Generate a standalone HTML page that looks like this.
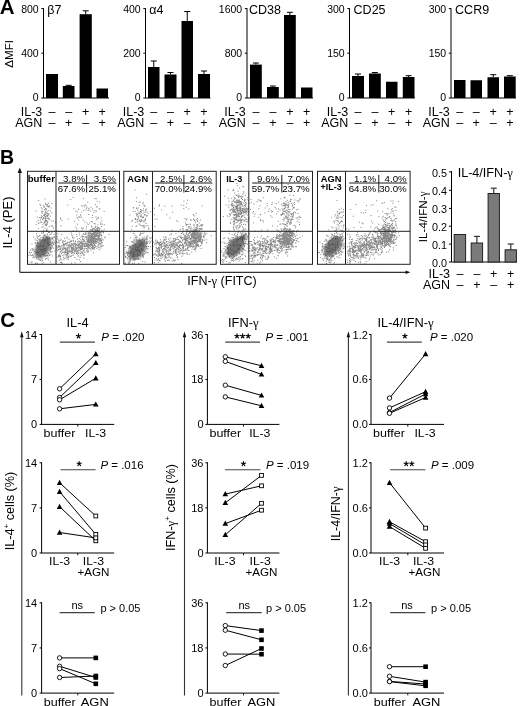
<!DOCTYPE html>
<html><head><meta charset="utf-8"><style>
html,body{margin:0;padding:0;background:#fff;width:520px;height:706px;overflow:hidden}
svg{display:block}
#w{width:520px;height:706px;will-change:transform}
text{font-family:"Liberation Sans",sans-serif;fill:#000}
</style></head><body><div id="w">
<svg width="520" height="706" viewBox="0 0 520 706">
<defs><filter id="soft" x="-10%" y="-10%" width="120%" height="120%"><feGaussianBlur stdDeviation="0.25"/></filter><filter id="coreblur" x="-50%" y="-50%" width="200%" height="200%"><feGaussianBlur stdDeviation="1.3"/></filter></defs>
<rect width="520" height="706" fill="#fff"/>
<text x="-0.3" y="14.3" font-size="20.5" text-anchor="start" font-weight="bold" >A</text>
<text transform="translate(13.0,53.8) rotate(-90)" font-size="11.6" text-anchor="middle">ΔMFI</text>
<line x1="43.5" y1="8.1" x2="43.5" y2="98" stroke="#000" stroke-width="1"/>
<line x1="41.3" y1="98" x2="109" y2="98" stroke="#000" stroke-width="1"/>
<line x1="41.3" y1="8.6" x2="43.5" y2="8.6" stroke="#000" stroke-width="1"/>
<line x1="41.3" y1="53.2" x2="43.5" y2="53.2" stroke="#000" stroke-width="1"/>
<text x="38.7" y="13.2" font-size="10.5" text-anchor="end" >800</text>
<text x="38.7" y="57.0" font-size="10.5" text-anchor="end" >400</text>
<text x="38.7" y="100.8" font-size="10.5" text-anchor="end" >0</text>
<text x="47.2" y="13.6" font-size="12.5" text-anchor="start" >β7</text>
<rect x="46" y="74" width="12" height="24" fill="#000" stroke="none" stroke-width="0"/>
<rect x="62.8" y="86" width="11.700000000000003" height="12" fill="#000" stroke="none" stroke-width="0"/>
<line x1="68.65" y1="85.3" x2="68.65" y2="86" stroke="#000" stroke-width="1"/>
<line x1="65.65" y1="85.3" x2="71.65" y2="85.3" stroke="#000" stroke-width="1"/>
<rect x="79.6" y="14.2" width="12.200000000000003" height="83.8" fill="#000" stroke="none" stroke-width="0"/>
<line x1="85.69999999999999" y1="10.8" x2="85.69999999999999" y2="14.2" stroke="#000" stroke-width="1"/>
<line x1="82.69999999999999" y1="10.8" x2="88.69999999999999" y2="10.8" stroke="#000" stroke-width="1"/>
<rect x="96.5" y="88.5" width="11.5" height="9.5" fill="#000" stroke="none" stroke-width="0"/>
<text x="42.3" y="115.6" font-size="12.5" text-anchor="end" >IL-3</text>
<text x="42.3" y="127.1" font-size="12.5" text-anchor="end" >AGN</text>
<text x="52.0" y="115.6" font-size="12.5" text-anchor="middle" >–</text>
<text x="52.0" y="127.1" font-size="12.5" text-anchor="middle" >–</text>
<text x="68.65" y="115.6" font-size="12.5" text-anchor="middle" >–</text>
<text x="68.65" y="127.1" font-size="12.5" text-anchor="middle" >+</text>
<text x="85.69999999999999" y="115.6" font-size="12.5" text-anchor="middle" >+</text>
<text x="85.69999999999999" y="127.1" font-size="12.5" text-anchor="middle" >–</text>
<text x="102.25" y="115.6" font-size="12.5" text-anchor="middle" >+</text>
<text x="102.25" y="127.1" font-size="12.5" text-anchor="middle" >+</text>
<line x1="145.5" y1="8.1" x2="145.5" y2="98" stroke="#000" stroke-width="1"/>
<line x1="143.3" y1="98" x2="210.5" y2="98" stroke="#000" stroke-width="1"/>
<line x1="143.3" y1="8.6" x2="145.5" y2="8.6" stroke="#000" stroke-width="1"/>
<line x1="143.3" y1="53.2" x2="145.5" y2="53.2" stroke="#000" stroke-width="1"/>
<text x="140.7" y="13.2" font-size="10.5" text-anchor="end" >400</text>
<text x="140.7" y="57.0" font-size="10.5" text-anchor="end" >200</text>
<text x="140.7" y="100.8" font-size="10.5" text-anchor="end" >0</text>
<text x="149.3" y="13.6" font-size="12.5" text-anchor="start" >α4</text>
<rect x="148" y="67" width="11.5" height="31" fill="#000" stroke="none" stroke-width="0"/>
<line x1="153.75" y1="61" x2="153.75" y2="67" stroke="#000" stroke-width="1"/>
<line x1="150.75" y1="61" x2="156.75" y2="61" stroke="#000" stroke-width="1"/>
<rect x="164.5" y="74.5" width="12.0" height="23.5" fill="#000" stroke="none" stroke-width="0"/>
<line x1="170.5" y1="72.5" x2="170.5" y2="74.5" stroke="#000" stroke-width="1"/>
<line x1="167.5" y1="72.5" x2="173.5" y2="72.5" stroke="#000" stroke-width="1"/>
<rect x="181.5" y="21" width="11.5" height="77" fill="#000" stroke="none" stroke-width="0"/>
<line x1="187.25" y1="11.5" x2="187.25" y2="21" stroke="#000" stroke-width="1"/>
<line x1="184.25" y1="11.5" x2="190.25" y2="11.5" stroke="#000" stroke-width="1"/>
<rect x="198" y="74" width="12" height="24" fill="#000" stroke="none" stroke-width="0"/>
<line x1="204.0" y1="71" x2="204.0" y2="74" stroke="#000" stroke-width="1"/>
<line x1="201.0" y1="71" x2="207.0" y2="71" stroke="#000" stroke-width="1"/>
<text x="144.3" y="115.6" font-size="12.5" text-anchor="end" >IL-3</text>
<text x="144.3" y="127.1" font-size="12.5" text-anchor="end" >AGN</text>
<text x="153.75" y="115.6" font-size="12.5" text-anchor="middle" >–</text>
<text x="153.75" y="127.1" font-size="12.5" text-anchor="middle" >–</text>
<text x="170.5" y="115.6" font-size="12.5" text-anchor="middle" >–</text>
<text x="170.5" y="127.1" font-size="12.5" text-anchor="middle" >+</text>
<text x="187.25" y="115.6" font-size="12.5" text-anchor="middle" >+</text>
<text x="187.25" y="127.1" font-size="12.5" text-anchor="middle" >–</text>
<text x="204.0" y="115.6" font-size="12.5" text-anchor="middle" >+</text>
<text x="204.0" y="127.1" font-size="12.5" text-anchor="middle" >+</text>
<line x1="247.0" y1="8.1" x2="247.0" y2="98" stroke="#000" stroke-width="1"/>
<line x1="244.8" y1="98" x2="313" y2="98" stroke="#000" stroke-width="1"/>
<line x1="244.8" y1="8.6" x2="247.0" y2="8.6" stroke="#000" stroke-width="1"/>
<line x1="244.8" y1="53.2" x2="247.0" y2="53.2" stroke="#000" stroke-width="1"/>
<text x="242.2" y="13.2" font-size="10.5" text-anchor="end" >1600</text>
<text x="242.2" y="57.0" font-size="10.5" text-anchor="end" >800</text>
<text x="242.2" y="100.8" font-size="10.5" text-anchor="end" >0</text>
<text x="248.9" y="13.6" font-size="12.5" text-anchor="start" >CD38</text>
<rect x="250" y="64.6" width="11.800000000000011" height="33.400000000000006" fill="#000" stroke="none" stroke-width="0"/>
<line x1="255.9" y1="63.0" x2="255.9" y2="64.6" stroke="#000" stroke-width="1"/>
<line x1="252.9" y1="63.0" x2="258.9" y2="63.0" stroke="#000" stroke-width="1"/>
<rect x="267" y="87" width="11.800000000000011" height="11" fill="#000" stroke="none" stroke-width="0"/>
<line x1="272.9" y1="86" x2="272.9" y2="87" stroke="#000" stroke-width="1"/>
<line x1="269.9" y1="86" x2="275.9" y2="86" stroke="#000" stroke-width="1"/>
<rect x="284" y="15" width="11.800000000000011" height="83" fill="#000" stroke="none" stroke-width="0"/>
<line x1="289.9" y1="12.3" x2="289.9" y2="15" stroke="#000" stroke-width="1"/>
<line x1="286.9" y1="12.3" x2="292.9" y2="12.3" stroke="#000" stroke-width="1"/>
<rect x="301" y="87.5" width="11.5" height="10.5" fill="#000" stroke="none" stroke-width="0"/>
<text x="245.8" y="115.6" font-size="12.5" text-anchor="end" >IL-3</text>
<text x="245.8" y="127.1" font-size="12.5" text-anchor="end" >AGN</text>
<text x="255.9" y="115.6" font-size="12.5" text-anchor="middle" >–</text>
<text x="255.9" y="127.1" font-size="12.5" text-anchor="middle" >–</text>
<text x="272.9" y="115.6" font-size="12.5" text-anchor="middle" >–</text>
<text x="272.9" y="127.1" font-size="12.5" text-anchor="middle" >+</text>
<text x="289.9" y="115.6" font-size="12.5" text-anchor="middle" >+</text>
<text x="289.9" y="127.1" font-size="12.5" text-anchor="middle" >–</text>
<text x="306.75" y="115.6" font-size="12.5" text-anchor="middle" >+</text>
<text x="306.75" y="127.1" font-size="12.5" text-anchor="middle" >+</text>
<line x1="349.5" y1="8.1" x2="349.5" y2="98" stroke="#000" stroke-width="1"/>
<line x1="347.3" y1="98" x2="415" y2="98" stroke="#000" stroke-width="1"/>
<line x1="347.3" y1="8.6" x2="349.5" y2="8.6" stroke="#000" stroke-width="1"/>
<line x1="347.3" y1="53.2" x2="349.5" y2="53.2" stroke="#000" stroke-width="1"/>
<text x="344.7" y="13.2" font-size="10.5" text-anchor="end" >300</text>
<text x="344.7" y="57.0" font-size="10.5" text-anchor="end" >150</text>
<text x="344.7" y="100.8" font-size="10.5" text-anchor="end" >0</text>
<text x="353.6" y="13.6" font-size="12.5" text-anchor="start" >CD25</text>
<rect x="352" y="76" width="12" height="22" fill="#000" stroke="none" stroke-width="0"/>
<line x1="358.0" y1="74" x2="358.0" y2="76" stroke="#000" stroke-width="1"/>
<line x1="355.0" y1="74" x2="361.0" y2="74" stroke="#000" stroke-width="1"/>
<rect x="369" y="73.5" width="11.800000000000011" height="24.5" fill="#000" stroke="none" stroke-width="0"/>
<line x1="374.9" y1="72.5" x2="374.9" y2="73.5" stroke="#000" stroke-width="1"/>
<line x1="371.9" y1="72.5" x2="377.9" y2="72.5" stroke="#000" stroke-width="1"/>
<rect x="386" y="81.75" width="11.5" height="16.25" fill="#000" stroke="none" stroke-width="0"/>
<rect x="402.8" y="77" width="11.699999999999989" height="21" fill="#000" stroke="none" stroke-width="0"/>
<line x1="408.65" y1="75.7" x2="408.65" y2="77" stroke="#000" stroke-width="1"/>
<line x1="405.65" y1="75.7" x2="411.65" y2="75.7" stroke="#000" stroke-width="1"/>
<text x="348.3" y="115.6" font-size="12.5" text-anchor="end" >IL-3</text>
<text x="348.3" y="127.1" font-size="12.5" text-anchor="end" >AGN</text>
<text x="358.0" y="115.6" font-size="12.5" text-anchor="middle" >–</text>
<text x="358.0" y="127.1" font-size="12.5" text-anchor="middle" >–</text>
<text x="374.9" y="115.6" font-size="12.5" text-anchor="middle" >–</text>
<text x="374.9" y="127.1" font-size="12.5" text-anchor="middle" >+</text>
<text x="391.75" y="115.6" font-size="12.5" text-anchor="middle" >+</text>
<text x="391.75" y="127.1" font-size="12.5" text-anchor="middle" >–</text>
<text x="408.65" y="115.6" font-size="12.5" text-anchor="middle" >+</text>
<text x="408.65" y="127.1" font-size="12.5" text-anchor="middle" >+</text>
<line x1="451.0" y1="8.1" x2="451.0" y2="98" stroke="#000" stroke-width="1"/>
<line x1="448.8" y1="98" x2="516" y2="98" stroke="#000" stroke-width="1"/>
<line x1="448.8" y1="8.6" x2="451.0" y2="8.6" stroke="#000" stroke-width="1"/>
<line x1="448.8" y1="53.2" x2="451.0" y2="53.2" stroke="#000" stroke-width="1"/>
<text x="446.2" y="13.2" font-size="10.5" text-anchor="end" >300</text>
<text x="446.2" y="57.0" font-size="10.5" text-anchor="end" >150</text>
<text x="446.2" y="100.8" font-size="10.5" text-anchor="end" >0</text>
<text x="455.1" y="13.6" font-size="12.5" text-anchor="start" >CCR9</text>
<rect x="454" y="80" width="11.5" height="18" fill="#000" stroke="none" stroke-width="0"/>
<rect x="470.5" y="80.25" width="11.5" height="17.75" fill="#000" stroke="none" stroke-width="0"/>
<rect x="487.5" y="77.25" width="11.5" height="20.75" fill="#000" stroke="none" stroke-width="0"/>
<line x1="493.25" y1="74.7" x2="493.25" y2="77.25" stroke="#000" stroke-width="1"/>
<line x1="490.25" y1="74.7" x2="496.25" y2="74.7" stroke="#000" stroke-width="1"/>
<rect x="504" y="76.5" width="11.700000000000045" height="21.5" fill="#000" stroke="none" stroke-width="0"/>
<line x1="509.85" y1="75.7" x2="509.85" y2="76.5" stroke="#000" stroke-width="1"/>
<line x1="506.85" y1="75.7" x2="512.85" y2="75.7" stroke="#000" stroke-width="1"/>
<text x="449.8" y="115.6" font-size="12.5" text-anchor="end" >IL-3</text>
<text x="449.8" y="127.1" font-size="12.5" text-anchor="end" >AGN</text>
<text x="459.75" y="115.6" font-size="12.5" text-anchor="middle" >–</text>
<text x="459.75" y="127.1" font-size="12.5" text-anchor="middle" >–</text>
<text x="476.25" y="115.6" font-size="12.5" text-anchor="middle" >–</text>
<text x="476.25" y="127.1" font-size="12.5" text-anchor="middle" >+</text>
<text x="493.25" y="115.6" font-size="12.5" text-anchor="middle" >+</text>
<text x="493.25" y="127.1" font-size="12.5" text-anchor="middle" >–</text>
<text x="509.85" y="115.6" font-size="12.5" text-anchor="middle" >+</text>
<text x="509.85" y="127.1" font-size="12.5" text-anchor="middle" >+</text>
<text x="0" y="163.5" font-size="19.5" text-anchor="start" font-weight="bold" >B</text>
<line x1="19.8" y1="172" x2="19.8" y2="272.3" stroke="#333" stroke-width="1.2"/>
<polygon points="19.8,167.5 17.6,173 22,173" fill="#111"/>
<line x1="19.8" y1="272.3" x2="406" y2="272.3" stroke="#333" stroke-width="1.2"/>
<polygon points="410.3,272.3 405.6,270.5 405.6,274.1" fill="#111"/>
<text transform="translate(12.4,222.5) rotate(-90)" font-size="13" text-anchor="middle">IL-4 (PE)</text>
<text x="222" y="284.5" font-size="12.5" text-anchor="middle" >IFN-<tspan style="font-family:Liberation Serif">γ</tspan> (FITC)</text>
<clipPath id="cp0"><rect x="27.5" y="171.3" width="92.0" height="93.0"/></clipPath>
<g clip-path="url(#cp0)">
<ellipse cx="43" cy="247.5" rx="6.6" ry="12.0" transform="rotate(30 43 247.5)" fill="#707070" filter="url(#coreblur)"/>
<path d="M43.3 244.3h1v1h-1zM44.0 249.3h1v1h-1zM32.4 248.8h1v1h-1zM42.7 230.7h1v1h-1zM42.8 250.5h1v1h-1zM33.3 257.2h1v1h-1zM44.9 239.3h1v1h-1zM50.8 237.7h1v1h-1zM35.6 239.7h1v1h-1zM45.4 247.8h1v1h-1zM33.3 249.1h1v1h-1zM47.8 253.1h1v1h-1zM48.7 238.3h1v1h-1zM48.1 244.3h1v1h-1zM46.1 237.1h1v1h-1zM56.7 236.1h1v1h-1zM35.7 245.0h1v1h-1zM46.9 254.6h1v1h-1zM44.8 224.8h1v1h-1zM47.5 242.8h1v1h-1zM34.2 251.0h1v1h-1zM47.4 255.3h1v1h-1zM31.1 252.0h1v1h-1zM45.0 253.1h1v1h-1zM37.0 237.7h1v1h-1zM53.9 236.6h1v1h-1zM30.9 254.9h1v1h-1zM35.4 251.4h1v1h-1zM51.1 247.6h1v1h-1zM37.6 242.6h1v1h-1zM53.2 243.4h1v1h-1zM53.5 241.4h1v1h-1zM44.5 255.8h1v1h-1zM50.4 254.3h1v1h-1zM61.2 233.8h1v1h-1zM37.2 245.9h1v1h-1zM52.1 255.5h1v1h-1zM33.1 236.8h1v1h-1zM52.0 241.4h1v1h-1zM40.7 259.5h1v1h-1zM37.0 240.3h1v1h-1zM58.5 231.1h1v1h-1zM53.5 239.7h1v1h-1zM51.9 238.4h1v1h-1zM36.5 257.4h1v1h-1zM59.5 245.9h1v1h-1zM42.4 232.7h1v1h-1zM49.5 241.9h1v1h-1zM44.4 234.2h1v1h-1zM45.5 255.3h1v1h-1zM53.1 244.2h1v1h-1zM40.0 259.9h1v1h-1zM32.9 255.6h1v1h-1zM28.8 251.8h1v1h-1zM53.6 243.7h1v1h-1zM42.0 260.1h1v1h-1zM50.0 249.4h1v1h-1zM35.7 252.2h1v1h-1zM43.0 248.1h1v1h-1zM50.2 248.7h1v1h-1zM34.6 238.6h1v1h-1zM31.7 248.0h1v1h-1zM43.0 261.9h1v1h-1zM39.2 234.8h1v1h-1zM30.2 249.5h1v1h-1zM37.7 243.8h1v1h-1zM42.3 246.3h1v1h-1zM50.6 251.8h1v1h-1zM47.2 237.8h1v1h-1zM38.3 238.7h1v1h-1zM44.2 255.0h1v1h-1zM38.8 238.7h1v1h-1zM42.2 239.4h1v1h-1zM36.8 242.4h1v1h-1zM36.4 246.6h1v1h-1zM31.5 243.4h1v1h-1zM48.0 231.9h1v1h-1zM36.8 235.4h1v1h-1zM43.4 254.1h1v1h-1zM46.1 254.9h1v1h-1zM53.3 233.7h1v1h-1zM41.6 258.3h1v1h-1zM58.4 239.7h1v1h-1zM35.3 265.0h1v1h-1zM51.6 250.9h1v1h-1zM40.0 242.0h1v1h-1zM42.7 239.0h1v1h-1zM50.0 261.6h1v1h-1zM56.1 230.6h1v1h-1zM48.6 254.2h1v1h-1zM30.4 249.3h1v1h-1zM47.2 242.9h1v1h-1zM41.5 262.8h1v1h-1zM39.6 238.9h1v1h-1zM48.0 259.5h1v1h-1zM43.2 234.7h1v1h-1zM46.4 258.1h1v1h-1zM47.6 257.2h1v1h-1zM38.2 246.6h1v1h-1zM36.6 236.4h1v1h-1zM40.7 250.5h1v1h-1zM44.9 250.0h1v1h-1zM46.5 241.4h1v1h-1zM34.6 242.7h1v1h-1zM48.8 226.1h1v1h-1zM32.2 255.3h1v1h-1zM46.8 236.6h1v1h-1zM46.6 255.6h1v1h-1zM46.3 257.9h1v1h-1zM51.8 242.1h1v1h-1zM31.9 264.1h1v1h-1zM49.2 248.6h1v1h-1zM33.0 265.2h1v1h-1zM37.2 245.4h1v1h-1zM40.0 255.7h1v1h-1zM40.9 240.0h1v1h-1zM48.9 236.9h1v1h-1zM49.1 232.0h1v1h-1zM47.7 236.6h1v1h-1zM48.9 255.1h1v1h-1zM51.3 243.6h1v1h-1zM49.5 233.9h1v1h-1zM35.0 241.9h1v1h-1zM52.8 236.4h1v1h-1zM39.4 235.1h1v1h-1zM45.9 235.7h1v1h-1zM44.8 258.8h1v1h-1zM39.3 240.2h1v1h-1zM42.7 236.9h1v1h-1zM51.5 237.2h1v1h-1zM37.7 243.7h1v1h-1zM53.1 227.7h1v1h-1zM35.7 244.6h1v1h-1zM49.1 237.8h1v1h-1zM45.3 235.8h1v1h-1zM54.4 250.6h1v1h-1zM57.3 233.3h1v1h-1zM36.3 264.7h1v1h-1zM52.2 242.9h1v1h-1zM35.6 262.3h1v1h-1zM32.6 257.2h1v1h-1zM50.1 251.3h1v1h-1zM51.9 245.7h1v1h-1zM48.8 250.3h1v1h-1zM45.1 258.6h1v1h-1zM31.6 261.5h1v1h-1zM40.4 245.1h1v1h-1zM28.3 255.0h1v1h-1zM53.8 242.0h1v1h-1zM43.0 232.0h1v1h-1zM49.9 246.8h1v1h-1zM46.8 239.2h1v1h-1zM48.9 237.1h1v1h-1zM41.5 249.0h1v1h-1zM34.6 256.6h1v1h-1zM43.8 241.0h1v1h-1zM42.2 251.3h1v1h-1zM37.1 263.0h1v1h-1zM39.9 245.3h1v1h-1zM62.6 241.1h1v1h-1zM40.5 248.9h1v1h-1zM38.3 236.1h1v1h-1zM36.0 248.7h1v1h-1zM45.6 247.5h1v1h-1zM37.0 243.3h1v1h-1zM53.3 247.8h1v1h-1zM48.4 253.0h1v1h-1zM49.6 244.5h1v1h-1zM29.5 252.5h1v1h-1zM53.9 237.1h1v1h-1zM37.4 241.8h1v1h-1zM51.8 246.7h1v1h-1zM44.0 235.0h1v1h-1zM36.4 246.3h1v1h-1zM48.6 254.2h1v1h-1zM35.1 263.1h1v1h-1zM43.3 236.4h1v1h-1zM38.2 242.3h1v1h-1zM42.8 246.1h1v1h-1zM50.5 247.9h1v1h-1zM49.7 243.9h1v1h-1zM51.1 248.1h1v1h-1zM36.4 243.4h1v1h-1zM46.0 230.5h1v1h-1zM51.3 237.3h1v1h-1zM40.1 245.2h1v1h-1zM37.7 259.3h1v1h-1zM30.6 261.7h1v1h-1zM40.1 245.5h1v1h-1zM46.0 229.4h1v1h-1zM42.4 254.0h1v1h-1zM35.2 266.8h1v1h-1zM55.2 242.6h1v1h-1zM55.2 222.2h1v1h-1zM38.4 264.2h1v1h-1zM44.2 239.9h1v1h-1zM32.2 254.2h1v1h-1zM29.8 254.2h1v1h-1zM32.4 249.9h1v1h-1zM44.2 248.4h1v1h-1zM51.4 232.1h1v1h-1zM50.2 247.8h1v1h-1zM36.1 257.7h1v1h-1zM50.1 251.5h1v1h-1zM51.2 245.1h1v1h-1zM56.0 248.4h1v1h-1zM51.5 237.6h1v1h-1zM52.5 238.2h1v1h-1zM37.8 251.9h1v1h-1zM39.0 259.3h1v1h-1zM47.3 252.0h1v1h-1zM27.5 261.0h1v1h-1zM60.5 238.8h1v1h-1zM42.4 237.2h1v1h-1zM50.6 233.5h1v1h-1zM46.7 228.4h1v1h-1zM42.8 217.7h1v1h-1zM47.9 214.5h1v1h-1zM46.1 220.1h1v1h-1zM39.5 203.9h1v1h-1zM45.9 208.6h1v1h-1zM44.9 218.3h1v1h-1zM41.7 208.4h1v1h-1zM41.4 226.9h1v1h-1zM35.7 223.9h1v1h-1zM44.7 210.6h1v1h-1zM46.0 215.5h1v1h-1zM40.8 215.3h1v1h-1zM45.1 219.9h1v1h-1zM45.1 215.7h1v1h-1zM35.5 210.6h1v1h-1zM46.8 221.4h1v1h-1zM41.1 210.7h1v1h-1zM40.2 204.9h1v1h-1zM46.6 223.5h1v1h-1zM44.6 219.5h1v1h-1zM50.6 207.5h1v1h-1zM44.9 216.1h1v1h-1zM48.9 205.3h1v1h-1zM38.3 220.0h1v1h-1zM42.1 218.8h1v1h-1zM47.4 220.8h1v1h-1zM48.7 218.9h1v1h-1zM45.0 203.9h1v1h-1zM48.7 205.9h1v1h-1zM44.5 227.7h1v1h-1zM38.2 222.9h1v1h-1zM41.7 216.0h1v1h-1zM38.2 199.9h1v1h-1zM46.8 234.1h1v1h-1zM48.2 217.6h1v1h-1zM45.6 231.0h1v1h-1zM51.5 212.2h1v1h-1zM41.0 232.5h1v1h-1zM43.5 222.5h1v1h-1zM50.0 210.4h1v1h-1zM42.8 205.2h1v1h-1zM49.7 215.7h1v1h-1zM48.5 205.9h1v1h-1zM47.8 209.9h1v1h-1zM44.1 206.1h1v1h-1zM44.0 222.5h1v1h-1zM43.8 214.6h1v1h-1zM47.0 214.5h1v1h-1zM47.0 217.7h1v1h-1zM48.5 213.6h1v1h-1zM45.6 218.6h1v1h-1zM51.2 220.4h1v1h-1zM40.7 207.2h1v1h-1zM44.9 213.9h1v1h-1zM41.6 212.7h1v1h-1zM48.2 202.7h1v1h-1zM46.2 215.0h1v1h-1zM51.3 203.1h1v1h-1zM46.9 215.6h1v1h-1zM45.6 221.0h1v1h-1zM53.0 220.5h1v1h-1zM47.3 205.8h1v1h-1zM47.7 206.3h1v1h-1zM44.6 220.8h1v1h-1zM50.8 225.3h1v1h-1zM46.0 224.2h1v1h-1zM44.2 217.8h1v1h-1zM44.9 223.9h1v1h-1zM44.1 209.0h1v1h-1zM40.3 236.8h1v1h-1zM36.8 216.6h1v1h-1zM44.2 215.6h1v1h-1zM41.2 221.7h1v1h-1zM45.6 209.2h1v1h-1zM43.5 206.9h1v1h-1zM46.7 233.6h1v1h-1zM51.5 225.5h1v1h-1zM45.1 217.4h1v1h-1zM47.1 230.8h1v1h-1zM45.4 216.9h1v1h-1zM40.1 217.6h1v1h-1zM45.8 211.8h1v1h-1zM41.1 217.3h1v1h-1zM46.6 211.2h1v1h-1zM48.2 214.6h1v1h-1zM46.4 229.9h1v1h-1zM43.0 217.0h1v1h-1zM43.9 214.4h1v1h-1zM46.5 204.2h1v1h-1zM46.4 205.4h1v1h-1zM42.4 223.8h1v1h-1zM38.0 228.0h1v1h-1zM52.5 226.2h1v1h-1zM47.8 217.9h1v1h-1zM44.3 235.2h1v1h-1zM40.9 216.9h1v1h-1zM47.3 212.9h1v1h-1zM40.0 219.5h1v1h-1zM45.2 202.8h1v1h-1zM42.6 210.7h1v1h-1zM43.9 221.4h1v1h-1zM48.4 206.6h1v1h-1zM44.9 211.8h1v1h-1zM38.3 222.5h1v1h-1zM43.1 214.9h1v1h-1zM36.5 221.2h1v1h-1zM45.2 222.5h1v1h-1zM42.9 229.6h1v1h-1zM46.4 212.9h1v1h-1zM46.8 222.3h1v1h-1zM42.6 226.2h1v1h-1zM47.0 223.4h1v1h-1zM49.3 238.4h1v1h-1zM44.7 213.1h1v1h-1zM46.9 216.1h1v1h-1zM36.0 233.2h1v1h-1zM46.9 203.7h1v1h-1zM42.5 219.2h1v1h-1zM43.7 213.9h1v1h-1zM46.1 225.1h1v1h-1zM49.1 218.8h1v1h-1zM46.6 204.4h1v1h-1zM39.1 217.0h1v1h-1zM42.7 218.1h1v1h-1zM41.6 211.7h1v1h-1zM44.5 198.5h1v1h-1zM40.0 221.7h1v1h-1zM45.0 208.1h1v1h-1zM45.9 230.5h1v1h-1zM90.8 233.4h1v1h-1zM88.5 234.9h1v1h-1zM73.4 253.6h1v1h-1zM58.4 255.3h1v1h-1zM83.3 240.2h1v1h-1zM71.1 248.6h1v1h-1zM71.0 234.4h1v1h-1zM62.5 240.1h1v1h-1zM67.7 247.7h1v1h-1zM57.6 249.6h1v1h-1zM88.4 240.0h1v1h-1zM59.2 246.3h1v1h-1zM82.1 242.5h1v1h-1zM87.0 241.1h1v1h-1zM93.6 248.0h1v1h-1zM72.0 243.7h1v1h-1zM94.1 241.5h1v1h-1zM67.2 248.6h1v1h-1zM70.9 250.7h1v1h-1zM70.3 251.4h1v1h-1zM86.9 240.4h1v1h-1zM65.8 242.8h1v1h-1zM66.8 256.4h1v1h-1zM86.6 237.6h1v1h-1zM78.9 259.2h1v1h-1zM68.6 238.7h1v1h-1zM86.8 242.9h1v1h-1zM79.8 252.6h1v1h-1zM71.2 243.3h1v1h-1zM71.3 253.1h1v1h-1zM66.5 249.1h1v1h-1zM67.7 253.1h1v1h-1zM73.3 249.3h1v1h-1zM79.8 253.4h1v1h-1zM92.1 245.0h1v1h-1zM91.6 238.3h1v1h-1zM88.4 241.2h1v1h-1zM59.5 248.0h1v1h-1zM67.2 250.3h1v1h-1zM66.1 242.8h1v1h-1zM65.0 243.0h1v1h-1zM65.0 243.7h1v1h-1zM85.1 232.6h1v1h-1zM87.5 239.3h1v1h-1zM80.9 241.7h1v1h-1zM75.1 241.2h1v1h-1zM67.1 251.4h1v1h-1zM77.3 247.9h1v1h-1zM60.7 249.8h1v1h-1zM77.6 244.6h1v1h-1zM87.1 243.1h1v1h-1zM83.1 239.2h1v1h-1zM73.5 245.8h1v1h-1zM81.0 243.0h1v1h-1zM78.7 232.5h1v1h-1zM71.3 246.5h1v1h-1zM75.7 244.8h1v1h-1zM83.3 239.6h1v1h-1zM88.6 245.9h1v1h-1zM77.1 241.3h1v1h-1zM71.9 249.7h1v1h-1zM87.7 251.4h1v1h-1zM71.1 246.4h1v1h-1zM78.4 244.1h1v1h-1zM86.5 246.3h1v1h-1zM66.5 243.3h1v1h-1zM89.1 244.5h1v1h-1zM90.2 240.8h1v1h-1zM69.4 247.8h1v1h-1zM90.3 236.1h1v1h-1zM88.7 238.4h1v1h-1zM78.8 238.1h1v1h-1zM79.2 240.9h1v1h-1zM79.9 246.1h1v1h-1zM61.0 251.5h1v1h-1zM88.3 238.5h1v1h-1zM72.2 237.6h1v1h-1zM78.3 249.6h1v1h-1zM72.4 252.0h1v1h-1zM81.8 243.2h1v1h-1zM79.3 245.5h1v1h-1zM84.8 236.7h1v1h-1zM75.4 246.6h1v1h-1zM83.4 238.5h1v1h-1zM74.5 247.2h1v1h-1zM81.7 247.0h1v1h-1zM59.9 251.1h1v1h-1zM62.3 249.1h1v1h-1zM90.2 242.1h1v1h-1zM84.5 251.9h1v1h-1zM66.6 252.3h1v1h-1zM85.6 236.2h1v1h-1zM58.6 242.8h1v1h-1zM75.5 244.1h1v1h-1zM93.6 239.6h1v1h-1zM55.9 241.1h1v1h-1zM59.1 259.7h1v1h-1zM64.4 243.6h1v1h-1zM58.0 256.5h1v1h-1zM73.3 243.2h1v1h-1zM85.9 248.0h1v1h-1zM79.6 246.8h1v1h-1zM89.3 239.2h1v1h-1zM78.4 246.7h1v1h-1zM93.2 231.2h1v1h-1zM66.4 237.1h1v1h-1zM87.6 239.2h1v1h-1zM74.4 242.6h1v1h-1zM80.5 236.5h1v1h-1zM87.7 242.4h1v1h-1zM65.2 251.9h1v1h-1zM88.3 241.0h1v1h-1zM89.8 232.1h1v1h-1zM78.3 255.6h1v1h-1zM86.3 231.4h1v1h-1zM71.8 251.1h1v1h-1zM88.1 250.6h1v1h-1zM92.6 247.7h1v1h-1zM81.8 244.4h1v1h-1zM66.7 237.4h1v1h-1zM76.8 251.5h1v1h-1zM86.6 249.5h1v1h-1zM92.5 237.0h1v1h-1zM74.3 243.8h1v1h-1zM65.3 257.6h1v1h-1zM69.4 244.6h1v1h-1zM76.9 246.7h1v1h-1zM94.4 241.7h1v1h-1zM81.2 240.9h1v1h-1zM78.7 250.0h1v1h-1zM62.3 254.9h1v1h-1zM88.0 242.1h1v1h-1zM67.2 241.8h1v1h-1zM93.3 231.3h1v1h-1zM93.6 241.8h1v1h-1zM64.9 251.1h1v1h-1zM56.1 245.9h1v1h-1zM77.5 241.8h1v1h-1zM58.2 246.6h1v1h-1zM62.7 248.4h1v1h-1zM76.1 233.9h1v1h-1zM81.2 247.4h1v1h-1zM67.6 245.1h1v1h-1zM66.5 249.7h1v1h-1zM73.0 239.7h1v1h-1zM91.3 244.5h1v1h-1zM81.3 230.6h1v1h-1zM60.7 258.9h1v1h-1zM92.1 236.8h1v1h-1zM79.5 241.8h1v1h-1zM69.3 250.5h1v1h-1zM75.8 249.4h1v1h-1zM62.3 248.5h1v1h-1zM84.4 244.5h1v1h-1zM92.9 252.5h1v1h-1zM90.6 239.6h1v1h-1zM76.8 253.7h1v1h-1zM87.9 237.6h1v1h-1zM70.7 241.1h1v1h-1zM81.5 247.2h1v1h-1zM58.7 242.4h1v1h-1zM63.3 245.8h1v1h-1zM73.3 250.4h1v1h-1zM88.4 244.5h1v1h-1zM74.3 256.9h1v1h-1zM61.8 249.5h1v1h-1zM90.5 238.1h1v1h-1zM74.9 250.1h1v1h-1zM61.6 263.1h1v1h-1zM95.5 239.0h1v1h-1zM68.4 246.5h1v1h-1zM83.5 257.5h1v1h-1zM58.1 245.3h1v1h-1zM65.2 249.6h1v1h-1zM77.6 250.8h1v1h-1zM92.0 247.5h1v1h-1zM63.3 259.3h1v1h-1zM84.2 245.3h1v1h-1zM59.0 245.3h1v1h-1zM68.0 256.1h1v1h-1zM84.6 236.6h1v1h-1zM66.9 252.8h1v1h-1zM72.4 244.6h1v1h-1zM86.3 250.8h1v1h-1zM89.6 241.5h1v1h-1zM88.6 242.5h1v1h-1zM68.2 258.7h1v1h-1zM71.7 251.9h1v1h-1zM81.4 244.7h1v1h-1zM73.2 245.8h1v1h-1zM85.4 233.2h1v1h-1zM68.8 241.7h1v1h-1zM88.4 246.8h1v1h-1zM91.5 240.7h1v1h-1zM76.9 244.9h1v1h-1zM93.9 243.5h1v1h-1zM60.9 261.6h1v1h-1zM60.1 256.4h1v1h-1zM66.4 249.8h1v1h-1zM76.6 243.4h1v1h-1zM62.5 242.5h1v1h-1zM60.0 255.7h1v1h-1zM75.9 248.4h1v1h-1zM73.7 252.5h1v1h-1zM90.9 247.0h1v1h-1zM86.8 251.4h1v1h-1zM91.4 244.1h1v1h-1zM87.4 240.9h1v1h-1zM93.0 236.1h1v1h-1zM65.3 254.0h1v1h-1zM95.4 229.7h1v1h-1zM88.3 240.6h1v1h-1zM80.0 241.8h1v1h-1zM64.6 252.3h1v1h-1zM70.3 246.6h1v1h-1zM73.1 246.2h1v1h-1zM64.8 247.4h1v1h-1zM90.8 233.8h1v1h-1zM90.9 240.4h1v1h-1zM81.2 252.2h1v1h-1zM64.1 244.4h1v1h-1zM80.6 250.9h1v1h-1zM74.7 244.8h1v1h-1zM68.1 245.2h1v1h-1zM81.3 242.6h1v1h-1zM65.4 249.6h1v1h-1zM63.2 251.7h1v1h-1zM67.1 250.5h1v1h-1zM67.9 252.4h1v1h-1zM87.4 237.4h1v1h-1zM82.4 252.1h1v1h-1zM72.5 243.6h1v1h-1zM74.4 249.9h1v1h-1zM64.0 248.1h1v1h-1zM80.7 244.9h1v1h-1zM89.9 248.1h1v1h-1zM74.7 262.2h1v1h-1zM68.4 244.2h1v1h-1zM60.7 245.3h1v1h-1zM58.1 254.8h1v1h-1zM85.8 245.4h1v1h-1zM93.4 237.5h1v1h-1zM68.5 254.5h1v1h-1zM82.1 235.9h1v1h-1zM76.5 235.9h1v1h-1zM83.3 244.1h1v1h-1zM84.6 241.8h1v1h-1zM92.6 241.7h1v1h-1zM75.4 244.7h1v1h-1zM76.5 249.6h1v1h-1zM89.0 238.2h1v1h-1zM71.9 248.5h1v1h-1zM66.7 252.7h1v1h-1zM70.5 256.1h1v1h-1zM87.7 241.7h1v1h-1zM63.7 252.3h1v1h-1zM78.3 243.5h1v1h-1zM90.7 249.7h1v1h-1zM89.8 240.9h1v1h-1zM73.4 245.9h1v1h-1zM57.2 247.5h1v1h-1zM92.2 234.6h1v1h-1zM93.1 239.4h1v1h-1zM82.0 246.8h1v1h-1zM77.4 255.4h1v1h-1zM82.0 243.2h1v1h-1zM69.7 251.3h1v1h-1zM81.6 234.7h1v1h-1zM73.5 248.6h1v1h-1zM93.8 245.2h1v1h-1zM88.6 246.1h1v1h-1zM95.0 234.9h1v1h-1zM63.0 243.8h1v1h-1zM91.3 241.3h1v1h-1zM73.7 250.4h1v1h-1zM75.5 245.3h1v1h-1zM62.5 242.8h1v1h-1zM72.6 246.8h1v1h-1zM56.4 256.5h1v1h-1zM68.6 247.1h1v1h-1zM69.7 240.9h1v1h-1zM83.0 249.7h1v1h-1zM77.8 253.1h1v1h-1zM79.2 245.0h1v1h-1zM73.3 248.9h1v1h-1zM86.4 244.2h1v1h-1zM60.7 247.5h1v1h-1zM80.5 242.4h1v1h-1zM57.6 245.2h1v1h-1zM83.6 245.8h1v1h-1zM69.8 255.8h1v1h-1zM78.2 249.6h1v1h-1zM74.6 251.0h1v1h-1zM80.7 243.1h1v1h-1zM80.6 245.8h1v1h-1zM93.2 237.2h1v1h-1zM91.7 237.1h1v1h-1zM81.6 242.7h1v1h-1zM93.2 245.6h1v1h-1zM84.5 247.7h1v1h-1zM87.6 242.3h1v1h-1zM66.9 253.4h1v1h-1zM65.3 248.0h1v1h-1zM79.7 249.4h1v1h-1zM71.2 248.0h1v1h-1zM62.3 244.4h1v1h-1zM66.7 253.0h1v1h-1zM68.2 250.4h1v1h-1zM71.3 255.0h1v1h-1zM60.2 262.0h1v1h-1zM59.2 253.8h1v1h-1zM88.3 246.3h1v1h-1zM81.7 252.6h1v1h-1zM66.6 246.5h1v1h-1zM64.9 249.5h1v1h-1zM83.6 254.9h1v1h-1zM78.6 247.7h1v1h-1zM80.8 255.3h1v1h-1zM59.8 249.0h1v1h-1zM67.5 242.1h1v1h-1zM80.8 241.8h1v1h-1zM72.6 248.6h1v1h-1zM88.4 248.6h1v1h-1zM59.8 247.5h1v1h-1zM75.9 247.5h1v1h-1zM68.9 250.7h1v1h-1zM83.9 248.5h1v1h-1zM92.0 230.5h1v1h-1zM90.5 244.6h1v1h-1zM57.2 242.1h1v1h-1zM68.5 251.7h1v1h-1zM83.6 253.9h1v1h-1zM69.7 244.4h1v1h-1zM63.5 244.4h1v1h-1zM84.5 243.6h1v1h-1zM63.6 254.3h1v1h-1zM72.7 248.1h1v1h-1zM82.5 253.6h1v1h-1zM78.4 240.5h1v1h-1zM73.0 241.3h1v1h-1zM58.3 241.3h1v1h-1zM70.7 251.0h1v1h-1zM81.2 245.5h1v1h-1zM61.5 245.6h1v1h-1zM91.7 238.8h1v1h-1zM81.4 249.0h1v1h-1zM88.4 244.1h1v1h-1zM89.9 246.0h1v1h-1zM83.1 233.1h1v1h-1zM80.4 244.6h1v1h-1zM81.9 246.2h1v1h-1zM94.0 247.0h1v1h-1zM57.9 239.4h1v1h-1zM63.1 243.5h1v1h-1zM80.1 242.8h1v1h-1zM58.3 255.5h1v1h-1zM64.4 251.9h1v1h-1zM83.3 239.7h1v1h-1zM64.6 247.7h1v1h-1zM91.8 244.2h1v1h-1zM91.8 246.4h1v1h-1zM70.4 240.4h1v1h-1zM87.0 249.6h1v1h-1zM77.3 246.7h1v1h-1zM89.5 244.7h1v1h-1zM70.8 249.1h1v1h-1zM68.4 256.8h1v1h-1zM75.0 249.4h1v1h-1zM74.2 248.5h1v1h-1zM64.4 251.6h1v1h-1zM87.6 247.0h1v1h-1zM93.6 239.3h1v1h-1zM74.7 247.1h1v1h-1zM81.0 245.7h1v1h-1zM79.1 234.6h1v1h-1zM81.8 248.0h1v1h-1zM64.8 251.4h1v1h-1zM88.6 245.0h1v1h-1zM83.2 233.5h1v1h-1zM64.0 237.7h1v1h-1zM84.8 245.9h1v1h-1zM87.7 246.5h1v1h-1zM76.0 252.8h1v1h-1zM68.0 250.4h1v1h-1zM81.9 236.2h1v1h-1zM93.0 239.0h1v1h-1zM76.7 249.6h1v1h-1zM81.1 248.8h1v1h-1zM59.5 255.0h1v1h-1zM62.0 251.7h1v1h-1zM64.2 248.4h1v1h-1zM90.6 234.5h1v1h-1zM72.7 254.8h1v1h-1zM75.4 247.8h1v1h-1zM72.3 236.7h1v1h-1zM92.0 244.8h1v1h-1zM72.6 244.0h1v1h-1zM65.6 251.6h1v1h-1zM77.7 243.7h1v1h-1zM93.7 239.3h1v1h-1zM80.8 242.4h1v1h-1zM81.7 240.6h1v1h-1zM80.3 242.8h1v1h-1zM81.2 248.7h1v1h-1zM91.6 241.8h1v1h-1zM82.2 244.3h1v1h-1zM80.7 249.0h1v1h-1zM70.9 245.0h1v1h-1zM72.8 249.1h1v1h-1zM90.1 240.5h1v1h-1zM89.7 243.8h1v1h-1zM77.2 251.8h1v1h-1zM78.3 252.2h1v1h-1zM59.3 249.1h1v1h-1zM59.6 251.5h1v1h-1zM74.9 240.6h1v1h-1zM84.2 240.5h1v1h-1zM94.5 237.8h1v1h-1zM87.8 243.9h1v1h-1zM91.1 237.1h1v1h-1zM62.3 247.4h1v1h-1zM65.8 249.2h1v1h-1zM79.9 249.1h1v1h-1zM81.1 248.3h1v1h-1zM81.9 239.0h1v1h-1zM92.5 238.7h1v1h-1zM83.9 250.5h1v1h-1zM83.2 241.0h1v1h-1zM70.9 232.5h1v1h-1zM86.4 245.1h1v1h-1zM58.2 246.4h1v1h-1zM63.3 245.5h1v1h-1zM67.2 254.4h1v1h-1zM88.2 240.5h1v1h-1zM59.9 258.2h1v1h-1zM62.9 247.2h1v1h-1zM82.5 245.5h1v1h-1zM88.0 239.5h1v1h-1zM87.9 241.8h1v1h-1zM71.0 253.0h1v1h-1zM90.3 240.1h1v1h-1zM64.9 240.5h1v1h-1zM71.0 247.2h1v1h-1zM86.7 248.3h1v1h-1zM81.4 246.6h1v1h-1zM66.8 243.5h1v1h-1zM59.3 255.9h1v1h-1zM73.5 243.2h1v1h-1zM72.4 247.4h1v1h-1zM71.3 248.2h1v1h-1zM95.3 240.9h1v1h-1zM82.3 248.0h1v1h-1zM75.9 252.9h1v1h-1zM81.6 240.4h1v1h-1zM55.9 246.5h1v1h-1zM90.5 234.1h1v1h-1zM80.3 247.4h1v1h-1zM89.7 233.3h1v1h-1zM82.0 252.3h1v1h-1zM83.0 242.4h1v1h-1zM68.9 245.2h1v1h-1zM58.6 255.2h1v1h-1zM93.1 240.7h1v1h-1zM66.4 254.0h1v1h-1zM65.2 250.1h1v1h-1zM72.4 248.5h1v1h-1zM68.8 249.6h1v1h-1zM67.6 256.8h1v1h-1zM79.2 243.0h1v1h-1zM91.5 239.8h1v1h-1zM59.9 240.1h1v1h-1zM70.8 240.8h1v1h-1zM91.6 243.9h1v1h-1zM91.0 245.0h1v1h-1zM58.5 255.1h1v1h-1zM84.1 248.6h1v1h-1zM62.2 241.3h1v1h-1zM82.4 252.4h1v1h-1zM93.1 239.2h1v1h-1zM88.7 238.7h1v1h-1zM62.9 256.7h1v1h-1zM88.1 232.3h1v1h-1zM63.9 257.8h1v1h-1zM79.8 248.5h1v1h-1zM71.3 249.5h1v1h-1zM57.8 246.4h1v1h-1zM74.8 243.0h1v1h-1zM78.0 247.0h1v1h-1zM78.9 244.6h1v1h-1zM80.1 239.3h1v1h-1zM61.0 252.9h1v1h-1zM88.5 247.8h1v1h-1zM71.1 244.5h1v1h-1zM77.0 238.5h1v1h-1zM69.5 242.7h1v1h-1zM84.3 233.8h1v1h-1zM69.3 231.1h1v1h-1zM73.9 253.0h1v1h-1zM92.9 241.2h1v1h-1zM73.6 237.5h1v1h-1zM71.9 246.7h1v1h-1zM86.1 243.4h1v1h-1zM63.7 252.3h1v1h-1zM79.6 257.1h1v1h-1zM71.4 250.0h1v1h-1zM85.8 241.4h1v1h-1zM58.3 245.9h1v1h-1zM92.2 240.2h1v1h-1zM70.6 240.9h1v1h-1zM69.9 245.8h1v1h-1zM86.8 246.0h1v1h-1zM72.6 245.0h1v1h-1zM75.6 251.6h1v1h-1zM92.2 238.0h1v1h-1zM66.4 254.7h1v1h-1zM66.5 258.4h1v1h-1zM80.0 260.9h1v1h-1zM64.4 247.1h1v1h-1zM90.6 238.5h1v1h-1zM86.1 238.8h1v1h-1zM66.5 248.5h1v1h-1zM62.3 241.5h1v1h-1zM71.5 240.3h1v1h-1zM66.0 244.8h1v1h-1zM87.3 239.9h1v1h-1zM91.1 241.4h1v1h-1zM61.0 262.0h1v1h-1zM58.1 248.9h1v1h-1zM85.7 244.8h1v1h-1zM84.1 246.2h1v1h-1zM91.3 230.5h1v1h-1zM95.3 241.0h1v1h-1zM86.9 240.9h1v1h-1zM76.4 251.5h1v1h-1zM65.5 252.3h1v1h-1zM69.6 245.4h1v1h-1zM76.6 250.2h1v1h-1zM63.5 245.8h1v1h-1zM84.3 242.9h1v1h-1zM67.1 247.4h1v1h-1zM71.1 262.4h1v1h-1zM90.4 237.2h1v1h-1zM63.7 251.4h1v1h-1zM57.1 250.2h1v1h-1zM78.0 245.5h1v1h-1zM82.1 237.8h1v1h-1zM76.3 230.0h1v1h-1zM89.9 236.3h1v1h-1zM65.6 255.4h1v1h-1zM70.6 250.8h1v1h-1zM62.6 249.4h1v1h-1zM81.1 242.4h1v1h-1zM79.4 247.2h1v1h-1zM66.7 256.8h1v1h-1zM87.2 241.5h1v1h-1zM82.4 250.4h1v1h-1zM76.3 258.8h1v1h-1zM57.0 238.3h1v1h-1zM72.3 235.2h1v1h-1zM64.2 241.1h1v1h-1zM90.4 241.9h1v1h-1zM91.2 240.3h1v1h-1zM90.4 231.6h1v1h-1zM92.5 242.8h1v1h-1zM92.3 235.5h1v1h-1zM92.6 234.0h1v1h-1zM98.8 233.4h1v1h-1zM94.1 230.5h1v1h-1zM92.2 237.0h1v1h-1zM100.7 245.4h1v1h-1zM90.2 235.4h1v1h-1zM87.8 234.9h1v1h-1zM95.2 239.6h1v1h-1zM96.9 231.5h1v1h-1zM90.2 229.3h1v1h-1zM101.3 230.3h1v1h-1zM98.8 237.8h1v1h-1zM98.6 228.5h1v1h-1zM96.7 238.5h1v1h-1zM95.0 238.8h1v1h-1zM90.5 243.6h1v1h-1zM90.6 235.8h1v1h-1zM98.4 239.1h1v1h-1zM101.2 236.4h1v1h-1zM90.7 238.3h1v1h-1zM97.0 228.5h1v1h-1zM98.6 242.6h1v1h-1zM91.7 241.0h1v1h-1zM95.3 241.3h1v1h-1zM92.9 240.6h1v1h-1zM97.7 236.9h1v1h-1zM93.8 235.8h1v1h-1zM97.8 243.7h1v1h-1zM94.5 240.9h1v1h-1zM95.4 246.0h1v1h-1zM99.8 240.4h1v1h-1zM96.7 233.9h1v1h-1zM88.7 240.6h1v1h-1zM92.2 233.2h1v1h-1zM99.2 238.0h1v1h-1zM90.8 242.4h1v1h-1zM93.9 241.4h1v1h-1zM90.6 229.2h1v1h-1zM92.6 240.4h1v1h-1zM87.0 231.1h1v1h-1zM98.8 248.9h1v1h-1zM94.1 231.8h1v1h-1zM93.2 232.6h1v1h-1zM101.1 240.1h1v1h-1zM91.5 240.7h1v1h-1zM86.4 236.7h1v1h-1zM95.0 235.4h1v1h-1zM91.3 233.4h1v1h-1zM87.6 238.8h1v1h-1zM91.1 239.4h1v1h-1zM98.3 233.1h1v1h-1zM90.2 236.8h1v1h-1zM97.7 229.9h1v1h-1zM94.8 231.4h1v1h-1zM100.8 238.4h1v1h-1zM88.5 233.7h1v1h-1zM95.2 234.0h1v1h-1zM95.3 238.5h1v1h-1zM95.8 234.4h1v1h-1zM100.7 240.9h1v1h-1zM93.8 235.8h1v1h-1zM92.4 229.4h1v1h-1zM93.7 236.7h1v1h-1zM93.5 231.7h1v1h-1zM82.8 227.6h1v1h-1zM98.3 227.2h1v1h-1zM97.2 240.1h1v1h-1zM94.6 236.4h1v1h-1zM98.2 236.2h1v1h-1zM94.7 240.8h1v1h-1zM94.8 246.4h1v1h-1zM90.5 234.4h1v1h-1zM93.9 237.3h1v1h-1zM92.3 246.0h1v1h-1zM97.5 227.2h1v1h-1zM94.9 239.9h1v1h-1zM99.7 238.5h1v1h-1zM91.9 240.5h1v1h-1zM89.7 237.0h1v1h-1zM90.2 243.2h1v1h-1zM97.8 247.2h1v1h-1zM93.8 235.9h1v1h-1zM93.1 242.2h1v1h-1zM90.7 240.0h1v1h-1zM93.6 240.1h1v1h-1zM95.9 232.5h1v1h-1zM93.2 227.8h1v1h-1zM91.3 233.5h1v1h-1zM99.0 234.3h1v1h-1zM96.0 235.3h1v1h-1zM89.8 239.4h1v1h-1zM102.6 239.5h1v1h-1zM99.8 239.4h1v1h-1zM98.8 246.7h1v1h-1zM88.3 233.1h1v1h-1zM89.0 236.6h1v1h-1zM93.5 232.8h1v1h-1zM96.9 245.8h1v1h-1zM100.4 245.4h1v1h-1zM95.5 238.7h1v1h-1zM100.8 241.4h1v1h-1zM98.9 234.9h1v1h-1zM93.3 233.3h1v1h-1zM100.1 232.3h1v1h-1zM95.8 237.9h1v1h-1zM94.6 235.1h1v1h-1zM96.7 232.9h1v1h-1zM95.6 243.1h1v1h-1zM92.9 242.3h1v1h-1zM100.0 245.6h1v1h-1zM91.5 245.1h1v1h-1zM99.1 243.8h1v1h-1zM99.0 235.9h1v1h-1zM98.8 237.5h1v1h-1zM93.2 233.7h1v1h-1zM93.3 235.9h1v1h-1zM88.7 238.3h1v1h-1zM89.5 239.7h1v1h-1zM100.7 242.7h1v1h-1zM101.5 244.4h1v1h-1zM104.5 236.2h1v1h-1zM91.7 235.8h1v1h-1zM91.2 243.3h1v1h-1zM85.8 236.7h1v1h-1zM98.8 239.7h1v1h-1zM98.5 231.4h1v1h-1zM93.3 236.0h1v1h-1zM97.0 239.6h1v1h-1zM101.0 230.5h1v1h-1zM96.3 247.8h1v1h-1zM100.3 237.9h1v1h-1zM98.6 235.6h1v1h-1zM100.5 234.0h1v1h-1zM98.4 237.9h1v1h-1zM92.1 237.7h1v1h-1zM94.9 233.4h1v1h-1zM95.8 232.4h1v1h-1zM99.6 239.2h1v1h-1zM99.2 240.1h1v1h-1zM96.3 230.0h1v1h-1zM94.0 236.8h1v1h-1zM93.2 236.3h1v1h-1zM93.7 234.4h1v1h-1zM91.7 234.3h1v1h-1zM90.8 241.7h1v1h-1zM96.3 239.1h1v1h-1zM98.4 234.9h1v1h-1zM99.5 228.0h1v1h-1zM92.7 236.9h1v1h-1zM101.8 242.2h1v1h-1zM98.5 240.4h1v1h-1zM93.1 235.9h1v1h-1zM92.7 237.1h1v1h-1zM90.4 235.2h1v1h-1zM93.2 239.0h1v1h-1zM92.8 238.4h1v1h-1zM97.1 239.2h1v1h-1zM98.3 232.2h1v1h-1zM95.5 235.9h1v1h-1zM99.3 234.5h1v1h-1zM96.3 230.2h1v1h-1zM93.9 233.2h1v1h-1zM95.0 233.6h1v1h-1zM94.9 237.7h1v1h-1zM91.2 240.3h1v1h-1zM92.8 246.7h1v1h-1zM99.5 239.8h1v1h-1zM95.5 243.2h1v1h-1zM96.3 228.8h1v1h-1zM97.8 237.9h1v1h-1zM85.7 228.2h1v1h-1zM100.4 238.3h1v1h-1zM92.4 227.9h1v1h-1zM91.0 244.1h1v1h-1zM86.2 239.2h1v1h-1zM104.5 237.3h1v1h-1zM91.5 239.2h1v1h-1zM97.6 238.5h1v1h-1zM94.4 229.0h1v1h-1zM97.1 240.2h1v1h-1zM96.7 239.1h1v1h-1zM95.7 240.9h1v1h-1zM108.6 233.9h1v1h-1zM96.2 231.0h1v1h-1zM88.0 236.6h1v1h-1zM100.6 231.9h1v1h-1zM93.3 234.0h1v1h-1zM89.5 229.7h1v1h-1zM95.4 234.4h1v1h-1zM94.2 232.0h1v1h-1zM100.4 247.6h1v1h-1zM91.9 229.2h1v1h-1zM100.0 243.5h1v1h-1zM103.0 232.3h1v1h-1zM94.8 227.1h1v1h-1zM96.7 230.2h1v1h-1zM88.1 240.2h1v1h-1zM96.7 226.6h1v1h-1zM91.9 248.6h1v1h-1zM85.5 234.1h1v1h-1zM102.9 245.2h1v1h-1zM95.7 232.8h1v1h-1zM96.5 233.4h1v1h-1zM96.4 241.7h1v1h-1zM95.4 242.3h1v1h-1zM100.1 232.4h1v1h-1zM94.0 231.7h1v1h-1zM96.5 227.8h1v1h-1zM91.1 225.6h1v1h-1zM96.9 232.0h1v1h-1zM100.0 240.3h1v1h-1zM96.9 232.6h1v1h-1zM88.7 231.2h1v1h-1zM95.1 236.0h1v1h-1zM94.3 236.6h1v1h-1zM100.6 242.4h1v1h-1zM90.2 239.8h1v1h-1zM91.5 237.7h1v1h-1zM95.8 241.1h1v1h-1zM98.1 230.7h1v1h-1zM94.6 238.6h1v1h-1zM94.2 244.2h1v1h-1zM89.5 239.1h1v1h-1zM95.7 234.1h1v1h-1zM94.5 235.2h1v1h-1zM96.1 233.6h1v1h-1zM93.6 249.0h1v1h-1zM93.2 239.2h1v1h-1zM99.2 232.1h1v1h-1zM98.1 233.4h1v1h-1zM85.0 236.5h1v1h-1zM83.1 235.9h1v1h-1zM97.8 245.2h1v1h-1zM97.6 241.7h1v1h-1zM97.5 236.5h1v1h-1zM99.1 234.6h1v1h-1zM96.1 233.0h1v1h-1zM93.9 238.3h1v1h-1zM87.5 233.3h1v1h-1zM91.1 236.1h1v1h-1zM102.6 231.9h1v1h-1zM94.2 234.8h1v1h-1zM91.9 232.7h1v1h-1zM98.7 235.3h1v1h-1zM92.0 230.5h1v1h-1zM91.5 240.8h1v1h-1zM91.1 226.7h1v1h-1zM91.2 236.6h1v1h-1zM96.4 236.2h1v1h-1zM98.1 230.0h1v1h-1zM90.9 234.6h1v1h-1zM95.1 226.0h1v1h-1zM94.1 228.2h1v1h-1zM98.5 237.5h1v1h-1zM101.4 245.9h1v1h-1zM96.7 234.7h1v1h-1zM90.5 233.1h1v1h-1zM98.8 237.9h1v1h-1zM94.9 229.3h1v1h-1zM93.7 244.8h1v1h-1zM93.7 242.6h1v1h-1zM85.3 243.1h1v1h-1zM90.7 229.2h1v1h-1zM93.3 232.1h1v1h-1zM101.1 234.7h1v1h-1zM93.8 232.7h1v1h-1zM97.8 242.1h1v1h-1zM98.3 228.6h1v1h-1zM93.7 238.7h1v1h-1zM86.8 235.5h1v1h-1zM98.4 243.5h1v1h-1zM96.7 240.3h1v1h-1zM98.2 237.9h1v1h-1zM87.3 245.3h1v1h-1zM97.5 235.7h1v1h-1zM91.5 247.7h1v1h-1zM96.1 240.7h1v1h-1zM93.2 237.4h1v1h-1zM94.7 241.5h1v1h-1zM87.3 245.0h1v1h-1zM94.7 239.9h1v1h-1zM98.7 233.5h1v1h-1zM98.0 230.4h1v1h-1zM95.6 232.2h1v1h-1zM98.9 243.4h1v1h-1zM90.0 237.7h1v1h-1zM91.8 229.2h1v1h-1zM94.4 241.2h1v1h-1zM99.3 233.5h1v1h-1zM93.7 243.3h1v1h-1zM94.6 245.1h1v1h-1zM102.2 238.9h1v1h-1zM91.6 234.6h1v1h-1zM97.9 235.1h1v1h-1zM95.1 238.4h1v1h-1zM88.6 234.0h1v1h-1zM93.2 231.9h1v1h-1zM95.7 234.2h1v1h-1zM93.0 243.2h1v1h-1zM100.6 235.1h1v1h-1zM92.5 228.4h1v1h-1zM87.5 243.8h1v1h-1zM94.8 231.9h1v1h-1zM89.3 242.2h1v1h-1zM93.5 239.1h1v1h-1zM98.4 232.1h1v1h-1zM89.1 235.5h1v1h-1zM96.7 234.9h1v1h-1zM94.2 238.1h1v1h-1zM91.0 239.6h1v1h-1zM98.5 230.5h1v1h-1zM91.4 234.1h1v1h-1zM92.1 234.7h1v1h-1zM99.0 229.2h1v1h-1zM96.2 234.1h1v1h-1zM89.2 222.6h1v1h-1zM81.0 227.5h1v1h-1zM100.1 222.3h1v1h-1zM96.4 219.1h1v1h-1zM99.2 201.5h1v1h-1zM90.8 220.9h1v1h-1zM86.4 206.4h1v1h-1zM60.2 217.5h1v1h-1zM96.6 206.3h1v1h-1zM67.2 204.6h1v1h-1zM61.5 220.0h1v1h-1zM103.8 224.3h1v1h-1zM74.3 220.8h1v1h-1zM60.5 225.5h1v1h-1zM72.6 197.1h1v1h-1zM87.2 201.7h1v1h-1zM70.2 199.0h1v1h-1zM78.4 215.9h1v1h-1zM95.8 198.3h1v1h-1zM96.7 200.8h1v1h-1zM67.8 218.4h1v1h-1zM73.3 208.3h1v1h-1zM84.3 204.4h1v1h-1zM95.1 204.1h1v1h-1zM97.3 224.5h1v1h-1zM82.8 198.0h1v1h-1zM94.3 198.0h1v1h-1zM81.2 211.4h1v1h-1zM60.0 218.4h1v1h-1zM91.8 216.9h1v1h-1zM76.2 214.4h1v1h-1zM85.3 204.7h1v1h-1zM98.6 230.9h1v1h-1zM95.6 229.7h1v1h-1zM72.8 230.5h1v1h-1zM77.1 217.4h1v1h-1zM78.9 216.8h1v1h-1zM94.8 223.4h1v1h-1zM88.2 213.9h1v1h-1zM80.5 215.5h1v1h-1zM83.2 210.0h1v1h-1zM96.3 218.4h1v1h-1zM87.7 210.1h1v1h-1zM95.4 210.1h1v1h-1zM82.7 219.6h1v1h-1zM95.3 230.3h1v1h-1zM96.7 229.7h1v1h-1zM101.7 223.8h1v1h-1zM95.9 206.6h1v1h-1zM81.0 205.3h1v1h-1zM100.0 223.8h1v1h-1zM93.3 211.9h1v1h-1zM85.3 209.3h1v1h-1zM93.3 230.8h1v1h-1zM83.9 206.2h1v1h-1zM80.1 214.2h1v1h-1zM101.1 225.9h1v1h-1zM88.2 207.7h1v1h-1zM78.1 209.0h1v1h-1zM97.5 217.3h1v1h-1zM103.7 228.7h1v1h-1zM98.0 217.4h1v1h-1zM98.8 208.3h1v1h-1zM78.2 219.6h1v1h-1zM89.7 210.4h1v1h-1zM82.3 205.6h1v1h-1zM101.4 223.5h1v1h-1zM102.4 230.5h1v1h-1zM87.7 224.0h1v1h-1zM86.1 226.1h1v1h-1zM99.4 208.5h1v1h-1zM75.4 210.6h1v1h-1zM92.0 214.9h1v1h-1zM75.3 226.6h1v1h-1zM97.8 217.1h1v1h-1zM76.3 228.1h1v1h-1zM90.5 206.8h1v1h-1zM84.4 221.2h1v1h-1zM100.7 217.6h1v1h-1zM93.5 210.3h1v1h-1zM82.1 228.6h1v1h-1zM86.1 207.7h1v1h-1zM92.1 208.3h1v1h-1zM80.8 216.9h1v1h-1zM92.0 221.5h1v1h-1zM95.5 216.4h1v1h-1zM77.0 223.8h1v1h-1zM76.6 217.2h1v1h-1zM86.6 222.5h1v1h-1zM95.7 211.2h1v1h-1zM93.8 223.0h1v1h-1zM88.7 208.7h1v1h-1zM101.4 220.6h1v1h-1zM76.8 211.2h1v1h-1zM103.6 210.9h1v1h-1z" fill="#303030" opacity="0.58" filter="url(#soft)"/>
</g>
<rect x="27.5" y="171.3" width="92.0" height="93.0" fill="none" stroke="#222" stroke-width="1"/>
<line x1="56" y1="171.3" x2="56" y2="264.3" stroke="#222" stroke-width="1"/>
<line x1="27.5" y1="231.3" x2="119.5" y2="231.3" stroke="#222" stroke-width="1"/>
<text x="41.35" y="182.1" font-size="9.6" font-weight="bold" text-anchor="middle" textLength="27.2" lengthAdjust="spacingAndGlyphs">buffer</text>
<text x="85.2" y="181.7" font-size="9.7" text-anchor="end" >3.8%</text>
<text x="115.9" y="181.7" font-size="9.7" text-anchor="end" >3.5%</text>
<text x="85.2" y="192" font-size="9.7" text-anchor="end" >67.6%</text>
<text x="115.9" y="192" font-size="9.7" text-anchor="end" >25.1%</text>
<line x1="58.2" y1="183" x2="116.4" y2="183" stroke="#000" stroke-width="0.9"/>
<line x1="86.6" y1="175" x2="86.6" y2="192.5" stroke="#000" stroke-width="0.9"/>
<clipPath id="cp1"><rect x="123.8" y="171.3" width="92.39999999999999" height="93.0"/></clipPath>
<g clip-path="url(#cp1)">
<ellipse cx="137.5" cy="249.5" rx="6.6" ry="11.5" transform="rotate(38 137.5 249.5)" fill="#707070" filter="url(#coreblur)"/>
<path d="M126.2 251.7h1v1h-1zM145.7 243.0h1v1h-1zM138.5 265.6h1v1h-1zM142.7 232.8h1v1h-1zM139.8 233.7h1v1h-1zM142.6 255.4h1v1h-1zM137.4 265.9h1v1h-1zM149.0 237.6h1v1h-1zM137.7 240.2h1v1h-1zM143.1 254.6h1v1h-1zM142.9 256.5h1v1h-1zM136.2 258.6h1v1h-1zM136.7 266.5h1v1h-1zM134.8 244.6h1v1h-1zM137.9 258.8h1v1h-1zM149.2 242.6h1v1h-1zM126.9 257.4h1v1h-1zM134.8 258.4h1v1h-1zM144.8 252.8h1v1h-1zM138.5 250.3h1v1h-1zM136.6 258.9h1v1h-1zM136.6 241.5h1v1h-1zM137.2 239.7h1v1h-1zM146.5 248.2h1v1h-1zM149.9 237.6h1v1h-1zM146.9 243.0h1v1h-1zM141.4 255.4h1v1h-1zM121.8 247.1h1v1h-1zM141.2 232.9h1v1h-1zM146.9 237.5h1v1h-1zM143.9 253.8h1v1h-1zM132.9 253.4h1v1h-1zM127.8 262.8h1v1h-1zM146.3 238.9h1v1h-1zM148.0 246.1h1v1h-1zM130.0 237.4h1v1h-1zM139.1 240.4h1v1h-1zM146.1 248.1h1v1h-1zM139.1 249.8h1v1h-1zM128.8 258.7h1v1h-1zM128.6 248.3h1v1h-1zM142.2 237.4h1v1h-1zM123.7 264.8h1v1h-1zM138.9 239.8h1v1h-1zM139.6 239.6h1v1h-1zM139.8 243.1h1v1h-1zM126.1 241.5h1v1h-1zM127.9 250.3h1v1h-1zM128.3 247.8h1v1h-1zM138.2 263.1h1v1h-1zM125.1 255.8h1v1h-1zM142.5 256.9h1v1h-1zM128.6 262.2h1v1h-1zM145.9 241.6h1v1h-1zM136.2 249.8h1v1h-1zM130.2 264.2h1v1h-1zM134.1 259.2h1v1h-1zM135.8 240.3h1v1h-1zM138.2 266.5h1v1h-1zM128.0 251.8h1v1h-1zM137.3 249.9h1v1h-1zM129.3 252.2h1v1h-1zM136.9 253.8h1v1h-1zM126.4 252.5h1v1h-1zM128.0 252.8h1v1h-1zM127.4 245.1h1v1h-1zM140.3 256.2h1v1h-1zM140.2 253.5h1v1h-1zM125.7 244.8h1v1h-1zM136.2 247.1h1v1h-1zM130.1 260.1h1v1h-1zM133.5 238.4h1v1h-1zM146.8 252.0h1v1h-1zM136.7 264.3h1v1h-1zM132.1 263.0h1v1h-1zM125.0 262.6h1v1h-1zM128.9 246.6h1v1h-1zM138.4 255.1h1v1h-1zM135.6 267.9h1v1h-1zM142.2 254.1h1v1h-1zM129.1 246.0h1v1h-1zM131.6 244.9h1v1h-1zM151.4 237.1h1v1h-1zM146.2 236.2h1v1h-1zM123.4 254.6h1v1h-1zM136.2 235.7h1v1h-1zM143.5 240.6h1v1h-1zM142.6 249.5h1v1h-1zM131.5 246.4h1v1h-1zM142.8 252.8h1v1h-1zM129.4 261.9h1v1h-1zM123.1 276.4h1v1h-1zM130.3 247.5h1v1h-1zM134.9 237.0h1v1h-1zM131.7 247.9h1v1h-1zM146.1 246.5h1v1h-1zM152.8 241.8h1v1h-1zM124.2 263.1h1v1h-1zM135.0 249.3h1v1h-1zM139.8 252.1h1v1h-1zM122.0 263.0h1v1h-1zM131.2 240.9h1v1h-1zM145.7 242.0h1v1h-1zM135.2 247.2h1v1h-1zM130.0 258.4h1v1h-1zM135.5 238.4h1v1h-1zM152.6 245.8h1v1h-1zM132.7 259.8h1v1h-1zM129.3 252.2h1v1h-1zM138.0 246.3h1v1h-1zM143.6 240.0h1v1h-1zM129.9 246.1h1v1h-1zM130.0 245.9h1v1h-1zM142.4 239.1h1v1h-1zM130.0 266.7h1v1h-1zM122.8 248.7h1v1h-1zM133.2 256.1h1v1h-1zM147.7 252.2h1v1h-1zM129.7 259.8h1v1h-1zM127.7 253.3h1v1h-1zM135.6 250.6h1v1h-1zM134.6 235.2h1v1h-1zM142.1 254.6h1v1h-1zM145.5 251.6h1v1h-1zM146.0 243.5h1v1h-1zM138.7 238.4h1v1h-1zM127.6 260.5h1v1h-1zM136.5 236.9h1v1h-1zM145.4 246.0h1v1h-1zM132.5 242.0h1v1h-1zM137.3 248.4h1v1h-1zM148.3 228.7h1v1h-1zM138.6 250.9h1v1h-1zM151.8 249.8h1v1h-1zM130.3 249.5h1v1h-1zM137.9 257.4h1v1h-1zM139.6 243.6h1v1h-1zM146.3 240.5h1v1h-1zM129.7 253.2h1v1h-1zM129.9 265.1h1v1h-1zM134.2 259.7h1v1h-1zM127.1 251.9h1v1h-1zM129.2 260.9h1v1h-1zM143.7 236.6h1v1h-1zM137.8 257.9h1v1h-1zM137.0 258.0h1v1h-1zM129.9 249.2h1v1h-1zM128.8 256.6h1v1h-1zM141.4 239.3h1v1h-1zM128.1 255.9h1v1h-1zM129.6 260.5h1v1h-1zM146.8 242.4h1v1h-1zM146.0 251.4h1v1h-1zM139.7 254.8h1v1h-1zM133.0 265.0h1v1h-1zM132.5 244.9h1v1h-1zM127.0 253.4h1v1h-1zM131.9 241.8h1v1h-1zM129.9 251.0h1v1h-1zM129.6 258.3h1v1h-1zM133.4 254.9h1v1h-1zM129.7 245.6h1v1h-1zM142.2 243.3h1v1h-1zM124.8 247.1h1v1h-1zM144.8 249.4h1v1h-1zM137.1 255.9h1v1h-1zM144.6 261.6h1v1h-1zM130.2 246.7h1v1h-1zM145.5 238.2h1v1h-1zM127.2 258.2h1v1h-1zM131.5 240.9h1v1h-1zM124.3 266.2h1v1h-1zM146.9 235.3h1v1h-1zM144.0 250.7h1v1h-1zM143.5 237.9h1v1h-1zM142.5 244.8h1v1h-1zM133.3 253.9h1v1h-1zM122.3 243.5h1v1h-1zM133.8 262.5h1v1h-1zM133.2 251.7h1v1h-1zM149.3 240.4h1v1h-1zM144.2 240.8h1v1h-1zM152.0 245.9h1v1h-1zM125.0 257.1h1v1h-1zM130.9 251.6h1v1h-1zM139.3 234.8h1v1h-1zM140.8 244.4h1v1h-1zM147.5 248.4h1v1h-1zM143.8 253.4h1v1h-1zM146.2 237.6h1v1h-1zM129.7 258.1h1v1h-1zM125.1 252.9h1v1h-1zM125.4 256.1h1v1h-1zM124.9 255.7h1v1h-1zM149.9 242.1h1v1h-1zM134.1 265.1h1v1h-1zM144.2 239.4h1v1h-1zM146.8 239.3h1v1h-1zM137.2 254.5h1v1h-1zM142.5 256.2h1v1h-1zM139.6 257.9h1v1h-1zM126.1 251.0h1v1h-1zM141.5 250.0h1v1h-1zM139.1 234.7h1v1h-1zM126.7 245.0h1v1h-1zM145.2 246.0h1v1h-1zM146.2 246.0h1v1h-1zM121.1 256.0h1v1h-1zM138.7 245.4h1v1h-1zM141.3 241.8h1v1h-1zM147.8 241.3h1v1h-1zM145.6 237.5h1v1h-1zM128.6 263.0h1v1h-1zM127.2 252.2h1v1h-1zM139.9 244.8h1v1h-1zM134.2 243.4h1v1h-1zM160.0 254.7h1v1h-1zM133.8 239.7h1v1h-1zM130.6 264.4h1v1h-1zM133.3 240.7h1v1h-1zM150.1 246.3h1v1h-1zM135.0 258.7h1v1h-1zM133.0 245.0h1v1h-1zM127.0 254.8h1v1h-1zM133.4 258.5h1v1h-1zM141.1 248.3h1v1h-1zM135.6 239.6h1v1h-1zM144.7 239.0h1v1h-1zM140.0 243.5h1v1h-1zM151.3 240.5h1v1h-1zM142.1 260.9h1v1h-1zM134.7 248.7h1v1h-1zM139.6 258.7h1v1h-1zM129.8 247.0h1v1h-1zM142.7 201.8h1v1h-1zM131.4 220.9h1v1h-1zM131.0 228.8h1v1h-1zM137.8 216.8h1v1h-1zM140.0 211.0h1v1h-1zM139.4 213.3h1v1h-1zM145.6 215.2h1v1h-1zM139.9 211.2h1v1h-1zM137.1 209.4h1v1h-1zM140.0 232.5h1v1h-1zM145.0 218.1h1v1h-1zM147.5 225.1h1v1h-1zM140.9 214.5h1v1h-1zM135.1 218.2h1v1h-1zM138.6 201.7h1v1h-1zM134.2 233.4h1v1h-1zM141.0 220.5h1v1h-1zM140.9 211.8h1v1h-1zM142.1 225.8h1v1h-1zM138.6 220.6h1v1h-1zM144.6 211.7h1v1h-1zM140.8 209.3h1v1h-1zM142.7 212.7h1v1h-1zM145.2 209.1h1v1h-1zM147.6 213.2h1v1h-1zM136.2 207.9h1v1h-1zM143.0 208.3h1v1h-1zM148.1 227.5h1v1h-1zM142.3 203.2h1v1h-1zM139.9 209.5h1v1h-1zM131.8 219.8h1v1h-1zM149.9 211.2h1v1h-1zM143.6 227.6h1v1h-1zM135.7 212.9h1v1h-1zM141.2 220.2h1v1h-1zM134.8 217.9h1v1h-1zM139.5 224.6h1v1h-1zM132.8 210.9h1v1h-1zM137.7 213.1h1v1h-1zM143.3 210.3h1v1h-1zM152.3 209.6h1v1h-1zM143.8 225.2h1v1h-1zM144.3 214.2h1v1h-1zM136.3 213.7h1v1h-1zM143.0 217.1h1v1h-1zM142.6 221.2h1v1h-1zM136.0 207.6h1v1h-1zM146.5 211.6h1v1h-1zM132.9 232.7h1v1h-1zM136.2 207.6h1v1h-1zM144.4 205.8h1v1h-1zM136.1 225.4h1v1h-1zM136.3 238.6h1v1h-1zM140.4 240.2h1v1h-1zM140.6 216.5h1v1h-1zM137.1 214.0h1v1h-1zM137.7 215.8h1v1h-1zM143.5 204.6h1v1h-1zM135.9 197.2h1v1h-1zM146.8 215.3h1v1h-1zM139.9 215.5h1v1h-1zM144.5 218.9h1v1h-1zM143.8 214.5h1v1h-1zM139.5 215.5h1v1h-1zM131.6 225.8h1v1h-1zM132.9 207.0h1v1h-1zM143.0 216.5h1v1h-1zM143.7 231.4h1v1h-1zM148.4 228.4h1v1h-1zM139.0 234.4h1v1h-1zM136.0 215.2h1v1h-1zM144.5 214.1h1v1h-1zM139.5 212.8h1v1h-1zM146.1 193.8h1v1h-1zM145.7 225.5h1v1h-1zM139.7 221.1h1v1h-1zM135.6 226.0h1v1h-1zM153.8 207.7h1v1h-1zM146.3 215.5h1v1h-1zM138.5 211.6h1v1h-1zM139.1 204.7h1v1h-1zM133.9 231.0h1v1h-1zM139.9 221.0h1v1h-1zM141.4 220.3h1v1h-1zM133.1 207.5h1v1h-1zM142.8 225.0h1v1h-1zM134.8 210.8h1v1h-1zM135.2 221.9h1v1h-1zM141.5 216.3h1v1h-1zM137.1 219.1h1v1h-1zM140.1 209.3h1v1h-1zM141.5 210.0h1v1h-1zM144.3 221.6h1v1h-1zM136.9 221.3h1v1h-1zM140.3 209.6h1v1h-1zM135.9 201.0h1v1h-1zM134.9 219.1h1v1h-1zM145.4 210.3h1v1h-1zM140.7 219.1h1v1h-1zM143.5 220.0h1v1h-1zM145.5 222.9h1v1h-1zM136.6 219.6h1v1h-1zM129.5 214.4h1v1h-1zM140.1 221.2h1v1h-1zM138.6 223.5h1v1h-1zM145.9 208.4h1v1h-1zM137.6 218.3h1v1h-1zM142.2 217.3h1v1h-1zM143.7 205.4h1v1h-1zM143.5 226.5h1v1h-1zM145.0 219.8h1v1h-1zM138.9 219.6h1v1h-1zM139.7 201.7h1v1h-1zM137.3 215.6h1v1h-1zM137.7 207.6h1v1h-1zM139.0 212.7h1v1h-1zM140.3 215.6h1v1h-1zM140.8 224.9h1v1h-1zM140.6 219.7h1v1h-1zM134.5 189.5h1v1h-1zM167.8 256.8h1v1h-1zM161.5 254.8h1v1h-1zM172.4 248.3h1v1h-1zM180.2 244.2h1v1h-1zM156.5 250.6h1v1h-1zM161.3 242.9h1v1h-1zM187.1 253.5h1v1h-1zM187.4 241.9h1v1h-1zM175.9 252.2h1v1h-1zM179.7 235.8h1v1h-1zM155.3 239.6h1v1h-1zM158.5 252.5h1v1h-1zM178.3 239.2h1v1h-1zM181.6 249.5h1v1h-1zM167.2 247.5h1v1h-1zM156.2 257.9h1v1h-1zM189.7 238.5h1v1h-1zM190.5 238.1h1v1h-1zM169.9 246.6h1v1h-1zM153.9 262.3h1v1h-1zM194.5 249.0h1v1h-1zM188.3 236.4h1v1h-1zM192.5 229.7h1v1h-1zM178.4 251.2h1v1h-1zM173.5 250.6h1v1h-1zM174.5 243.2h1v1h-1zM163.9 248.3h1v1h-1zM171.1 243.2h1v1h-1zM175.9 255.0h1v1h-1zM183.9 236.3h1v1h-1zM166.1 245.3h1v1h-1zM169.4 253.1h1v1h-1zM184.5 237.0h1v1h-1zM185.1 248.3h1v1h-1zM168.5 252.8h1v1h-1zM185.6 238.5h1v1h-1zM164.3 239.9h1v1h-1zM180.9 236.8h1v1h-1zM166.8 250.7h1v1h-1zM157.1 249.6h1v1h-1zM184.8 241.2h1v1h-1zM163.3 251.6h1v1h-1zM187.3 235.5h1v1h-1zM169.3 254.2h1v1h-1zM186.2 236.2h1v1h-1zM189.0 242.8h1v1h-1zM168.1 247.3h1v1h-1zM160.0 264.4h1v1h-1zM188.4 249.9h1v1h-1zM190.5 241.9h1v1h-1zM185.9 243.9h1v1h-1zM190.5 242.2h1v1h-1zM179.0 245.4h1v1h-1zM170.2 247.6h1v1h-1zM169.7 241.7h1v1h-1zM181.9 240.6h1v1h-1zM153.9 243.5h1v1h-1zM167.2 259.9h1v1h-1zM192.4 247.0h1v1h-1zM178.0 245.9h1v1h-1zM166.4 241.1h1v1h-1zM176.2 248.2h1v1h-1zM165.8 250.9h1v1h-1zM195.2 250.4h1v1h-1zM164.8 245.1h1v1h-1zM178.4 245.5h1v1h-1zM187.9 237.7h1v1h-1zM182.2 244.0h1v1h-1zM155.5 254.6h1v1h-1zM180.8 233.1h1v1h-1zM175.0 251.7h1v1h-1zM158.2 261.7h1v1h-1zM173.2 246.2h1v1h-1zM173.4 246.4h1v1h-1zM159.1 254.2h1v1h-1zM170.9 246.1h1v1h-1zM179.3 241.3h1v1h-1zM159.4 249.3h1v1h-1zM170.3 243.9h1v1h-1zM190.0 244.3h1v1h-1zM178.7 242.2h1v1h-1zM158.9 249.1h1v1h-1zM157.8 243.7h1v1h-1zM166.4 258.3h1v1h-1zM165.0 255.3h1v1h-1zM168.4 249.4h1v1h-1zM181.0 238.1h1v1h-1zM171.3 257.4h1v1h-1zM173.9 241.0h1v1h-1zM185.8 243.2h1v1h-1zM193.4 232.6h1v1h-1zM173.9 246.2h1v1h-1zM159.9 241.9h1v1h-1zM164.4 245.9h1v1h-1zM180.6 250.0h1v1h-1zM166.4 246.9h1v1h-1zM173.7 243.6h1v1h-1zM166.1 240.9h1v1h-1zM180.3 236.7h1v1h-1zM160.7 253.4h1v1h-1zM177.8 239.1h1v1h-1zM175.6 244.1h1v1h-1zM183.0 248.3h1v1h-1zM159.1 244.3h1v1h-1zM184.3 253.1h1v1h-1zM162.3 242.8h1v1h-1zM155.9 247.2h1v1h-1zM188.2 235.1h1v1h-1zM191.2 251.5h1v1h-1zM169.6 248.5h1v1h-1zM158.7 255.2h1v1h-1zM159.7 255.0h1v1h-1zM168.6 241.8h1v1h-1zM192.2 240.3h1v1h-1zM186.8 253.7h1v1h-1zM187.9 237.6h1v1h-1zM159.5 247.0h1v1h-1zM180.3 241.6h1v1h-1zM180.8 245.1h1v1h-1zM174.4 260.2h1v1h-1zM165.7 236.5h1v1h-1zM163.9 242.8h1v1h-1zM164.2 264.6h1v1h-1zM167.7 246.8h1v1h-1zM155.2 240.5h1v1h-1zM190.1 243.4h1v1h-1zM168.3 238.5h1v1h-1zM170.2 246.2h1v1h-1zM190.8 241.1h1v1h-1zM187.8 249.9h1v1h-1zM169.1 244.9h1v1h-1zM164.5 243.0h1v1h-1zM168.9 245.1h1v1h-1zM175.1 246.4h1v1h-1zM165.6 241.7h1v1h-1zM178.7 242.1h1v1h-1zM185.9 252.3h1v1h-1zM185.8 232.9h1v1h-1zM170.6 233.2h1v1h-1zM163.2 253.5h1v1h-1zM176.0 248.7h1v1h-1zM189.7 242.7h1v1h-1zM160.8 247.7h1v1h-1zM172.4 244.3h1v1h-1zM175.3 244.5h1v1h-1zM193.2 241.3h1v1h-1zM184.6 239.2h1v1h-1zM163.4 243.8h1v1h-1zM184.8 249.6h1v1h-1zM180.0 248.2h1v1h-1zM155.3 243.1h1v1h-1zM158.1 246.7h1v1h-1zM159.9 239.3h1v1h-1zM156.1 254.2h1v1h-1zM166.1 252.5h1v1h-1zM164.0 255.5h1v1h-1zM170.2 237.6h1v1h-1zM158.8 251.4h1v1h-1zM169.6 253.7h1v1h-1zM187.8 241.8h1v1h-1zM155.6 244.6h1v1h-1zM192.1 242.7h1v1h-1zM158.8 248.5h1v1h-1zM170.1 250.2h1v1h-1zM188.0 241.7h1v1h-1zM172.3 242.8h1v1h-1zM180.2 241.1h1v1h-1zM178.2 251.9h1v1h-1zM191.6 243.2h1v1h-1zM191.2 240.4h1v1h-1zM178.4 235.8h1v1h-1zM174.6 249.6h1v1h-1zM183.8 239.0h1v1h-1zM179.8 236.8h1v1h-1zM153.7 253.9h1v1h-1zM178.7 246.8h1v1h-1zM181.5 252.9h1v1h-1zM164.2 244.8h1v1h-1zM158.8 248.0h1v1h-1zM195.7 241.1h1v1h-1zM170.1 252.8h1v1h-1zM174.4 247.0h1v1h-1zM174.7 259.8h1v1h-1zM169.1 248.8h1v1h-1zM193.7 246.0h1v1h-1zM187.0 246.7h1v1h-1zM166.0 249.6h1v1h-1zM173.6 243.3h1v1h-1zM172.6 241.5h1v1h-1zM158.8 249.2h1v1h-1zM194.3 237.5h1v1h-1zM177.2 245.5h1v1h-1zM173.8 243.6h1v1h-1zM178.5 242.4h1v1h-1zM193.8 242.7h1v1h-1zM185.5 243.3h1v1h-1zM159.1 250.5h1v1h-1zM160.5 252.7h1v1h-1zM158.4 258.4h1v1h-1zM160.4 244.1h1v1h-1zM164.7 260.8h1v1h-1zM155.9 248.4h1v1h-1zM192.0 243.5h1v1h-1zM190.7 241.9h1v1h-1zM181.1 238.3h1v1h-1zM164.7 248.5h1v1h-1zM172.0 254.1h1v1h-1zM166.2 257.0h1v1h-1zM158.1 243.5h1v1h-1zM165.0 254.1h1v1h-1zM174.9 239.9h1v1h-1zM172.3 243.6h1v1h-1zM198.8 229.7h1v1h-1zM193.5 249.1h1v1h-1zM181.2 263.0h1v1h-1zM181.9 236.9h1v1h-1zM157.9 247.8h1v1h-1zM164.1 245.9h1v1h-1zM173.3 243.4h1v1h-1zM183.1 247.3h1v1h-1zM181.1 242.0h1v1h-1zM163.5 247.9h1v1h-1zM170.2 253.1h1v1h-1zM184.2 237.9h1v1h-1zM177.0 244.2h1v1h-1zM196.4 237.7h1v1h-1zM192.9 241.2h1v1h-1zM164.0 238.8h1v1h-1zM195.0 230.7h1v1h-1zM165.6 241.5h1v1h-1zM165.3 256.2h1v1h-1zM190.6 234.5h1v1h-1zM162.2 256.8h1v1h-1zM162.5 251.8h1v1h-1zM160.3 245.4h1v1h-1zM188.2 250.0h1v1h-1zM166.5 254.3h1v1h-1zM153.2 254.5h1v1h-1zM155.5 246.8h1v1h-1zM155.1 250.8h1v1h-1zM165.3 249.2h1v1h-1zM182.3 239.6h1v1h-1zM163.4 265.2h1v1h-1zM172.8 246.3h1v1h-1zM159.4 249.3h1v1h-1zM184.7 234.8h1v1h-1zM177.4 241.7h1v1h-1zM176.5 250.8h1v1h-1zM161.5 241.4h1v1h-1zM185.3 236.6h1v1h-1zM193.5 233.9h1v1h-1zM169.0 245.1h1v1h-1zM157.1 259.6h1v1h-1zM191.8 233.9h1v1h-1zM193.7 234.3h1v1h-1zM173.5 240.8h1v1h-1zM156.6 242.4h1v1h-1zM163.1 236.5h1v1h-1zM160.5 256.1h1v1h-1zM172.9 241.1h1v1h-1zM173.3 238.0h1v1h-1zM162.2 249.0h1v1h-1zM156.9 251.4h1v1h-1zM171.0 253.5h1v1h-1zM172.9 238.1h1v1h-1zM178.7 249.3h1v1h-1zM172.9 250.8h1v1h-1zM174.3 252.6h1v1h-1zM196.3 243.4h1v1h-1zM154.9 253.1h1v1h-1zM173.0 238.5h1v1h-1zM195.6 233.7h1v1h-1zM179.8 244.9h1v1h-1zM164.6 247.0h1v1h-1zM175.5 249.7h1v1h-1zM172.9 252.6h1v1h-1zM187.0 240.1h1v1h-1zM182.2 232.0h1v1h-1zM188.8 245.3h1v1h-1zM181.4 255.8h1v1h-1zM189.6 238.8h1v1h-1zM177.3 247.8h1v1h-1zM185.0 238.8h1v1h-1zM178.6 241.7h1v1h-1zM188.1 233.6h1v1h-1zM153.4 253.7h1v1h-1zM186.6 241.1h1v1h-1zM172.8 240.3h1v1h-1zM183.8 242.5h1v1h-1zM167.8 246.3h1v1h-1zM189.3 243.2h1v1h-1zM187.7 246.8h1v1h-1zM163.0 241.5h1v1h-1zM178.5 250.9h1v1h-1zM194.8 227.3h1v1h-1zM162.9 248.2h1v1h-1zM168.8 243.9h1v1h-1zM178.0 231.3h1v1h-1zM154.6 259.6h1v1h-1zM194.8 248.2h1v1h-1zM167.4 242.7h1v1h-1zM156.3 254.6h1v1h-1zM158.8 259.9h1v1h-1zM180.3 251.6h1v1h-1zM177.0 253.9h1v1h-1zM189.2 253.7h1v1h-1zM188.0 241.7h1v1h-1zM190.7 238.6h1v1h-1zM186.5 234.4h1v1h-1zM190.3 240.7h1v1h-1zM190.2 239.0h1v1h-1zM181.5 233.2h1v1h-1zM177.6 249.0h1v1h-1zM178.8 253.6h1v1h-1zM191.5 248.5h1v1h-1zM184.2 250.0h1v1h-1zM185.9 244.3h1v1h-1zM166.1 241.3h1v1h-1zM188.6 243.5h1v1h-1zM169.3 244.9h1v1h-1zM157.1 248.1h1v1h-1zM183.0 245.4h1v1h-1zM182.9 239.3h1v1h-1zM174.2 247.2h1v1h-1zM164.7 239.1h1v1h-1zM184.7 240.1h1v1h-1zM158.4 254.0h1v1h-1zM165.8 244.0h1v1h-1zM167.1 259.9h1v1h-1zM179.4 244.4h1v1h-1zM194.2 237.9h1v1h-1zM178.6 241.2h1v1h-1zM166.3 253.2h1v1h-1zM187.2 246.8h1v1h-1zM194.1 239.7h1v1h-1zM190.4 237.9h1v1h-1zM157.6 242.2h1v1h-1zM192.1 236.3h1v1h-1zM175.2 251.5h1v1h-1zM176.4 239.1h1v1h-1zM189.1 241.8h1v1h-1zM161.7 245.7h1v1h-1zM186.7 249.0h1v1h-1zM156.7 241.5h1v1h-1zM170.2 243.4h1v1h-1zM184.1 243.3h1v1h-1zM163.0 239.5h1v1h-1zM158.8 250.2h1v1h-1zM168.1 251.2h1v1h-1zM193.4 237.9h1v1h-1zM169.8 248.7h1v1h-1zM174.4 242.1h1v1h-1zM194.1 241.6h1v1h-1zM173.2 259.2h1v1h-1zM177.3 242.7h1v1h-1zM163.8 255.5h1v1h-1zM174.7 245.2h1v1h-1zM163.5 250.6h1v1h-1zM169.2 234.8h1v1h-1zM164.2 242.2h1v1h-1zM176.1 244.7h1v1h-1zM155.6 242.3h1v1h-1zM172.4 241.5h1v1h-1zM168.4 251.3h1v1h-1zM181.6 245.2h1v1h-1zM176.9 247.7h1v1h-1zM180.0 249.9h1v1h-1zM164.2 252.7h1v1h-1zM186.0 243.8h1v1h-1zM169.3 239.7h1v1h-1zM180.0 248.0h1v1h-1zM164.2 247.9h1v1h-1zM175.9 243.0h1v1h-1zM168.4 259.5h1v1h-1zM151.7 256.5h1v1h-1zM186.6 237.3h1v1h-1zM163.4 243.8h1v1h-1zM182.9 250.1h1v1h-1zM179.8 229.1h1v1h-1zM170.1 247.0h1v1h-1zM192.7 241.8h1v1h-1zM170.5 241.7h1v1h-1zM163.1 241.4h1v1h-1zM185.3 242.3h1v1h-1zM186.7 248.0h1v1h-1zM153.9 262.0h1v1h-1zM185.0 237.6h1v1h-1zM184.3 239.2h1v1h-1zM174.5 239.6h1v1h-1zM161.8 254.9h1v1h-1zM156.6 259.5h1v1h-1zM179.4 252.8h1v1h-1zM158.9 246.8h1v1h-1zM158.0 258.7h1v1h-1zM168.0 238.6h1v1h-1zM165.9 238.6h1v1h-1zM177.5 258.9h1v1h-1zM195.5 239.9h1v1h-1zM168.0 254.1h1v1h-1zM194.5 241.8h1v1h-1zM170.2 249.1h1v1h-1zM165.6 251.5h1v1h-1zM170.1 249.9h1v1h-1zM163.1 245.5h1v1h-1zM164.3 246.3h1v1h-1zM182.6 252.8h1v1h-1zM185.7 239.4h1v1h-1zM169.9 257.4h1v1h-1zM182.3 251.6h1v1h-1zM193.5 242.2h1v1h-1zM161.2 246.2h1v1h-1zM166.5 247.5h1v1h-1zM161.0 244.7h1v1h-1zM196.2 246.6h1v1h-1zM155.6 254.8h1v1h-1zM159.3 249.4h1v1h-1zM189.1 245.9h1v1h-1zM190.9 243.4h1v1h-1zM182.7 244.4h1v1h-1zM165.2 256.9h1v1h-1zM171.5 244.8h1v1h-1zM159.0 245.0h1v1h-1zM160.4 241.2h1v1h-1zM184.9 240.8h1v1h-1zM196.4 244.9h1v1h-1zM183.4 250.2h1v1h-1zM171.2 244.9h1v1h-1zM191.2 246.0h1v1h-1zM174.3 241.2h1v1h-1zM178.6 246.0h1v1h-1zM158.8 243.2h1v1h-1zM175.4 244.1h1v1h-1zM196.2 243.5h1v1h-1zM184.3 241.9h1v1h-1zM190.9 242.6h1v1h-1zM188.2 242.7h1v1h-1zM192.7 241.5h1v1h-1zM162.2 249.9h1v1h-1zM164.8 260.2h1v1h-1zM181.2 241.9h1v1h-1zM171.5 246.5h1v1h-1zM176.5 254.0h1v1h-1zM161.1 247.0h1v1h-1zM187.0 244.7h1v1h-1zM173.9 245.8h1v1h-1zM175.8 242.4h1v1h-1zM189.8 242.6h1v1h-1zM161.9 251.2h1v1h-1zM179.3 240.2h1v1h-1zM176.6 245.1h1v1h-1zM154.1 257.0h1v1h-1zM158.9 251.2h1v1h-1zM189.6 241.1h1v1h-1zM183.0 233.7h1v1h-1zM166.5 243.9h1v1h-1zM175.2 239.1h1v1h-1zM159.5 259.9h1v1h-1zM188.5 241.2h1v1h-1zM164.7 255.7h1v1h-1zM183.8 234.7h1v1h-1zM172.5 240.2h1v1h-1zM180.1 237.3h1v1h-1zM174.8 237.9h1v1h-1zM158.0 253.4h1v1h-1zM170.8 244.2h1v1h-1zM169.1 249.5h1v1h-1zM195.1 239.9h1v1h-1zM183.0 246.3h1v1h-1zM178.1 247.5h1v1h-1zM157.1 240.4h1v1h-1zM164.7 249.5h1v1h-1zM158.7 243.3h1v1h-1zM164.1 258.7h1v1h-1zM186.0 242.6h1v1h-1zM164.7 236.8h1v1h-1zM191.6 245.5h1v1h-1zM195.0 233.8h1v1h-1zM162.4 254.1h1v1h-1zM157.7 241.9h1v1h-1zM176.6 237.1h1v1h-1zM181.5 248.4h1v1h-1zM171.7 260.4h1v1h-1zM185.5 245.2h1v1h-1zM167.2 245.1h1v1h-1zM172.8 242.8h1v1h-1zM182.5 254.2h1v1h-1zM193.0 245.8h1v1h-1zM156.9 255.5h1v1h-1zM180.6 244.9h1v1h-1zM158.4 248.9h1v1h-1zM164.5 238.9h1v1h-1zM175.6 253.1h1v1h-1zM165.8 244.8h1v1h-1zM162.0 253.8h1v1h-1zM161.2 253.1h1v1h-1zM162.2 254.8h1v1h-1zM184.5 245.6h1v1h-1zM171.1 233.8h1v1h-1zM172.9 244.3h1v1h-1zM192.8 238.1h1v1h-1zM169.9 250.3h1v1h-1zM189.7 246.7h1v1h-1zM172.3 245.3h1v1h-1zM160.3 258.1h1v1h-1zM179.2 245.1h1v1h-1zM173.2 248.3h1v1h-1zM163.7 242.0h1v1h-1zM167.7 252.9h1v1h-1zM164.3 257.5h1v1h-1zM186.1 231.1h1v1h-1zM181.8 244.6h1v1h-1zM160.8 257.8h1v1h-1zM187.2 238.4h1v1h-1zM166.7 247.6h1v1h-1zM172.4 252.6h1v1h-1zM165.2 246.1h1v1h-1zM179.5 252.8h1v1h-1zM167.3 250.6h1v1h-1zM190.0 240.5h1v1h-1zM182.4 247.5h1v1h-1zM158.1 250.7h1v1h-1zM179.2 247.0h1v1h-1zM173.3 244.4h1v1h-1zM159.4 242.9h1v1h-1zM176.8 256.2h1v1h-1zM159.2 254.9h1v1h-1zM173.7 246.4h1v1h-1zM185.9 238.7h1v1h-1zM155.9 250.3h1v1h-1zM168.6 254.5h1v1h-1zM187.7 245.1h1v1h-1zM189.5 238.6h1v1h-1zM183.2 237.6h1v1h-1zM159.8 245.2h1v1h-1zM160.4 256.0h1v1h-1zM157.9 255.8h1v1h-1zM175.0 250.7h1v1h-1zM156.0 264.4h1v1h-1zM192.5 236.5h1v1h-1zM177.0 237.6h1v1h-1zM158.9 253.5h1v1h-1zM190.1 245.4h1v1h-1zM178.5 250.4h1v1h-1zM188.3 231.0h1v1h-1zM168.9 256.2h1v1h-1zM182.2 246.7h1v1h-1zM161.3 243.7h1v1h-1zM187.4 245.4h1v1h-1zM175.5 233.2h1v1h-1zM168.3 241.5h1v1h-1zM190.3 234.1h1v1h-1zM168.8 259.9h1v1h-1zM187.4 243.7h1v1h-1zM162.6 249.1h1v1h-1zM186.1 240.2h1v1h-1zM175.0 249.0h1v1h-1zM158.4 249.3h1v1h-1zM158.8 241.9h1v1h-1zM186.7 230.0h1v1h-1zM157.3 251.7h1v1h-1zM187.8 247.3h1v1h-1zM187.4 247.5h1v1h-1zM191.8 235.1h1v1h-1zM173.5 260.6h1v1h-1zM186.3 237.7h1v1h-1zM182.1 243.3h1v1h-1zM171.0 240.9h1v1h-1zM170.4 242.0h1v1h-1zM176.4 244.9h1v1h-1zM191.3 234.5h1v1h-1zM190.5 244.8h1v1h-1zM184.6 237.9h1v1h-1zM195.5 237.8h1v1h-1zM160.9 254.3h1v1h-1zM167.4 254.6h1v1h-1zM159.7 244.1h1v1h-1zM176.3 246.4h1v1h-1zM177.0 256.9h1v1h-1zM193.7 230.2h1v1h-1zM158.1 255.3h1v1h-1zM198.9 240.2h1v1h-1zM203.6 235.7h1v1h-1zM198.7 235.6h1v1h-1zM196.2 237.6h1v1h-1zM195.8 238.2h1v1h-1zM192.7 235.8h1v1h-1zM193.6 230.8h1v1h-1zM193.2 234.1h1v1h-1zM195.4 228.9h1v1h-1zM195.0 231.0h1v1h-1zM192.8 237.4h1v1h-1zM200.3 237.9h1v1h-1zM194.1 234.4h1v1h-1zM201.2 228.6h1v1h-1zM200.5 229.2h1v1h-1zM193.5 236.7h1v1h-1zM195.1 244.6h1v1h-1zM197.9 236.3h1v1h-1zM199.7 236.7h1v1h-1zM192.8 242.0h1v1h-1zM201.9 242.7h1v1h-1zM191.4 245.8h1v1h-1zM194.4 240.2h1v1h-1zM200.7 248.1h1v1h-1zM189.7 231.5h1v1h-1zM200.6 238.9h1v1h-1zM194.8 222.2h1v1h-1zM197.7 235.6h1v1h-1zM185.8 249.6h1v1h-1zM186.2 233.8h1v1h-1zM196.0 237.6h1v1h-1zM199.0 235.2h1v1h-1zM192.5 234.7h1v1h-1zM187.8 231.0h1v1h-1zM203.7 233.1h1v1h-1zM195.7 245.8h1v1h-1zM200.1 237.1h1v1h-1zM198.9 235.2h1v1h-1zM192.5 241.4h1v1h-1zM196.5 244.3h1v1h-1zM195.0 234.7h1v1h-1zM197.4 235.6h1v1h-1zM194.8 232.1h1v1h-1zM197.0 238.1h1v1h-1zM203.2 236.4h1v1h-1zM189.1 238.8h1v1h-1zM205.0 234.3h1v1h-1zM192.9 235.7h1v1h-1zM184.8 234.9h1v1h-1zM195.3 229.1h1v1h-1zM198.3 232.2h1v1h-1zM188.8 233.0h1v1h-1zM198.5 245.9h1v1h-1zM200.9 237.5h1v1h-1zM194.0 235.2h1v1h-1zM199.8 234.0h1v1h-1zM197.6 241.2h1v1h-1zM192.4 233.6h1v1h-1zM197.8 236.5h1v1h-1zM195.5 233.9h1v1h-1zM195.8 245.6h1v1h-1zM201.3 228.6h1v1h-1zM196.2 237.0h1v1h-1zM196.1 229.7h1v1h-1zM195.5 237.2h1v1h-1zM193.3 238.0h1v1h-1zM186.4 229.1h1v1h-1zM196.4 238.4h1v1h-1zM195.3 234.3h1v1h-1zM196.7 241.8h1v1h-1zM199.5 236.1h1v1h-1zM194.2 241.7h1v1h-1zM198.1 240.8h1v1h-1zM194.9 232.3h1v1h-1zM196.7 233.4h1v1h-1zM200.5 240.7h1v1h-1zM187.4 239.8h1v1h-1zM201.2 241.6h1v1h-1zM194.1 232.3h1v1h-1zM199.8 241.5h1v1h-1zM196.2 230.9h1v1h-1zM190.0 237.8h1v1h-1zM192.8 233.2h1v1h-1zM197.7 241.6h1v1h-1zM187.9 233.2h1v1h-1zM201.1 236.3h1v1h-1zM194.7 239.6h1v1h-1zM191.5 230.5h1v1h-1zM196.1 244.2h1v1h-1zM200.0 236.5h1v1h-1zM200.0 234.5h1v1h-1zM191.4 228.3h1v1h-1zM197.1 240.9h1v1h-1zM197.5 236.3h1v1h-1zM194.4 241.8h1v1h-1zM195.8 229.4h1v1h-1zM201.4 233.3h1v1h-1zM197.5 236.5h1v1h-1zM200.1 237.7h1v1h-1zM200.8 237.5h1v1h-1zM194.2 234.0h1v1h-1zM198.6 232.4h1v1h-1zM199.6 235.3h1v1h-1zM192.4 232.2h1v1h-1zM195.4 245.2h1v1h-1zM199.0 236.6h1v1h-1zM192.4 245.8h1v1h-1zM194.9 236.5h1v1h-1zM194.3 243.0h1v1h-1zM196.7 234.3h1v1h-1zM196.7 231.6h1v1h-1zM191.9 235.7h1v1h-1zM184.7 242.3h1v1h-1zM203.8 231.1h1v1h-1zM195.4 228.8h1v1h-1zM196.7 237.5h1v1h-1zM198.9 230.0h1v1h-1zM193.6 233.3h1v1h-1zM195.0 247.7h1v1h-1zM195.2 236.3h1v1h-1zM194.0 240.4h1v1h-1zM206.1 242.2h1v1h-1zM202.0 231.2h1v1h-1zM200.2 236.6h1v1h-1zM200.9 241.7h1v1h-1zM198.6 228.3h1v1h-1zM196.5 234.0h1v1h-1zM197.8 236.7h1v1h-1zM200.1 228.6h1v1h-1zM193.1 236.1h1v1h-1zM197.3 234.5h1v1h-1zM195.9 236.8h1v1h-1zM200.1 235.9h1v1h-1zM197.0 227.6h1v1h-1zM185.7 229.3h1v1h-1zM197.4 225.2h1v1h-1zM197.6 236.0h1v1h-1zM196.0 232.9h1v1h-1zM194.3 240.6h1v1h-1zM197.4 236.4h1v1h-1zM194.1 237.5h1v1h-1zM200.7 236.4h1v1h-1zM194.6 230.7h1v1h-1zM196.4 232.0h1v1h-1zM190.3 240.8h1v1h-1zM193.5 226.5h1v1h-1zM193.2 245.5h1v1h-1zM195.6 230.0h1v1h-1zM191.7 240.0h1v1h-1zM197.6 237.5h1v1h-1zM195.2 238.9h1v1h-1zM202.1 238.9h1v1h-1zM195.4 229.6h1v1h-1zM197.8 244.2h1v1h-1zM198.5 230.3h1v1h-1zM196.7 242.9h1v1h-1zM193.5 238.9h1v1h-1zM200.8 244.5h1v1h-1zM189.7 227.9h1v1h-1zM197.5 240.0h1v1h-1zM194.6 236.4h1v1h-1zM194.4 242.4h1v1h-1zM187.3 237.8h1v1h-1zM191.0 233.2h1v1h-1zM190.0 232.0h1v1h-1zM195.9 236.6h1v1h-1zM203.0 235.4h1v1h-1zM197.4 238.2h1v1h-1zM197.0 243.7h1v1h-1zM196.5 237.2h1v1h-1zM195.6 236.5h1v1h-1zM195.8 241.4h1v1h-1zM196.1 236.8h1v1h-1zM195.8 240.2h1v1h-1zM194.1 241.1h1v1h-1zM193.7 239.9h1v1h-1zM203.6 237.6h1v1h-1zM195.7 230.7h1v1h-1zM198.9 236.6h1v1h-1zM199.6 233.3h1v1h-1zM198.1 245.4h1v1h-1zM197.6 234.9h1v1h-1zM190.9 236.5h1v1h-1zM198.6 239.4h1v1h-1zM191.6 231.4h1v1h-1zM192.2 231.5h1v1h-1zM194.9 237.8h1v1h-1zM203.6 237.5h1v1h-1zM201.7 228.4h1v1h-1zM202.1 240.4h1v1h-1zM197.7 240.6h1v1h-1zM198.4 245.9h1v1h-1zM199.2 227.9h1v1h-1zM189.1 244.4h1v1h-1zM195.7 243.0h1v1h-1zM194.6 233.3h1v1h-1zM194.6 238.1h1v1h-1zM196.7 233.4h1v1h-1zM198.1 239.5h1v1h-1zM192.4 231.0h1v1h-1zM188.3 235.0h1v1h-1zM196.0 233.1h1v1h-1zM193.6 235.8h1v1h-1zM196.1 239.3h1v1h-1zM199.3 238.7h1v1h-1zM200.4 231.7h1v1h-1zM198.4 238.3h1v1h-1zM191.9 233.2h1v1h-1zM197.8 236.9h1v1h-1zM191.0 233.8h1v1h-1zM202.0 240.7h1v1h-1zM196.3 243.2h1v1h-1zM192.4 235.7h1v1h-1zM199.8 234.8h1v1h-1zM191.6 239.4h1v1h-1zM202.3 224.0h1v1h-1zM196.6 230.3h1v1h-1zM194.8 229.5h1v1h-1zM206.3 233.1h1v1h-1zM196.2 233.0h1v1h-1zM192.1 234.3h1v1h-1zM196.8 245.2h1v1h-1zM197.1 244.2h1v1h-1zM191.8 236.9h1v1h-1zM194.3 228.8h1v1h-1zM210.7 235.3h1v1h-1zM197.0 232.8h1v1h-1zM193.7 231.4h1v1h-1zM200.1 234.5h1v1h-1zM195.4 237.4h1v1h-1zM191.2 237.6h1v1h-1zM195.3 238.7h1v1h-1zM194.5 236.7h1v1h-1zM198.0 241.3h1v1h-1zM193.3 241.3h1v1h-1zM192.1 235.6h1v1h-1zM196.5 237.2h1v1h-1zM186.1 231.7h1v1h-1zM195.3 241.1h1v1h-1zM193.2 244.0h1v1h-1zM188.9 236.9h1v1h-1zM198.1 236.6h1v1h-1zM197.0 241.1h1v1h-1zM192.8 239.4h1v1h-1zM200.2 235.3h1v1h-1zM186.8 230.6h1v1h-1zM192.6 231.3h1v1h-1zM197.7 232.5h1v1h-1zM205.8 239.3h1v1h-1zM190.8 235.1h1v1h-1zM202.0 239.9h1v1h-1zM192.0 241.6h1v1h-1zM194.1 247.4h1v1h-1zM193.8 239.4h1v1h-1zM198.2 234.3h1v1h-1zM195.4 242.2h1v1h-1zM198.0 236.2h1v1h-1zM197.8 245.1h1v1h-1zM199.7 238.9h1v1h-1zM197.3 228.8h1v1h-1zM196.5 234.1h1v1h-1zM198.9 233.5h1v1h-1zM197.8 231.3h1v1h-1zM199.5 232.9h1v1h-1zM195.9 239.4h1v1h-1zM194.7 236.5h1v1h-1zM200.2 245.2h1v1h-1zM188.9 232.0h1v1h-1zM198.7 241.1h1v1h-1zM194.1 237.0h1v1h-1zM195.2 247.7h1v1h-1zM195.2 230.6h1v1h-1zM189.9 230.2h1v1h-1zM201.2 234.6h1v1h-1zM203.7 239.7h1v1h-1zM197.5 239.7h1v1h-1zM199.1 241.0h1v1h-1zM192.1 233.7h1v1h-1zM193.8 237.0h1v1h-1zM195.0 230.4h1v1h-1zM193.3 245.3h1v1h-1zM204.4 232.3h1v1h-1zM197.5 236.3h1v1h-1zM192.7 240.0h1v1h-1zM195.7 244.7h1v1h-1zM197.8 235.0h1v1h-1zM185.5 236.0h1v1h-1zM199.4 233.0h1v1h-1zM199.5 239.9h1v1h-1zM189.0 235.5h1v1h-1zM197.3 240.2h1v1h-1zM196.6 236.4h1v1h-1zM194.6 235.1h1v1h-1zM196.0 231.3h1v1h-1zM198.5 234.9h1v1h-1zM198.1 234.0h1v1h-1zM197.6 237.1h1v1h-1zM199.5 238.8h1v1h-1zM199.7 235.7h1v1h-1zM195.8 235.2h1v1h-1zM191.0 235.9h1v1h-1zM200.3 240.3h1v1h-1zM192.6 238.0h1v1h-1zM199.0 229.8h1v1h-1zM197.4 238.1h1v1h-1zM199.0 237.8h1v1h-1zM189.1 226.6h1v1h-1zM203.8 234.6h1v1h-1zM201.0 242.7h1v1h-1zM196.3 230.9h1v1h-1zM201.4 236.3h1v1h-1zM198.1 238.9h1v1h-1zM199.8 241.5h1v1h-1zM190.4 229.6h1v1h-1zM196.6 236.5h1v1h-1zM199.1 235.8h1v1h-1zM195.3 246.5h1v1h-1zM201.4 242.2h1v1h-1zM200.1 232.6h1v1h-1zM195.7 236.2h1v1h-1zM184.5 217.9h1v1h-1zM193.1 214.6h1v1h-1zM158.9 204.6h1v1h-1zM187.0 199.7h1v1h-1zM158.6 205.5h1v1h-1zM194.4 215.6h1v1h-1zM171.6 229.8h1v1h-1zM183.2 205.1h1v1h-1zM182.4 226.1h1v1h-1zM172.2 211.8h1v1h-1zM183.0 230.6h1v1h-1zM186.2 203.2h1v1h-1zM183.3 207.9h1v1h-1zM177.6 221.2h1v1h-1zM154.1 214.3h1v1h-1zM169.3 217.4h1v1h-1zM195.7 212.9h1v1h-1zM185.7 206.8h1v1h-1zM166.3 214.3h1v1h-1zM180.7 204.6h1v1h-1zM192.8 214.0h1v1h-1zM171.5 205.6h1v1h-1zM196.5 227.7h1v1h-1zM201.8 205.4h1v1h-1zM156.7 218.5h1v1h-1zM154.3 226.1h1v1h-1zM188.3 208.5h1v1h-1zM176.0 220.2h1v1h-1zM161.3 209.4h1v1h-1zM193.9 220.1h1v1h-1zM183.4 200.5h1v1h-1zM164.3 205.7h1v1h-1zM154.6 218.8h1v1h-1zM182.8 228.4h1v1h-1zM181.8 228.2h1v1h-1zM193.0 224.7h1v1h-1zM189.8 224.0h1v1h-1zM200.9 224.3h1v1h-1zM185.0 222.6h1v1h-1zM188.4 226.1h1v1h-1zM193.7 224.2h1v1h-1zM200.8 227.9h1v1h-1zM186.5 218.4h1v1h-1zM196.9 225.8h1v1h-1zM196.1 224.5h1v1h-1zM185.6 223.9h1v1h-1zM199.2 225.8h1v1h-1zM185.8 219.6h1v1h-1zM200.4 225.1h1v1h-1zM187.8 227.2h1v1h-1zM200.7 229.2h1v1h-1zM196.0 228.5h1v1h-1zM186.5 224.0h1v1h-1zM198.8 222.4h1v1h-1zM187.4 229.3h1v1h-1zM197.0 218.1h1v1h-1zM186.1 225.2h1v1h-1zM201.2 226.0h1v1h-1zM199.9 219.4h1v1h-1zM194.8 220.4h1v1h-1zM190.6 219.9h1v1h-1zM192.9 218.6h1v1h-1zM196.2 226.4h1v1h-1zM200.4 228.0h1v1h-1zM186.3 229.3h1v1h-1zM194.2 230.2h1v1h-1zM193.4 219.1h1v1h-1zM197.0 220.3h1v1h-1zM201.7 225.0h1v1h-1zM200.3 224.4h1v1h-1zM190.5 226.6h1v1h-1zM197.1 224.0h1v1h-1zM189.7 223.5h1v1h-1zM197.2 221.0h1v1h-1zM187.7 224.3h1v1h-1zM196.2 218.9h1v1h-1zM189.6 230.6h1v1h-1zM189.5 228.0h1v1h-1zM190.2 219.1h1v1h-1zM193.3 229.3h1v1h-1z" fill="#303030" opacity="0.58" filter="url(#soft)"/>
</g>
<rect x="123.8" y="171.3" width="92.39999999999999" height="93.0" fill="none" stroke="#222" stroke-width="1"/>
<line x1="152.5" y1="171.3" x2="152.5" y2="264.3" stroke="#222" stroke-width="1"/>
<line x1="123.8" y1="231.3" x2="216.2" y2="231.3" stroke="#222" stroke-width="1"/>
<text x="137.75" y="182.1" font-size="9.2" font-weight="bold" text-anchor="middle" textLength="20.8" lengthAdjust="spacingAndGlyphs">AGN</text>
<text x="182.2" y="181.7" font-size="9.7" text-anchor="end" >2.5%</text>
<text x="211.9" y="181.7" font-size="9.7" text-anchor="end" >2.6%</text>
<text x="182.2" y="192" font-size="9.7" text-anchor="end" >70.0%</text>
<text x="211.9" y="192" font-size="9.7" text-anchor="end" >24.9%</text>
<line x1="155.2" y1="183" x2="212.4" y2="183" stroke="#000" stroke-width="0.9"/>
<line x1="183.9" y1="175" x2="183.9" y2="192.5" stroke="#000" stroke-width="0.9"/>
<clipPath id="cp2"><rect x="220.5" y="171.3" width="92.0" height="93.0"/></clipPath>
<g clip-path="url(#cp2)">
<ellipse cx="235" cy="247.5" rx="7.0" ry="11.0" transform="rotate(38 235 247.5)" fill="#707070" filter="url(#coreblur)"/>
<ellipse cx="242" cy="239" rx="2.6" ry="6" transform="rotate(40 242 239)" fill="#747474" filter="url(#coreblur)"/>
<path d="M239.8 236.2h1v1h-1zM227.8 242.1h1v1h-1zM232.7 243.3h1v1h-1zM222.9 255.0h1v1h-1zM232.7 239.2h1v1h-1zM239.3 237.9h1v1h-1zM226.7 248.1h1v1h-1zM244.9 262.0h1v1h-1zM244.2 245.1h1v1h-1zM231.5 260.0h1v1h-1zM224.7 255.9h1v1h-1zM237.0 236.3h1v1h-1zM243.1 241.3h1v1h-1zM244.8 234.2h1v1h-1zM245.0 242.9h1v1h-1zM229.2 242.3h1v1h-1zM237.5 245.3h1v1h-1zM225.0 250.2h1v1h-1zM231.3 240.5h1v1h-1zM247.7 247.5h1v1h-1zM224.3 237.3h1v1h-1zM222.1 259.1h1v1h-1zM239.8 256.1h1v1h-1zM243.1 247.9h1v1h-1zM234.7 237.9h1v1h-1zM248.9 241.0h1v1h-1zM243.1 237.9h1v1h-1zM238.4 258.6h1v1h-1zM238.4 247.5h1v1h-1zM231.4 237.0h1v1h-1zM232.1 258.0h1v1h-1zM244.8 249.9h1v1h-1zM249.2 233.3h1v1h-1zM239.9 237.3h1v1h-1zM246.5 238.6h1v1h-1zM235.9 235.7h1v1h-1zM222.4 254.0h1v1h-1zM238.8 260.5h1v1h-1zM243.1 242.4h1v1h-1zM235.7 238.6h1v1h-1zM221.4 241.7h1v1h-1zM233.5 254.4h1v1h-1zM240.3 258.7h1v1h-1zM233.1 260.5h1v1h-1zM239.0 253.3h1v1h-1zM224.7 246.0h1v1h-1zM228.8 245.4h1v1h-1zM227.3 247.0h1v1h-1zM221.0 259.7h1v1h-1zM236.2 244.1h1v1h-1zM237.4 239.2h1v1h-1zM237.3 238.6h1v1h-1zM228.0 244.0h1v1h-1zM240.8 236.0h1v1h-1zM233.2 250.5h1v1h-1zM239.6 245.6h1v1h-1zM233.2 256.7h1v1h-1zM244.3 239.1h1v1h-1zM226.7 245.6h1v1h-1zM236.8 238.3h1v1h-1zM246.0 234.6h1v1h-1zM238.4 237.5h1v1h-1zM249.1 250.0h1v1h-1zM250.8 241.0h1v1h-1zM233.3 264.9h1v1h-1zM244.1 243.1h1v1h-1zM235.2 238.7h1v1h-1zM234.4 259.8h1v1h-1zM231.7 234.0h1v1h-1zM227.2 252.7h1v1h-1zM224.5 256.6h1v1h-1zM229.7 256.1h1v1h-1zM228.4 238.1h1v1h-1zM224.0 254.6h1v1h-1zM228.7 255.4h1v1h-1zM239.3 237.8h1v1h-1zM232.6 240.4h1v1h-1zM243.6 243.7h1v1h-1zM229.7 248.6h1v1h-1zM228.3 262.6h1v1h-1zM234.4 237.8h1v1h-1zM237.2 248.5h1v1h-1zM237.2 236.2h1v1h-1zM241.8 250.4h1v1h-1zM231.0 253.0h1v1h-1zM228.8 256.6h1v1h-1zM231.4 256.9h1v1h-1zM235.2 235.4h1v1h-1zM237.7 238.8h1v1h-1zM247.0 243.7h1v1h-1zM242.1 237.9h1v1h-1zM223.6 259.2h1v1h-1zM247.7 251.1h1v1h-1zM223.0 252.6h1v1h-1zM239.9 232.3h1v1h-1zM223.5 248.1h1v1h-1zM237.0 237.1h1v1h-1zM236.4 258.3h1v1h-1zM237.3 258.8h1v1h-1zM242.6 236.6h1v1h-1zM226.5 246.7h1v1h-1zM228.9 233.2h1v1h-1zM229.9 241.4h1v1h-1zM229.5 244.1h1v1h-1zM242.0 229.7h1v1h-1zM241.5 238.4h1v1h-1zM248.1 242.3h1v1h-1zM230.4 257.9h1v1h-1zM242.0 240.6h1v1h-1zM239.2 244.2h1v1h-1zM239.6 238.7h1v1h-1zM222.8 255.8h1v1h-1zM237.2 237.7h1v1h-1zM245.1 255.9h1v1h-1zM232.0 259.9h1v1h-1zM241.6 237.1h1v1h-1zM243.6 245.3h1v1h-1zM233.3 250.6h1v1h-1zM241.3 233.2h1v1h-1zM228.6 252.1h1v1h-1zM243.4 243.2h1v1h-1zM243.1 235.1h1v1h-1zM227.2 253.8h1v1h-1zM227.6 248.3h1v1h-1zM230.1 239.3h1v1h-1zM230.9 259.7h1v1h-1zM233.4 252.2h1v1h-1zM254.0 236.9h1v1h-1zM218.8 252.0h1v1h-1zM242.6 257.9h1v1h-1zM235.6 245.3h1v1h-1zM236.4 252.9h1v1h-1zM224.3 251.4h1v1h-1zM223.2 238.0h1v1h-1zM248.2 245.6h1v1h-1zM232.5 239.1h1v1h-1zM242.0 238.3h1v1h-1zM242.8 242.2h1v1h-1zM238.3 238.8h1v1h-1zM240.4 237.0h1v1h-1zM235.9 237.3h1v1h-1zM229.3 243.2h1v1h-1zM234.2 241.2h1v1h-1zM245.6 243.0h1v1h-1zM228.1 253.4h1v1h-1zM244.4 254.7h1v1h-1zM230.7 241.2h1v1h-1zM243.8 245.3h1v1h-1zM238.2 256.8h1v1h-1zM242.4 232.2h1v1h-1zM244.2 238.6h1v1h-1zM223.6 241.8h1v1h-1zM254.5 230.4h1v1h-1zM242.1 248.2h1v1h-1zM241.7 236.2h1v1h-1zM227.5 247.1h1v1h-1zM224.9 257.7h1v1h-1zM245.1 240.9h1v1h-1zM238.5 237.5h1v1h-1zM232.5 237.4h1v1h-1zM232.9 245.2h1v1h-1zM225.6 257.5h1v1h-1zM240.8 254.2h1v1h-1zM247.1 235.9h1v1h-1zM223.2 260.2h1v1h-1zM242.1 247.6h1v1h-1zM238.3 248.8h1v1h-1zM235.7 258.2h1v1h-1zM222.6 261.9h1v1h-1zM236.7 241.3h1v1h-1zM246.3 239.3h1v1h-1zM232.9 236.8h1v1h-1zM224.6 252.7h1v1h-1zM243.7 234.8h1v1h-1zM227.2 251.5h1v1h-1zM241.3 250.3h1v1h-1zM217.3 250.2h1v1h-1zM222.1 261.2h1v1h-1zM225.9 252.4h1v1h-1zM245.0 243.3h1v1h-1zM226.8 267.7h1v1h-1zM239.9 237.9h1v1h-1zM233.8 234.8h1v1h-1zM243.3 237.5h1v1h-1zM227.6 254.0h1v1h-1zM227.9 247.2h1v1h-1zM230.9 239.6h1v1h-1zM240.3 244.9h1v1h-1zM231.5 249.6h1v1h-1zM235.2 259.0h1v1h-1zM220.8 251.8h1v1h-1zM253.2 239.0h1v1h-1zM238.9 248.6h1v1h-1zM236.5 250.3h1v1h-1zM235.9 257.7h1v1h-1zM246.7 236.7h1v1h-1zM236.2 240.0h1v1h-1zM241.8 258.6h1v1h-1zM226.0 261.1h1v1h-1zM236.2 255.1h1v1h-1zM233.1 256.5h1v1h-1zM244.3 242.9h1v1h-1zM239.2 236.1h1v1h-1zM239.5 257.5h1v1h-1zM241.8 239.3h1v1h-1zM233.8 238.7h1v1h-1zM241.3 238.4h1v1h-1zM227.6 237.6h1v1h-1zM229.6 241.1h1v1h-1zM233.4 239.4h1v1h-1zM228.8 240.3h1v1h-1zM242.9 243.8h1v1h-1zM243.7 237.8h1v1h-1zM234.8 251.2h1v1h-1zM242.2 251.4h1v1h-1zM224.8 249.5h1v1h-1zM236.5 228.6h1v1h-1zM221.6 250.2h1v1h-1zM232.8 258.8h1v1h-1zM226.4 243.0h1v1h-1zM249.4 243.3h1v1h-1zM232.1 254.1h1v1h-1zM234.0 256.1h1v1h-1zM241.8 254.2h1v1h-1zM245.3 233.2h1v1h-1zM242.7 248.9h1v1h-1zM243.5 249.6h1v1h-1zM245.3 238.5h1v1h-1zM238.8 252.1h1v1h-1zM229.6 262.1h1v1h-1zM242.3 239.4h1v1h-1zM239.9 237.9h1v1h-1zM245.2 241.2h1v1h-1zM232.4 257.4h1v1h-1zM226.3 256.5h1v1h-1zM241.0 235.6h1v1h-1zM236.6 235.2h1v1h-1zM242.7 253.2h1v1h-1zM229.6 240.0h1v1h-1zM243.8 246.3h1v1h-1zM228.4 239.2h1v1h-1zM233.8 245.2h1v1h-1zM232.2 240.7h1v1h-1zM228.5 249.7h1v1h-1zM245.1 232.7h1v1h-1zM224.4 243.0h1v1h-1zM243.3 234.8h1v1h-1zM242.4 248.4h1v1h-1zM243.1 228.8h1v1h-1zM241.4 212.7h1v1h-1zM223.0 215.9h1v1h-1zM240.8 217.0h1v1h-1zM239.6 202.2h1v1h-1zM239.3 210.2h1v1h-1zM238.8 219.6h1v1h-1zM239.7 207.2h1v1h-1zM234.1 192.5h1v1h-1zM246.7 208.1h1v1h-1zM243.5 214.6h1v1h-1zM239.0 216.0h1v1h-1zM238.8 227.3h1v1h-1zM236.3 208.6h1v1h-1zM238.1 214.6h1v1h-1zM245.4 203.5h1v1h-1zM226.9 215.4h1v1h-1zM241.6 210.1h1v1h-1zM238.4 217.5h1v1h-1zM234.2 201.3h1v1h-1zM230.6 209.0h1v1h-1zM234.6 209.4h1v1h-1zM233.0 189.7h1v1h-1zM243.5 214.6h1v1h-1zM243.4 223.7h1v1h-1zM230.5 219.0h1v1h-1zM232.9 188.9h1v1h-1zM233.1 204.5h1v1h-1zM246.7 208.1h1v1h-1zM237.4 215.0h1v1h-1zM240.0 209.3h1v1h-1zM248.0 200.2h1v1h-1zM232.6 190.3h1v1h-1zM232.6 200.7h1v1h-1zM235.8 207.0h1v1h-1zM245.2 218.8h1v1h-1zM236.2 212.6h1v1h-1zM235.1 208.2h1v1h-1zM237.8 231.4h1v1h-1zM232.9 199.8h1v1h-1zM240.5 201.2h1v1h-1zM233.8 214.2h1v1h-1zM233.5 224.6h1v1h-1zM241.4 205.4h1v1h-1zM237.7 204.2h1v1h-1zM245.5 211.8h1v1h-1zM239.2 202.2h1v1h-1zM245.8 210.5h1v1h-1zM235.1 226.2h1v1h-1zM239.9 206.4h1v1h-1zM242.7 205.4h1v1h-1zM237.8 220.6h1v1h-1zM233.0 208.8h1v1h-1zM238.1 214.4h1v1h-1zM233.5 199.3h1v1h-1zM236.9 201.5h1v1h-1zM239.0 209.5h1v1h-1zM239.1 212.4h1v1h-1zM233.2 206.9h1v1h-1zM239.3 223.1h1v1h-1zM239.7 211.1h1v1h-1zM247.8 206.1h1v1h-1zM244.6 217.2h1v1h-1zM232.8 210.4h1v1h-1zM242.0 198.9h1v1h-1zM245.0 205.5h1v1h-1zM240.5 208.5h1v1h-1zM240.3 203.1h1v1h-1zM245.7 202.5h1v1h-1zM246.0 207.5h1v1h-1zM234.2 218.7h1v1h-1zM238.8 207.6h1v1h-1zM232.7 207.8h1v1h-1zM237.7 202.0h1v1h-1zM232.6 200.9h1v1h-1zM233.4 221.2h1v1h-1zM242.1 205.5h1v1h-1zM233.3 209.1h1v1h-1zM240.4 204.3h1v1h-1zM237.5 220.7h1v1h-1zM237.0 206.3h1v1h-1zM243.9 209.4h1v1h-1zM237.9 200.8h1v1h-1zM243.0 212.7h1v1h-1zM236.7 209.1h1v1h-1zM244.6 209.3h1v1h-1zM237.4 211.6h1v1h-1zM238.6 220.1h1v1h-1zM236.8 206.0h1v1h-1zM234.9 211.7h1v1h-1zM232.1 205.0h1v1h-1zM230.9 209.1h1v1h-1zM237.1 208.1h1v1h-1zM235.6 201.4h1v1h-1zM239.1 187.5h1v1h-1zM233.2 226.6h1v1h-1zM239.3 225.4h1v1h-1zM247.1 211.6h1v1h-1zM233.7 214.7h1v1h-1zM234.1 211.1h1v1h-1zM239.4 226.2h1v1h-1zM237.4 208.6h1v1h-1zM237.1 234.0h1v1h-1zM237.7 219.2h1v1h-1zM234.6 206.4h1v1h-1zM250.9 201.8h1v1h-1zM240.8 216.2h1v1h-1zM240.9 220.5h1v1h-1zM237.0 225.6h1v1h-1zM239.8 208.5h1v1h-1zM240.7 211.8h1v1h-1zM237.6 216.0h1v1h-1zM234.5 214.9h1v1h-1zM236.8 185.1h1v1h-1zM243.3 209.5h1v1h-1zM237.0 206.8h1v1h-1zM231.2 197.7h1v1h-1zM240.4 207.4h1v1h-1zM243.5 229.6h1v1h-1zM236.0 195.0h1v1h-1zM244.3 216.7h1v1h-1zM245.9 213.3h1v1h-1zM239.6 202.5h1v1h-1zM246.0 211.3h1v1h-1zM244.9 210.9h1v1h-1zM235.8 217.7h1v1h-1zM243.1 186.6h1v1h-1zM236.3 216.3h1v1h-1zM243.4 210.8h1v1h-1zM234.8 214.1h1v1h-1zM236.4 182.9h1v1h-1zM229.6 214.8h1v1h-1zM234.6 217.1h1v1h-1zM242.4 185.8h1v1h-1zM238.7 195.4h1v1h-1zM243.3 191.2h1v1h-1zM243.9 207.4h1v1h-1zM238.1 211.8h1v1h-1zM234.3 209.4h1v1h-1zM253.0 211.1h1v1h-1zM234.7 232.7h1v1h-1zM242.8 211.9h1v1h-1zM239.9 196.4h1v1h-1zM236.0 200.8h1v1h-1zM245.8 221.2h1v1h-1zM238.9 199.6h1v1h-1zM230.8 204.1h1v1h-1zM233.3 211.4h1v1h-1zM231.0 212.6h1v1h-1zM238.1 202.0h1v1h-1zM239.2 201.4h1v1h-1zM236.4 202.4h1v1h-1zM247.3 197.0h1v1h-1zM239.3 201.4h1v1h-1zM235.6 219.6h1v1h-1zM237.5 209.4h1v1h-1zM228.4 204.5h1v1h-1zM247.4 219.3h1v1h-1zM224.1 195.7h1v1h-1zM237.3 195.3h1v1h-1zM238.6 200.5h1v1h-1zM245.2 224.3h1v1h-1zM243.8 199.9h1v1h-1zM239.6 222.5h1v1h-1zM234.1 210.1h1v1h-1zM233.4 211.7h1v1h-1zM244.9 209.3h1v1h-1zM248.4 207.8h1v1h-1zM242.0 226.4h1v1h-1zM233.9 220.2h1v1h-1zM231.5 204.7h1v1h-1zM236.3 225.3h1v1h-1zM233.0 223.8h1v1h-1zM231.9 211.6h1v1h-1zM242.2 210.8h1v1h-1zM248.3 211.6h1v1h-1zM232.0 208.8h1v1h-1zM243.2 192.6h1v1h-1zM228.3 230.4h1v1h-1zM232.8 221.2h1v1h-1zM240.6 202.7h1v1h-1zM234.7 215.6h1v1h-1zM235.9 219.6h1v1h-1zM239.4 208.1h1v1h-1zM246.6 209.8h1v1h-1zM232.4 205.8h1v1h-1zM236.1 227.2h1v1h-1zM241.7 204.0h1v1h-1zM235.3 211.0h1v1h-1zM238.5 230.5h1v1h-1zM235.4 202.5h1v1h-1zM236.6 206.1h1v1h-1zM242.8 211.2h1v1h-1zM235.9 208.1h1v1h-1zM234.6 208.7h1v1h-1zM237.9 227.4h1v1h-1zM233.6 223.6h1v1h-1zM238.5 201.3h1v1h-1zM247.2 214.8h1v1h-1zM232.8 206.8h1v1h-1zM236.2 199.4h1v1h-1zM239.0 210.3h1v1h-1zM244.7 208.3h1v1h-1zM230.1 223.0h1v1h-1zM243.4 202.8h1v1h-1zM244.9 211.8h1v1h-1zM233.4 217.8h1v1h-1zM239.7 206.3h1v1h-1zM240.7 203.8h1v1h-1zM238.5 213.8h1v1h-1zM241.3 215.9h1v1h-1zM227.8 206.7h1v1h-1zM240.3 218.3h1v1h-1zM233.9 221.2h1v1h-1zM234.3 222.8h1v1h-1zM239.3 213.4h1v1h-1zM232.0 203.3h1v1h-1zM239.5 213.3h1v1h-1zM237.7 207.8h1v1h-1zM244.8 204.1h1v1h-1zM241.0 219.7h1v1h-1zM240.4 212.5h1v1h-1zM232.9 227.4h1v1h-1zM245.0 202.0h1v1h-1zM234.5 200.9h1v1h-1zM231.8 210.0h1v1h-1zM233.9 211.2h1v1h-1zM240.5 203.8h1v1h-1zM232.7 219.4h1v1h-1zM242.6 208.9h1v1h-1zM234.2 215.1h1v1h-1zM239.6 220.1h1v1h-1zM239.2 204.7h1v1h-1zM234.8 212.2h1v1h-1zM231.5 202.9h1v1h-1zM242.5 218.7h1v1h-1zM241.0 224.3h1v1h-1zM237.1 204.6h1v1h-1zM239.0 219.4h1v1h-1zM233.9 229.6h1v1h-1zM244.2 198.4h1v1h-1zM234.5 217.8h1v1h-1zM240.0 221.6h1v1h-1zM240.4 209.7h1v1h-1zM236.1 215.1h1v1h-1zM240.7 204.0h1v1h-1zM237.0 211.3h1v1h-1zM236.5 199.8h1v1h-1zM240.8 195.8h1v1h-1zM238.4 203.2h1v1h-1zM238.5 224.5h1v1h-1zM248.8 218.2h1v1h-1zM237.5 199.5h1v1h-1zM237.3 214.1h1v1h-1zM231.0 205.2h1v1h-1zM240.1 214.1h1v1h-1zM236.5 200.6h1v1h-1zM239.7 201.1h1v1h-1zM247.8 208.7h1v1h-1zM236.0 222.2h1v1h-1zM234.2 205.3h1v1h-1zM241.5 196.8h1v1h-1zM240.0 204.1h1v1h-1zM232.7 210.6h1v1h-1zM237.8 210.1h1v1h-1zM240.4 200.9h1v1h-1zM243.4 227.5h1v1h-1zM231.4 205.3h1v1h-1zM238.1 197.1h1v1h-1zM239.8 209.3h1v1h-1zM237.1 216.2h1v1h-1zM236.4 205.7h1v1h-1zM241.0 212.0h1v1h-1zM241.1 222.1h1v1h-1zM233.6 214.1h1v1h-1zM244.1 211.9h1v1h-1zM238.5 215.4h1v1h-1zM241.0 213.0h1v1h-1zM236.2 214.5h1v1h-1zM235.8 212.4h1v1h-1zM237.6 190.7h1v1h-1zM237.7 214.5h1v1h-1zM240.4 210.1h1v1h-1zM234.0 197.4h1v1h-1zM228.9 213.2h1v1h-1zM242.9 223.8h1v1h-1zM246.7 199.2h1v1h-1zM241.4 202.3h1v1h-1zM229.6 209.6h1v1h-1zM235.9 216.3h1v1h-1zM241.5 212.3h1v1h-1zM245.2 228.8h1v1h-1zM236.9 219.7h1v1h-1zM245.5 208.6h1v1h-1zM236.5 212.9h1v1h-1zM236.0 217.2h1v1h-1zM243.1 207.7h1v1h-1zM242.1 209.7h1v1h-1zM247.9 217.3h1v1h-1zM245.7 219.0h1v1h-1zM235.4 206.4h1v1h-1zM241.0 201.9h1v1h-1zM244.3 209.7h1v1h-1zM248.5 203.0h1v1h-1zM233.5 221.8h1v1h-1zM237.6 196.5h1v1h-1zM245.4 213.2h1v1h-1zM238.7 204.5h1v1h-1zM239.9 213.1h1v1h-1zM236.4 209.7h1v1h-1zM241.2 202.5h1v1h-1zM246.0 210.5h1v1h-1zM235.9 213.8h1v1h-1zM232.9 217.1h1v1h-1zM244.8 194.9h1v1h-1zM238.0 212.9h1v1h-1zM234.9 197.9h1v1h-1zM233.5 196.6h1v1h-1zM241.0 198.0h1v1h-1zM239.5 206.3h1v1h-1zM244.9 206.1h1v1h-1zM240.8 214.4h1v1h-1zM236.0 204.4h1v1h-1zM241.9 207.9h1v1h-1zM233.1 212.0h1v1h-1zM242.1 207.9h1v1h-1zM244.2 200.9h1v1h-1zM228.4 200.8h1v1h-1zM244.2 199.9h1v1h-1zM237.2 210.2h1v1h-1zM239.7 225.3h1v1h-1zM243.4 220.6h1v1h-1zM235.9 219.1h1v1h-1zM242.4 193.8h1v1h-1zM238.4 200.1h1v1h-1zM225.5 204.5h1v1h-1zM244.1 204.9h1v1h-1zM247.2 221.2h1v1h-1zM240.7 212.4h1v1h-1zM236.9 205.4h1v1h-1zM238.7 195.8h1v1h-1zM243.6 229.8h1v1h-1zM245.2 210.8h1v1h-1zM246.7 209.0h1v1h-1zM230.0 214.1h1v1h-1zM245.1 205.2h1v1h-1zM242.3 215.8h1v1h-1zM237.2 201.9h1v1h-1zM241.0 220.6h1v1h-1zM241.8 219.8h1v1h-1zM244.5 220.4h1v1h-1zM241.0 233.8h1v1h-1zM243.6 219.8h1v1h-1zM236.6 205.8h1v1h-1zM234.4 202.0h1v1h-1zM236.3 206.7h1v1h-1zM229.8 213.8h1v1h-1zM236.0 205.9h1v1h-1zM233.7 228.8h1v1h-1zM243.5 214.7h1v1h-1zM233.6 210.1h1v1h-1zM240.7 211.1h1v1h-1zM241.3 201.8h1v1h-1zM237.2 221.6h1v1h-1zM240.3 212.3h1v1h-1zM242.2 196.1h1v1h-1zM239.8 219.3h1v1h-1zM242.1 215.1h1v1h-1zM230.9 208.8h1v1h-1zM229.6 210.3h1v1h-1zM244.5 210.9h1v1h-1zM240.9 212.4h1v1h-1zM237.4 206.3h1v1h-1zM239.7 209.0h1v1h-1zM252.8 222.3h1v1h-1zM233.6 218.0h1v1h-1zM236.6 208.1h1v1h-1zM236.2 219.2h1v1h-1zM237.9 193.6h1v1h-1zM237.5 205.1h1v1h-1zM228.6 216.3h1v1h-1zM240.4 219.2h1v1h-1zM227.3 189.2h1v1h-1zM245.5 213.4h1v1h-1zM233.0 214.0h1v1h-1zM239.6 207.2h1v1h-1zM235.2 205.9h1v1h-1zM238.7 195.2h1v1h-1zM236.2 213.9h1v1h-1zM239.2 195.5h1v1h-1zM231.5 204.6h1v1h-1zM241.8 208.6h1v1h-1zM235.4 194.2h1v1h-1zM237.5 232.5h1v1h-1zM234.0 234.0h1v1h-1zM227.8 197.7h1v1h-1zM244.5 199.4h1v1h-1zM235.0 219.0h1v1h-1zM231.4 201.6h1v1h-1zM230.0 221.7h1v1h-1zM258.0 248.9h1v1h-1zM257.0 251.8h1v1h-1zM270.4 241.3h1v1h-1zM277.5 240.1h1v1h-1zM253.9 252.1h1v1h-1zM257.2 247.3h1v1h-1zM270.8 250.7h1v1h-1zM284.2 229.7h1v1h-1zM282.2 249.4h1v1h-1zM278.2 247.6h1v1h-1zM270.2 243.6h1v1h-1zM282.1 235.2h1v1h-1zM264.5 251.2h1v1h-1zM274.5 246.4h1v1h-1zM282.8 242.0h1v1h-1zM285.8 249.5h1v1h-1zM265.6 248.1h1v1h-1zM266.0 245.7h1v1h-1zM250.7 264.9h1v1h-1zM277.9 248.5h1v1h-1zM265.7 242.4h1v1h-1zM262.7 247.6h1v1h-1zM266.4 239.9h1v1h-1zM251.9 258.1h1v1h-1zM257.9 254.3h1v1h-1zM265.4 258.7h1v1h-1zM253.9 249.6h1v1h-1zM269.5 243.7h1v1h-1zM274.5 241.2h1v1h-1zM254.1 263.8h1v1h-1zM272.6 239.3h1v1h-1zM261.9 240.9h1v1h-1zM284.6 245.0h1v1h-1zM277.3 240.3h1v1h-1zM281.0 247.4h1v1h-1zM262.4 243.3h1v1h-1zM257.4 259.7h1v1h-1zM278.0 240.5h1v1h-1zM253.8 246.6h1v1h-1zM275.2 243.8h1v1h-1zM252.5 262.2h1v1h-1zM269.6 239.4h1v1h-1zM270.3 245.6h1v1h-1zM264.9 246.8h1v1h-1zM283.5 247.1h1v1h-1zM259.5 253.4h1v1h-1zM262.5 256.4h1v1h-1zM277.1 251.7h1v1h-1zM255.0 255.8h1v1h-1zM260.9 248.4h1v1h-1zM252.8 246.8h1v1h-1zM259.3 254.1h1v1h-1zM283.2 235.5h1v1h-1zM251.8 260.4h1v1h-1zM265.0 252.1h1v1h-1zM251.1 243.7h1v1h-1zM252.5 256.8h1v1h-1zM259.1 247.8h1v1h-1zM269.8 248.7h1v1h-1zM282.4 223.5h1v1h-1zM261.7 249.2h1v1h-1zM280.7 247.4h1v1h-1zM256.2 248.6h1v1h-1zM281.4 250.5h1v1h-1zM270.4 251.2h1v1h-1zM283.5 231.9h1v1h-1zM270.8 243.1h1v1h-1zM279.6 236.2h1v1h-1zM262.1 241.0h1v1h-1zM265.1 247.6h1v1h-1zM276.7 236.7h1v1h-1zM268.0 243.8h1v1h-1zM273.5 246.5h1v1h-1zM254.8 243.7h1v1h-1zM269.8 247.0h1v1h-1zM250.8 254.6h1v1h-1zM271.6 250.8h1v1h-1zM282.7 242.6h1v1h-1zM252.3 245.6h1v1h-1zM267.6 247.2h1v1h-1zM251.4 250.8h1v1h-1zM260.7 249.5h1v1h-1zM257.7 242.3h1v1h-1zM287.5 242.5h1v1h-1zM254.4 255.0h1v1h-1zM252.5 246.8h1v1h-1zM278.9 234.2h1v1h-1zM249.4 245.2h1v1h-1zM272.5 240.9h1v1h-1zM279.2 241.1h1v1h-1zM267.9 246.7h1v1h-1zM276.3 237.0h1v1h-1zM249.3 258.1h1v1h-1zM253.4 250.1h1v1h-1zM270.1 246.5h1v1h-1zM277.4 249.9h1v1h-1zM269.8 243.0h1v1h-1zM286.0 230.1h1v1h-1zM257.4 243.8h1v1h-1zM275.7 238.3h1v1h-1zM283.6 242.8h1v1h-1zM278.6 252.8h1v1h-1zM263.6 245.8h1v1h-1zM254.5 248.0h1v1h-1zM267.6 255.6h1v1h-1zM277.2 240.5h1v1h-1zM252.2 250.1h1v1h-1zM273.5 239.7h1v1h-1zM278.9 234.0h1v1h-1zM269.1 247.9h1v1h-1zM275.3 236.9h1v1h-1zM266.2 249.4h1v1h-1zM266.9 258.7h1v1h-1zM281.9 233.4h1v1h-1zM267.7 252.4h1v1h-1zM266.6 252.7h1v1h-1zM261.0 248.2h1v1h-1zM261.7 244.7h1v1h-1zM276.9 248.8h1v1h-1zM268.0 257.2h1v1h-1zM285.7 239.3h1v1h-1zM249.6 255.6h1v1h-1zM275.0 241.3h1v1h-1zM275.5 249.3h1v1h-1zM251.4 257.8h1v1h-1zM263.1 255.1h1v1h-1zM282.8 239.3h1v1h-1zM266.9 257.4h1v1h-1zM263.2 251.2h1v1h-1zM257.7 253.8h1v1h-1zM259.9 246.2h1v1h-1zM262.0 243.4h1v1h-1zM278.7 239.1h1v1h-1zM271.1 239.8h1v1h-1zM255.5 254.4h1v1h-1zM251.7 244.0h1v1h-1zM268.1 244.2h1v1h-1zM255.4 248.7h1v1h-1zM278.4 240.9h1v1h-1zM280.8 244.3h1v1h-1zM266.8 240.3h1v1h-1zM279.4 242.9h1v1h-1zM269.4 239.2h1v1h-1zM268.8 251.4h1v1h-1zM284.8 237.5h1v1h-1zM251.5 244.9h1v1h-1zM259.9 244.4h1v1h-1zM276.3 250.6h1v1h-1zM281.7 244.8h1v1h-1zM269.9 250.6h1v1h-1zM270.9 241.8h1v1h-1zM253.8 260.2h1v1h-1zM265.7 237.7h1v1h-1zM263.5 245.8h1v1h-1zM272.3 241.4h1v1h-1zM277.6 255.3h1v1h-1zM272.7 241.5h1v1h-1zM258.5 240.9h1v1h-1zM263.7 238.1h1v1h-1zM276.2 257.8h1v1h-1zM280.6 245.8h1v1h-1zM286.2 242.8h1v1h-1zM259.0 249.3h1v1h-1zM259.5 248.0h1v1h-1zM271.1 249.5h1v1h-1zM259.3 249.5h1v1h-1zM252.5 247.2h1v1h-1zM262.9 246.1h1v1h-1zM271.5 250.0h1v1h-1zM283.8 232.9h1v1h-1zM284.0 242.7h1v1h-1zM254.6 244.0h1v1h-1zM264.0 243.5h1v1h-1zM272.2 246.2h1v1h-1zM280.0 251.5h1v1h-1zM276.9 245.1h1v1h-1zM259.9 256.9h1v1h-1zM263.0 245.4h1v1h-1zM261.9 257.6h1v1h-1zM268.3 256.5h1v1h-1zM256.7 253.8h1v1h-1zM271.2 243.9h1v1h-1zM283.5 231.7h1v1h-1zM265.6 247.9h1v1h-1zM261.3 245.2h1v1h-1zM285.1 231.2h1v1h-1zM253.5 255.9h1v1h-1zM262.2 249.5h1v1h-1zM269.2 244.4h1v1h-1zM259.7 246.1h1v1h-1zM280.4 238.6h1v1h-1zM254.6 248.2h1v1h-1zM254.3 242.9h1v1h-1zM260.8 258.5h1v1h-1zM282.8 246.5h1v1h-1zM257.0 251.1h1v1h-1zM260.5 243.7h1v1h-1zM253.7 256.0h1v1h-1zM254.4 247.8h1v1h-1zM275.0 239.5h1v1h-1zM281.1 249.9h1v1h-1zM282.1 235.6h1v1h-1zM270.0 246.7h1v1h-1zM267.7 236.2h1v1h-1zM279.6 239.9h1v1h-1zM266.0 248.3h1v1h-1zM270.6 241.4h1v1h-1zM251.7 247.5h1v1h-1zM280.9 240.6h1v1h-1zM269.9 241.7h1v1h-1zM286.2 241.5h1v1h-1zM271.5 238.0h1v1h-1zM284.4 242.4h1v1h-1zM269.4 250.1h1v1h-1zM266.1 244.0h1v1h-1zM274.8 241.9h1v1h-1zM283.8 245.4h1v1h-1zM257.2 240.6h1v1h-1zM265.6 253.0h1v1h-1zM261.1 245.2h1v1h-1zM253.7 255.4h1v1h-1zM283.2 243.5h1v1h-1zM267.0 242.5h1v1h-1zM288.2 246.5h1v1h-1zM249.8 241.1h1v1h-1zM278.2 240.7h1v1h-1zM286.4 238.2h1v1h-1zM279.7 240.9h1v1h-1zM265.3 239.6h1v1h-1zM282.5 243.3h1v1h-1zM256.6 262.6h1v1h-1zM262.6 242.2h1v1h-1zM271.5 245.4h1v1h-1zM257.0 236.5h1v1h-1zM285.0 252.1h1v1h-1zM264.6 256.2h1v1h-1zM280.0 238.3h1v1h-1zM255.3 255.2h1v1h-1zM256.7 247.4h1v1h-1zM259.8 245.3h1v1h-1zM253.0 252.4h1v1h-1zM251.7 251.1h1v1h-1zM266.5 241.5h1v1h-1zM260.9 235.3h1v1h-1zM283.9 236.4h1v1h-1zM262.7 245.9h1v1h-1zM279.8 245.9h1v1h-1zM262.8 241.7h1v1h-1zM264.6 248.1h1v1h-1zM284.1 245.0h1v1h-1zM273.3 240.6h1v1h-1zM276.7 240.3h1v1h-1zM270.2 252.2h1v1h-1zM276.3 235.9h1v1h-1zM264.6 242.0h1v1h-1zM260.9 253.8h1v1h-1zM256.9 255.1h1v1h-1zM260.9 255.6h1v1h-1zM268.5 243.9h1v1h-1zM271.4 239.1h1v1h-1zM268.9 248.8h1v1h-1zM259.7 252.1h1v1h-1zM250.8 255.8h1v1h-1zM255.2 243.7h1v1h-1zM271.0 248.7h1v1h-1zM276.8 248.6h1v1h-1zM260.5 243.0h1v1h-1zM263.4 253.1h1v1h-1zM255.3 265.2h1v1h-1zM251.5 255.0h1v1h-1zM276.3 229.3h1v1h-1zM263.4 250.3h1v1h-1zM250.9 260.9h1v1h-1zM284.2 243.7h1v1h-1zM281.7 238.6h1v1h-1zM254.6 252.7h1v1h-1zM274.8 247.0h1v1h-1zM281.7 242.3h1v1h-1zM264.0 240.9h1v1h-1zM274.2 245.9h1v1h-1zM270.2 247.7h1v1h-1zM268.1 241.3h1v1h-1zM266.2 246.6h1v1h-1zM273.9 244.8h1v1h-1zM271.5 244.4h1v1h-1zM270.6 248.7h1v1h-1zM264.5 249.8h1v1h-1zM258.3 249.9h1v1h-1zM253.4 242.4h1v1h-1zM258.0 251.4h1v1h-1zM267.3 241.0h1v1h-1zM271.8 243.9h1v1h-1zM249.5 250.7h1v1h-1zM275.3 244.9h1v1h-1zM254.2 241.9h1v1h-1zM266.2 249.7h1v1h-1zM276.7 238.1h1v1h-1zM282.7 242.1h1v1h-1zM260.2 243.4h1v1h-1zM253.8 257.2h1v1h-1zM271.7 248.3h1v1h-1zM270.1 247.1h1v1h-1zM273.7 241.5h1v1h-1zM283.5 236.2h1v1h-1zM252.3 259.2h1v1h-1zM266.1 249.2h1v1h-1zM281.5 237.8h1v1h-1zM268.5 244.0h1v1h-1zM274.0 256.4h1v1h-1zM281.2 240.7h1v1h-1zM268.7 250.7h1v1h-1zM290.1 237.5h1v1h-1zM281.5 241.6h1v1h-1zM280.6 246.0h1v1h-1zM279.4 247.3h1v1h-1zM276.5 247.3h1v1h-1zM260.5 258.1h1v1h-1zM287.7 234.7h1v1h-1zM277.2 237.7h1v1h-1zM270.5 248.8h1v1h-1zM262.0 254.7h1v1h-1zM259.9 261.6h1v1h-1zM281.5 238.8h1v1h-1zM255.2 250.6h1v1h-1zM280.3 248.3h1v1h-1zM273.3 245.2h1v1h-1zM276.9 238.0h1v1h-1zM270.2 244.2h1v1h-1zM253.9 240.0h1v1h-1zM267.0 235.9h1v1h-1zM277.3 230.4h1v1h-1zM254.0 249.0h1v1h-1zM278.9 240.2h1v1h-1zM274.2 249.8h1v1h-1zM262.3 251.3h1v1h-1zM279.3 238.8h1v1h-1zM278.7 252.0h1v1h-1zM273.0 237.0h1v1h-1zM285.9 234.9h1v1h-1zM271.1 243.0h1v1h-1zM262.9 237.7h1v1h-1zM285.1 234.9h1v1h-1zM264.6 239.0h1v1h-1zM284.9 235.7h1v1h-1zM263.5 251.6h1v1h-1zM266.0 248.1h1v1h-1zM269.8 243.3h1v1h-1zM277.9 235.2h1v1h-1zM272.5 253.2h1v1h-1zM273.8 243.6h1v1h-1zM265.5 243.1h1v1h-1zM262.8 245.1h1v1h-1zM259.0 245.1h1v1h-1zM280.2 248.2h1v1h-1zM260.2 241.3h1v1h-1zM264.4 250.0h1v1h-1zM258.1 244.5h1v1h-1zM253.5 255.3h1v1h-1zM285.4 243.5h1v1h-1zM285.7 234.8h1v1h-1zM265.5 250.6h1v1h-1zM267.6 244.2h1v1h-1zM269.1 253.2h1v1h-1zM262.1 238.8h1v1h-1zM265.1 248.8h1v1h-1zM256.7 241.7h1v1h-1zM259.3 248.3h1v1h-1zM262.0 245.4h1v1h-1zM261.2 255.2h1v1h-1zM266.7 249.1h1v1h-1zM254.0 251.6h1v1h-1zM254.7 248.5h1v1h-1zM267.7 245.7h1v1h-1zM267.2 246.5h1v1h-1zM249.2 247.7h1v1h-1zM263.7 250.6h1v1h-1zM260.5 237.3h1v1h-1zM259.5 246.0h1v1h-1zM255.5 242.7h1v1h-1zM289.4 234.3h1v1h-1zM262.5 255.9h1v1h-1zM254.5 247.1h1v1h-1zM277.0 244.3h1v1h-1zM280.6 241.0h1v1h-1zM286.2 236.8h1v1h-1zM275.2 247.5h1v1h-1zM262.5 253.3h1v1h-1zM262.0 260.2h1v1h-1zM262.1 243.4h1v1h-1zM277.5 255.1h1v1h-1zM285.3 237.0h1v1h-1zM280.7 241.0h1v1h-1zM264.0 240.4h1v1h-1zM285.8 231.3h1v1h-1zM284.5 249.4h1v1h-1zM251.3 249.3h1v1h-1zM268.4 246.8h1v1h-1zM274.2 240.5h1v1h-1zM260.1 241.6h1v1h-1zM250.4 266.3h1v1h-1zM260.5 255.2h1v1h-1zM283.5 236.6h1v1h-1zM275.5 244.4h1v1h-1zM263.8 245.1h1v1h-1zM253.1 248.2h1v1h-1zM253.5 252.7h1v1h-1zM259.4 244.3h1v1h-1zM259.9 248.0h1v1h-1zM273.5 250.0h1v1h-1zM251.9 249.9h1v1h-1zM271.6 251.0h1v1h-1zM258.9 240.6h1v1h-1zM283.0 240.9h1v1h-1zM270.0 249.2h1v1h-1zM269.8 245.6h1v1h-1zM277.0 249.5h1v1h-1zM260.2 241.8h1v1h-1zM262.0 248.5h1v1h-1zM255.1 249.4h1v1h-1zM265.1 245.8h1v1h-1zM285.6 253.4h1v1h-1zM264.9 242.7h1v1h-1zM251.7 250.5h1v1h-1zM279.2 234.5h1v1h-1zM254.1 254.5h1v1h-1zM252.5 248.5h1v1h-1zM271.2 248.6h1v1h-1zM283.5 234.9h1v1h-1zM270.0 240.3h1v1h-1zM252.5 254.4h1v1h-1zM269.8 252.6h1v1h-1zM259.0 262.8h1v1h-1zM275.6 245.6h1v1h-1zM278.9 250.1h1v1h-1zM259.4 247.0h1v1h-1zM284.1 240.2h1v1h-1zM259.1 244.2h1v1h-1zM262.1 240.9h1v1h-1zM259.3 243.2h1v1h-1zM257.5 242.3h1v1h-1zM287.2 243.8h1v1h-1zM285.4 234.1h1v1h-1zM286.8 244.6h1v1h-1zM288.7 237.8h1v1h-1zM286.9 244.2h1v1h-1zM299.5 237.0h1v1h-1zM292.7 238.9h1v1h-1zM288.8 241.1h1v1h-1zM290.1 242.9h1v1h-1zM297.4 238.0h1v1h-1zM281.3 246.4h1v1h-1zM286.4 236.7h1v1h-1zM289.6 236.2h1v1h-1zM289.1 238.1h1v1h-1zM290.9 235.0h1v1h-1zM284.5 238.2h1v1h-1zM280.3 239.1h1v1h-1zM276.5 233.7h1v1h-1zM278.5 236.2h1v1h-1zM291.4 244.6h1v1h-1zM280.3 232.4h1v1h-1zM284.7 243.3h1v1h-1zM288.2 235.0h1v1h-1zM281.6 245.5h1v1h-1zM284.2 233.8h1v1h-1zM293.8 239.3h1v1h-1zM284.5 240.4h1v1h-1zM285.4 240.3h1v1h-1zM290.9 231.0h1v1h-1zM292.9 236.9h1v1h-1zM289.2 242.9h1v1h-1zM287.2 238.5h1v1h-1zM285.8 240.9h1v1h-1zM288.5 242.0h1v1h-1zM285.9 237.2h1v1h-1zM289.8 234.6h1v1h-1zM287.9 240.5h1v1h-1zM283.3 237.8h1v1h-1zM285.1 238.5h1v1h-1zM284.1 243.2h1v1h-1zM291.1 241.5h1v1h-1zM289.9 232.9h1v1h-1zM290.9 243.6h1v1h-1zM288.9 239.9h1v1h-1zM291.9 238.9h1v1h-1zM288.4 242.1h1v1h-1zM293.2 245.8h1v1h-1zM290.7 244.4h1v1h-1zM288.5 233.4h1v1h-1zM283.9 236.3h1v1h-1zM289.5 231.6h1v1h-1zM292.5 242.2h1v1h-1zM289.9 242.9h1v1h-1zM288.9 243.8h1v1h-1zM283.4 231.8h1v1h-1zM286.4 240.0h1v1h-1zM278.6 241.9h1v1h-1zM281.7 236.3h1v1h-1zM287.6 231.4h1v1h-1zM296.4 234.6h1v1h-1zM286.5 229.5h1v1h-1zM289.0 241.5h1v1h-1zM285.7 232.1h1v1h-1zM291.5 231.9h1v1h-1zM285.8 241.2h1v1h-1zM285.9 236.5h1v1h-1zM283.8 238.6h1v1h-1zM282.3 242.7h1v1h-1zM283.3 233.3h1v1h-1zM294.9 242.4h1v1h-1zM284.6 228.0h1v1h-1zM282.6 233.8h1v1h-1zM292.1 233.2h1v1h-1zM286.2 237.4h1v1h-1zM293.3 239.7h1v1h-1zM289.3 234.4h1v1h-1zM288.1 243.7h1v1h-1zM290.6 231.5h1v1h-1zM288.8 241.0h1v1h-1zM288.7 246.5h1v1h-1zM287.0 249.0h1v1h-1zM284.8 240.2h1v1h-1zM285.1 239.9h1v1h-1zM287.6 237.8h1v1h-1zM283.6 240.9h1v1h-1zM289.8 239.3h1v1h-1zM294.9 237.8h1v1h-1zM279.9 243.4h1v1h-1zM293.6 233.1h1v1h-1zM286.2 232.1h1v1h-1zM280.7 237.9h1v1h-1zM278.4 230.5h1v1h-1zM290.6 248.2h1v1h-1zM287.1 233.1h1v1h-1zM288.9 235.1h1v1h-1zM282.9 242.6h1v1h-1zM289.9 237.8h1v1h-1zM290.4 232.5h1v1h-1zM290.0 236.5h1v1h-1zM282.7 229.5h1v1h-1zM291.6 233.3h1v1h-1zM290.0 232.5h1v1h-1zM284.5 237.4h1v1h-1zM276.1 236.9h1v1h-1zM288.1 238.0h1v1h-1zM286.0 242.0h1v1h-1zM288.4 235.8h1v1h-1zM287.3 235.2h1v1h-1zM281.3 249.8h1v1h-1zM290.7 243.2h1v1h-1zM286.0 246.8h1v1h-1zM292.5 241.6h1v1h-1zM286.5 251.0h1v1h-1zM284.2 245.0h1v1h-1zM296.3 240.6h1v1h-1zM281.1 230.3h1v1h-1zM286.9 236.7h1v1h-1zM286.8 233.6h1v1h-1zM289.6 248.5h1v1h-1zM285.1 234.5h1v1h-1zM292.2 241.7h1v1h-1zM289.8 239.9h1v1h-1zM289.3 239.4h1v1h-1zM287.0 234.6h1v1h-1zM290.2 238.1h1v1h-1zM289.0 230.7h1v1h-1zM283.6 233.2h1v1h-1zM291.8 245.7h1v1h-1zM291.4 235.6h1v1h-1zM287.7 240.5h1v1h-1zM286.6 251.9h1v1h-1zM285.7 242.2h1v1h-1zM286.0 238.3h1v1h-1zM288.7 230.1h1v1h-1zM286.7 239.7h1v1h-1zM292.9 233.1h1v1h-1zM287.2 235.1h1v1h-1zM292.5 236.5h1v1h-1zM298.1 241.3h1v1h-1zM286.2 235.5h1v1h-1zM291.2 234.2h1v1h-1zM286.4 237.6h1v1h-1zM288.6 247.1h1v1h-1zM289.6 238.8h1v1h-1zM291.8 241.3h1v1h-1zM291.5 245.2h1v1h-1zM280.3 241.1h1v1h-1zM296.1 231.6h1v1h-1zM288.4 242.9h1v1h-1zM288.0 234.2h1v1h-1zM290.4 236.8h1v1h-1zM284.8 235.8h1v1h-1zM286.4 234.5h1v1h-1zM281.3 242.3h1v1h-1zM288.0 236.1h1v1h-1zM288.3 241.6h1v1h-1zM287.6 231.1h1v1h-1zM285.5 229.6h1v1h-1zM287.5 244.3h1v1h-1zM290.7 238.6h1v1h-1zM284.5 236.2h1v1h-1zM287.8 235.2h1v1h-1zM281.3 241.2h1v1h-1zM288.0 245.8h1v1h-1zM286.0 239.4h1v1h-1zM291.6 243.0h1v1h-1zM289.7 231.7h1v1h-1zM290.9 232.9h1v1h-1zM288.4 229.1h1v1h-1zM282.9 235.0h1v1h-1zM288.6 241.6h1v1h-1zM288.7 239.7h1v1h-1zM284.4 241.1h1v1h-1zM280.1 234.9h1v1h-1zM286.0 249.0h1v1h-1zM288.3 235.7h1v1h-1zM284.8 236.7h1v1h-1zM289.6 239.9h1v1h-1zM287.1 239.1h1v1h-1zM294.2 240.0h1v1h-1zM292.3 231.0h1v1h-1zM287.8 239.0h1v1h-1zM289.4 234.7h1v1h-1zM283.5 244.9h1v1h-1zM283.5 237.6h1v1h-1zM288.2 240.5h1v1h-1zM285.0 227.9h1v1h-1zM289.8 239.3h1v1h-1zM283.9 237.9h1v1h-1zM282.3 238.9h1v1h-1zM286.8 241.0h1v1h-1zM280.6 242.9h1v1h-1zM290.2 243.2h1v1h-1zM288.9 232.5h1v1h-1zM281.7 247.9h1v1h-1zM289.7 221.8h1v1h-1zM285.6 244.0h1v1h-1zM279.7 241.4h1v1h-1zM283.3 234.2h1v1h-1zM278.6 237.5h1v1h-1zM285.7 240.6h1v1h-1zM288.3 241.8h1v1h-1zM296.0 246.3h1v1h-1zM280.3 235.5h1v1h-1zM282.3 240.2h1v1h-1zM288.3 248.9h1v1h-1zM283.4 240.9h1v1h-1zM286.6 228.4h1v1h-1zM291.6 238.4h1v1h-1zM280.4 242.8h1v1h-1zM284.6 240.0h1v1h-1zM283.6 239.1h1v1h-1zM286.7 247.1h1v1h-1zM283.7 244.2h1v1h-1zM286.4 240.8h1v1h-1zM288.3 230.0h1v1h-1zM285.5 231.9h1v1h-1zM289.2 243.7h1v1h-1zM290.5 230.9h1v1h-1zM282.2 234.7h1v1h-1zM287.6 240.0h1v1h-1zM287.4 237.7h1v1h-1zM286.9 243.6h1v1h-1zM285.1 231.1h1v1h-1zM293.2 229.9h1v1h-1zM286.6 242.2h1v1h-1zM289.6 241.6h1v1h-1zM295.1 246.2h1v1h-1zM282.9 235.9h1v1h-1zM295.3 242.4h1v1h-1zM287.2 247.1h1v1h-1zM287.9 242.3h1v1h-1zM290.2 243.2h1v1h-1zM285.9 244.9h1v1h-1zM286.4 235.0h1v1h-1zM290.3 242.9h1v1h-1zM283.5 241.7h1v1h-1zM285.4 240.7h1v1h-1zM291.6 244.1h1v1h-1zM282.9 232.8h1v1h-1zM283.9 233.9h1v1h-1zM289.9 249.0h1v1h-1zM282.7 237.4h1v1h-1zM286.7 243.4h1v1h-1zM291.1 237.9h1v1h-1zM287.7 236.1h1v1h-1zM284.4 236.2h1v1h-1zM287.3 242.7h1v1h-1zM282.4 242.9h1v1h-1zM280.4 244.0h1v1h-1zM291.4 246.6h1v1h-1zM280.5 241.9h1v1h-1zM284.6 240.9h1v1h-1zM291.5 234.1h1v1h-1zM286.2 232.5h1v1h-1zM284.5 226.4h1v1h-1zM286.4 225.3h1v1h-1zM285.0 241.9h1v1h-1zM292.6 232.2h1v1h-1zM290.3 235.1h1v1h-1zM278.7 244.8h1v1h-1zM287.7 241.4h1v1h-1zM288.6 242.2h1v1h-1zM283.6 240.9h1v1h-1zM286.0 238.8h1v1h-1zM284.4 243.5h1v1h-1zM291.3 240.4h1v1h-1zM291.8 234.4h1v1h-1zM294.5 235.2h1v1h-1zM286.2 238.5h1v1h-1zM291.9 240.9h1v1h-1zM289.0 234.8h1v1h-1zM291.6 244.7h1v1h-1zM282.6 237.1h1v1h-1zM290.5 243.1h1v1h-1zM281.4 235.0h1v1h-1zM288.3 237.4h1v1h-1zM288.7 234.7h1v1h-1zM283.8 240.8h1v1h-1zM288.5 233.5h1v1h-1zM291.1 241.0h1v1h-1zM287.4 239.2h1v1h-1zM290.7 240.0h1v1h-1zM286.9 238.6h1v1h-1zM292.6 246.7h1v1h-1zM276.2 234.7h1v1h-1zM277.4 235.2h1v1h-1zM285.6 233.9h1v1h-1zM289.2 239.4h1v1h-1zM288.5 231.4h1v1h-1zM286.3 241.4h1v1h-1zM281.1 229.6h1v1h-1zM287.1 255.5h1v1h-1zM284.3 237.8h1v1h-1zM289.6 245.7h1v1h-1zM289.4 237.0h1v1h-1zM287.2 241.3h1v1h-1zM287.7 242.0h1v1h-1zM284.4 240.3h1v1h-1zM285.5 235.3h1v1h-1zM286.6 243.7h1v1h-1zM287.6 239.9h1v1h-1zM287.3 238.8h1v1h-1zM286.4 237.1h1v1h-1zM278.7 239.8h1v1h-1zM284.4 235.7h1v1h-1zM283.6 241.5h1v1h-1zM286.4 240.0h1v1h-1zM288.2 240.8h1v1h-1zM287.9 242.8h1v1h-1zM291.4 242.7h1v1h-1zM288.5 244.2h1v1h-1zM285.4 233.0h1v1h-1zM286.6 229.8h1v1h-1zM284.4 239.6h1v1h-1zM292.9 240.5h1v1h-1zM284.8 241.6h1v1h-1zM289.2 240.1h1v1h-1zM290.5 234.9h1v1h-1zM291.4 230.6h1v1h-1zM287.0 242.1h1v1h-1zM289.2 236.1h1v1h-1zM279.3 231.7h1v1h-1zM282.9 239.6h1v1h-1zM294.7 235.9h1v1h-1zM292.6 235.0h1v1h-1zM287.2 240.0h1v1h-1zM296.0 240.0h1v1h-1zM279.0 235.7h1v1h-1zM289.8 237.5h1v1h-1zM290.1 237.8h1v1h-1zM288.4 242.1h1v1h-1zM296.5 238.2h1v1h-1zM284.2 243.1h1v1h-1zM290.2 230.4h1v1h-1zM290.0 235.7h1v1h-1zM287.5 244.5h1v1h-1zM292.0 235.7h1v1h-1zM288.8 236.1h1v1h-1zM278.1 238.0h1v1h-1zM280.6 234.7h1v1h-1zM288.5 233.4h1v1h-1zM284.7 231.4h1v1h-1zM282.5 240.7h1v1h-1zM290.0 228.9h1v1h-1zM290.8 238.1h1v1h-1zM284.7 232.8h1v1h-1zM288.8 235.5h1v1h-1zM284.0 239.3h1v1h-1zM289.1 231.1h1v1h-1zM288.9 238.6h1v1h-1zM290.4 243.7h1v1h-1zM287.6 234.0h1v1h-1zM291.7 241.7h1v1h-1zM283.8 235.0h1v1h-1zM286.5 243.1h1v1h-1zM287.8 247.6h1v1h-1zM282.3 243.9h1v1h-1zM284.2 237.4h1v1h-1zM285.9 245.8h1v1h-1zM292.8 230.0h1v1h-1zM288.8 241.7h1v1h-1zM289.1 240.4h1v1h-1zM282.2 243.7h1v1h-1zM291.6 235.1h1v1h-1zM289.4 242.3h1v1h-1zM289.0 241.7h1v1h-1zM282.8 235.8h1v1h-1zM288.5 242.0h1v1h-1zM291.5 234.2h1v1h-1zM284.2 235.9h1v1h-1zM284.9 246.6h1v1h-1zM292.8 239.2h1v1h-1zM292.5 236.6h1v1h-1zM288.0 238.9h1v1h-1zM287.6 235.4h1v1h-1zM281.9 241.9h1v1h-1zM285.5 234.8h1v1h-1zM283.3 228.4h1v1h-1zM283.1 239.5h1v1h-1zM284.3 226.7h1v1h-1zM284.3 228.5h1v1h-1zM289.1 229.5h1v1h-1zM262.5 219.9h1v1h-1zM260.5 201.0h1v1h-1zM267.1 229.2h1v1h-1zM264.7 207.5h1v1h-1zM296.3 230.4h1v1h-1zM287.9 209.0h1v1h-1zM291.2 199.2h1v1h-1zM250.5 199.1h1v1h-1zM266.7 205.2h1v1h-1zM293.0 212.2h1v1h-1zM292.6 213.6h1v1h-1zM268.6 208.5h1v1h-1zM252.4 212.5h1v1h-1zM297.6 230.0h1v1h-1zM296.6 200.3h1v1h-1zM272.1 225.4h1v1h-1zM257.7 199.2h1v1h-1zM260.3 199.9h1v1h-1zM287.0 221.2h1v1h-1zM299.4 198.7h1v1h-1zM285.1 224.0h1v1h-1zM258.9 199.7h1v1h-1zM299.0 223.9h1v1h-1zM253.5 203.4h1v1h-1zM282.9 202.8h1v1h-1zM271.8 202.1h1v1h-1zM254.6 213.5h1v1h-1zM277.1 225.8h1v1h-1zM250.2 209.1h1v1h-1zM253.6 215.8h1v1h-1zM258.3 208.3h1v1h-1zM298.5 219.1h1v1h-1zM283.4 217.6h1v1h-1zM260.1 220.3h1v1h-1zM298.5 200.0h1v1h-1zM291.9 208.7h1v1h-1zM260.1 219.3h1v1h-1zM292.5 202.7h1v1h-1zM259.9 214.0h1v1h-1zM260.2 214.2h1v1h-1zM299.5 197.9h1v1h-1zM271.4 203.9h1v1h-1zM258.3 217.0h1v1h-1zM297.4 213.0h1v1h-1zM277.9 220.8h1v1h-1zM293.0 229.9h1v1h-1zM266.7 203.0h1v1h-1zM295.8 217.6h1v1h-1zM294.1 202.0h1v1h-1zM289.5 201.0h1v1h-1zM256.6 201.1h1v1h-1zM268.1 211.1h1v1h-1zM282.9 228.9h1v1h-1zM271.5 216.7h1v1h-1zM270.5 210.0h1v1h-1zM263.2 197.2h1v1h-1zM262.8 221.6h1v1h-1zM289.9 220.3h1v1h-1zM272.0 211.0h1v1h-1zM259.5 205.2h1v1h-1zM299.9 217.0h1v1h-1zM270.2 215.2h1v1h-1zM274.6 207.0h1v1h-1zM270.9 211.6h1v1h-1zM294.9 227.3h1v1h-1zM264.4 212.5h1v1h-1zM261.1 229.4h1v1h-1zM290.6 219.4h1v1h-1zM292.3 212.7h1v1h-1zM286.2 212.4h1v1h-1zM290.3 220.2h1v1h-1zM283.0 213.2h1v1h-1zM291.0 214.5h1v1h-1zM285.7 215.3h1v1h-1zM284.3 208.5h1v1h-1zM279.6 209.4h1v1h-1zM292.6 212.9h1v1h-1zM280.4 198.3h1v1h-1zM283.6 196.9h1v1h-1zM285.2 206.8h1v1h-1zM290.1 198.8h1v1h-1zM276.1 213.6h1v1h-1zM297.0 217.6h1v1h-1zM283.3 220.3h1v1h-1zM287.8 207.1h1v1h-1zM286.2 212.0h1v1h-1zM298.7 216.8h1v1h-1zM288.0 220.8h1v1h-1zM295.1 225.5h1v1h-1zM277.6 211.3h1v1h-1zM286.3 221.4h1v1h-1zM287.1 223.3h1v1h-1zM285.3 201.3h1v1h-1zM283.4 208.3h1v1h-1zM287.9 211.5h1v1h-1zM290.6 222.9h1v1h-1zM296.2 209.2h1v1h-1zM287.3 232.4h1v1h-1zM281.0 215.0h1v1h-1zM283.0 202.6h1v1h-1zM294.5 199.5h1v1h-1zM282.9 228.4h1v1h-1zM284.1 223.8h1v1h-1zM290.7 222.1h1v1h-1zM282.2 238.1h1v1h-1zM284.6 204.8h1v1h-1zM289.3 211.0h1v1h-1zM286.9 199.7h1v1h-1zM292.3 213.0h1v1h-1zM301.9 235.6h1v1h-1zM292.5 219.1h1v1h-1zM284.6 210.8h1v1h-1zM292.7 207.5h1v1h-1zM284.2 207.5h1v1h-1zM289.4 218.2h1v1h-1zM290.1 213.2h1v1h-1zM282.2 212.2h1v1h-1zM287.2 207.3h1v1h-1zM288.6 222.0h1v1h-1zM285.4 205.2h1v1h-1zM287.7 216.2h1v1h-1zM283.9 218.3h1v1h-1zM288.0 206.0h1v1h-1zM282.7 223.8h1v1h-1zM287.4 214.3h1v1h-1zM297.5 208.7h1v1h-1zM285.4 218.3h1v1h-1zM283.8 213.5h1v1h-1zM289.3 194.8h1v1h-1zM285.9 203.7h1v1h-1zM293.0 195.1h1v1h-1zM289.9 223.6h1v1h-1zM293.6 234.0h1v1h-1zM288.4 203.6h1v1h-1zM286.8 204.9h1v1h-1zM292.3 216.0h1v1h-1zM291.7 216.3h1v1h-1zM290.8 203.1h1v1h-1zM286.7 217.8h1v1h-1zM281.7 208.4h1v1h-1zM289.4 209.0h1v1h-1zM281.9 214.0h1v1h-1zM284.8 215.8h1v1h-1zM282.5 219.1h1v1h-1zM288.5 219.0h1v1h-1zM275.8 208.6h1v1h-1zM282.6 212.9h1v1h-1zM292.7 214.2h1v1h-1zM285.7 215.5h1v1h-1zM280.4 213.9h1v1h-1zM282.3 223.1h1v1h-1zM285.8 209.7h1v1h-1zM292.6 215.2h1v1h-1zM282.2 205.3h1v1h-1zM287.6 219.7h1v1h-1zM286.0 203.6h1v1h-1zM283.6 210.9h1v1h-1zM283.2 205.0h1v1h-1zM295.0 212.3h1v1h-1zM291.6 188.3h1v1h-1zM294.0 207.3h1v1h-1zM283.3 213.4h1v1h-1zM285.6 203.5h1v1h-1zM285.9 215.8h1v1h-1zM281.0 203.8h1v1h-1zM287.3 207.1h1v1h-1zM288.9 223.6h1v1h-1zM293.9 224.9h1v1h-1zM293.1 206.7h1v1h-1zM286.6 222.9h1v1h-1zM287.4 204.2h1v1h-1zM283.2 202.7h1v1h-1zM294.0 204.0h1v1h-1zM284.1 202.7h1v1h-1zM292.0 204.6h1v1h-1zM285.5 205.2h1v1h-1zM291.8 218.8h1v1h-1zM289.2 234.1h1v1h-1zM288.8 229.8h1v1h-1zM285.4 216.8h1v1h-1zM283.3 208.5h1v1h-1zM293.7 211.5h1v1h-1zM290.3 216.3h1v1h-1zM291.3 218.4h1v1h-1zM282.9 210.7h1v1h-1zM284.6 203.8h1v1h-1zM290.1 200.4h1v1h-1zM286.5 228.0h1v1h-1zM290.5 213.2h1v1h-1zM298.6 215.7h1v1h-1zM278.0 208.4h1v1h-1zM289.1 211.8h1v1h-1zM287.8 211.0h1v1h-1zM284.4 197.6h1v1h-1zM279.4 223.8h1v1h-1zM287.6 202.1h1v1h-1zM286.5 216.9h1v1h-1zM292.3 216.9h1v1h-1zM283.9 211.1h1v1h-1zM285.1 211.3h1v1h-1zM284.7 224.0h1v1h-1zM290.4 220.4h1v1h-1zM293.6 225.1h1v1h-1zM289.7 231.1h1v1h-1zM297.8 201.2h1v1h-1zM285.5 224.6h1v1h-1zM298.6 221.7h1v1h-1zM286.5 209.8h1v1h-1zM288.5 215.1h1v1h-1zM280.5 228.3h1v1h-1zM288.0 204.7h1v1h-1zM287.3 210.8h1v1h-1zM282.4 209.7h1v1h-1zM296.6 220.7h1v1h-1zM278.3 188.6h1v1h-1zM282.7 202.9h1v1h-1zM290.8 218.9h1v1h-1zM291.9 205.4h1v1h-1zM283.6 204.8h1v1h-1zM286.5 213.0h1v1h-1zM287.6 217.4h1v1h-1zM288.3 213.5h1v1h-1zM287.6 184.1h1v1h-1zM284.1 196.8h1v1h-1zM289.3 228.0h1v1h-1zM280.1 223.4h1v1h-1zM287.3 219.1h1v1h-1zM283.6 211.0h1v1h-1zM286.6 225.7h1v1h-1zM290.4 188.5h1v1h-1zM284.5 205.5h1v1h-1zM280.7 214.2h1v1h-1zM278.0 201.6h1v1h-1zM275.8 203.1h1v1h-1zM281.8 213.3h1v1h-1zM291.2 213.4h1v1h-1zM286.3 212.1h1v1h-1z" fill="#303030" opacity="0.58" filter="url(#soft)"/>
</g>
<rect x="220.5" y="171.3" width="92.0" height="93.0" fill="none" stroke="#222" stroke-width="1"/>
<line x1="248.8" y1="171.3" x2="248.8" y2="264.3" stroke="#222" stroke-width="1"/>
<line x1="220.5" y1="231.3" x2="312.5" y2="231.3" stroke="#222" stroke-width="1"/>
<text x="234.25" y="182.1" font-size="9.4" font-weight="bold" text-anchor="middle" textLength="16.2" lengthAdjust="spacingAndGlyphs">IL-3</text>
<text x="279.2" y="181.7" font-size="9.7" text-anchor="end" >9.6%</text>
<text x="309.7" y="181.7" font-size="9.7" text-anchor="end" >7.0%</text>
<text x="279.2" y="192" font-size="9.7" text-anchor="end" >59.7%</text>
<text x="309.7" y="192" font-size="9.7" text-anchor="end" >23.7%</text>
<line x1="252.2" y1="183" x2="310.2" y2="183" stroke="#000" stroke-width="0.9"/>
<line x1="281.8" y1="175" x2="281.8" y2="192.5" stroke="#000" stroke-width="0.9"/>
<clipPath id="cp3"><rect x="317.5" y="171.3" width="92.60000000000002" height="93.0"/></clipPath>
<g clip-path="url(#cp3)">
<ellipse cx="333" cy="246.5" rx="6.6" ry="11.5" transform="rotate(38 333 246.5)" fill="#707070" filter="url(#coreblur)"/>
<path d="M321.9 258.3h1v1h-1zM332.0 239.0h1v1h-1zM333.1 237.0h1v1h-1zM345.1 246.8h1v1h-1zM333.3 238.0h1v1h-1zM329.5 237.6h1v1h-1zM331.6 237.9h1v1h-1zM334.9 238.4h1v1h-1zM324.9 253.4h1v1h-1zM334.9 237.4h1v1h-1zM334.6 235.9h1v1h-1zM325.2 249.3h1v1h-1zM334.8 230.5h1v1h-1zM335.7 235.8h1v1h-1zM321.6 251.7h1v1h-1zM331.4 260.1h1v1h-1zM328.2 242.9h1v1h-1zM336.9 237.2h1v1h-1zM335.5 253.3h1v1h-1zM338.1 249.8h1v1h-1zM327.4 251.0h1v1h-1zM330.3 264.7h1v1h-1zM333.2 263.6h1v1h-1zM341.1 242.9h1v1h-1zM342.6 238.4h1v1h-1zM340.5 246.5h1v1h-1zM328.2 242.1h1v1h-1zM330.1 256.8h1v1h-1zM327.0 257.4h1v1h-1zM328.2 260.5h1v1h-1zM322.5 248.3h1v1h-1zM346.1 228.3h1v1h-1zM323.2 247.8h1v1h-1zM329.5 244.9h1v1h-1zM324.2 257.2h1v1h-1zM340.1 248.3h1v1h-1zM326.2 259.4h1v1h-1zM334.8 253.8h1v1h-1zM334.2 257.9h1v1h-1zM334.4 244.2h1v1h-1zM319.9 257.1h1v1h-1zM342.9 244.5h1v1h-1zM327.6 240.7h1v1h-1zM322.2 244.3h1v1h-1zM340.2 250.5h1v1h-1zM326.0 240.6h1v1h-1zM343.0 231.4h1v1h-1zM335.5 251.9h1v1h-1zM320.3 254.1h1v1h-1zM340.6 244.9h1v1h-1zM341.8 236.7h1v1h-1zM329.3 241.7h1v1h-1zM342.6 248.2h1v1h-1zM328.4 229.5h1v1h-1zM330.4 257.9h1v1h-1zM332.1 254.9h1v1h-1zM337.0 244.5h1v1h-1zM351.3 242.5h1v1h-1zM343.7 247.4h1v1h-1zM339.3 247.4h1v1h-1zM325.3 245.9h1v1h-1zM337.5 236.0h1v1h-1zM342.8 227.6h1v1h-1zM340.1 236.0h1v1h-1zM332.2 256.4h1v1h-1zM340.3 253.6h1v1h-1zM336.4 256.3h1v1h-1zM342.0 229.7h1v1h-1zM337.2 238.7h1v1h-1zM337.2 237.3h1v1h-1zM323.4 258.3h1v1h-1zM333.1 255.9h1v1h-1zM328.6 259.8h1v1h-1zM328.9 261.7h1v1h-1zM329.6 262.0h1v1h-1zM336.3 253.4h1v1h-1zM329.0 240.0h1v1h-1zM338.6 249.8h1v1h-1zM339.7 250.9h1v1h-1zM341.2 243.4h1v1h-1zM342.2 251.8h1v1h-1zM340.8 235.9h1v1h-1zM328.7 259.3h1v1h-1zM326.1 257.6h1v1h-1zM341.2 236.9h1v1h-1zM317.9 251.8h1v1h-1zM328.6 245.5h1v1h-1zM341.6 233.6h1v1h-1zM330.0 239.9h1v1h-1zM329.8 259.5h1v1h-1zM343.6 238.0h1v1h-1zM341.9 234.5h1v1h-1zM333.7 230.6h1v1h-1zM321.9 249.4h1v1h-1zM323.2 252.7h1v1h-1zM325.4 238.7h1v1h-1zM335.9 232.4h1v1h-1zM336.7 223.7h1v1h-1zM327.4 257.8h1v1h-1zM324.3 253.7h1v1h-1zM325.8 255.0h1v1h-1zM337.6 256.8h1v1h-1zM347.1 246.3h1v1h-1zM340.0 250.9h1v1h-1zM331.0 239.2h1v1h-1zM326.0 235.2h1v1h-1zM322.2 246.2h1v1h-1zM341.3 245.8h1v1h-1zM342.3 239.4h1v1h-1zM344.7 246.5h1v1h-1zM334.9 237.6h1v1h-1zM323.4 245.6h1v1h-1zM330.6 244.0h1v1h-1zM336.1 236.0h1v1h-1zM340.0 238.2h1v1h-1zM334.2 232.9h1v1h-1zM342.9 248.1h1v1h-1zM341.3 240.3h1v1h-1zM327.2 242.8h1v1h-1zM326.9 258.5h1v1h-1zM327.0 266.7h1v1h-1zM329.1 258.7h1v1h-1zM331.0 233.8h1v1h-1zM341.5 236.7h1v1h-1zM339.4 257.3h1v1h-1zM328.8 240.7h1v1h-1zM332.4 243.9h1v1h-1zM339.8 234.6h1v1h-1zM340.0 248.7h1v1h-1zM329.0 255.7h1v1h-1zM331.1 248.5h1v1h-1zM331.2 256.4h1v1h-1zM334.9 246.7h1v1h-1zM338.6 252.4h1v1h-1zM327.2 258.9h1v1h-1zM333.3 255.0h1v1h-1zM331.1 256.1h1v1h-1zM325.1 244.3h1v1h-1zM338.2 250.0h1v1h-1zM332.6 255.8h1v1h-1zM336.8 236.6h1v1h-1zM321.3 249.3h1v1h-1zM335.4 252.8h1v1h-1zM327.2 235.3h1v1h-1zM337.1 241.8h1v1h-1zM324.5 248.5h1v1h-1zM340.9 254.3h1v1h-1zM342.4 247.5h1v1h-1zM337.5 233.2h1v1h-1zM330.4 251.0h1v1h-1zM324.8 246.8h1v1h-1zM341.4 243.9h1v1h-1zM324.4 255.5h1v1h-1zM338.0 250.7h1v1h-1zM331.6 239.5h1v1h-1zM325.7 247.1h1v1h-1zM321.8 250.3h1v1h-1zM327.7 235.7h1v1h-1zM333.4 236.5h1v1h-1zM321.9 245.8h1v1h-1zM325.5 258.0h1v1h-1zM334.3 249.3h1v1h-1zM334.0 235.8h1v1h-1zM325.6 243.4h1v1h-1zM325.0 246.3h1v1h-1zM339.3 248.8h1v1h-1zM324.1 251.0h1v1h-1zM321.8 246.7h1v1h-1zM321.5 251.6h1v1h-1zM318.8 252.0h1v1h-1zM323.9 240.7h1v1h-1zM338.9 254.8h1v1h-1zM340.3 244.2h1v1h-1zM319.5 241.4h1v1h-1zM327.6 247.5h1v1h-1zM330.6 261.4h1v1h-1zM341.3 233.3h1v1h-1zM336.1 231.9h1v1h-1zM327.9 243.7h1v1h-1zM326.6 256.2h1v1h-1zM335.1 247.4h1v1h-1zM335.5 237.7h1v1h-1zM323.8 253.4h1v1h-1zM333.7 234.8h1v1h-1zM341.1 251.8h1v1h-1zM332.8 237.9h1v1h-1zM326.2 255.7h1v1h-1zM342.7 242.6h1v1h-1zM337.7 228.3h1v1h-1zM342.1 240.1h1v1h-1zM337.9 249.9h1v1h-1zM315.2 249.9h1v1h-1zM326.3 244.4h1v1h-1zM332.0 233.8h1v1h-1zM321.7 243.1h1v1h-1zM335.1 250.1h1v1h-1zM349.9 236.8h1v1h-1zM330.7 258.5h1v1h-1zM330.7 254.7h1v1h-1zM325.1 254.4h1v1h-1zM342.4 240.4h1v1h-1zM322.9 259.9h1v1h-1zM338.9 237.0h1v1h-1zM326.1 263.0h1v1h-1zM336.5 253.0h1v1h-1zM325.9 260.8h1v1h-1zM343.4 245.5h1v1h-1zM342.6 236.1h1v1h-1zM341.0 250.5h1v1h-1zM324.6 244.1h1v1h-1zM331.6 237.7h1v1h-1zM325.0 255.6h1v1h-1zM341.5 245.4h1v1h-1zM340.3 237.3h1v1h-1zM331.1 236.1h1v1h-1zM323.8 246.4h1v1h-1zM332.4 243.2h1v1h-1zM337.7 246.5h1v1h-1zM338.0 252.4h1v1h-1zM321.2 249.8h1v1h-1zM336.0 235.4h1v1h-1zM328.9 248.7h1v1h-1zM335.2 236.9h1v1h-1zM323.2 254.6h1v1h-1zM331.3 226.5h1v1h-1zM332.5 227.4h1v1h-1zM331.5 251.4h1v1h-1zM325.6 240.1h1v1h-1zM334.6 244.4h1v1h-1zM340.6 237.5h1v1h-1zM336.4 244.5h1v1h-1zM328.7 251.3h1v1h-1zM347.2 233.7h1v1h-1zM344.7 245.2h1v1h-1zM334.6 249.8h1v1h-1zM332.4 249.4h1v1h-1zM325.6 239.1h1v1h-1zM338.8 252.1h1v1h-1zM344.2 243.3h1v1h-1zM333.9 262.1h1v1h-1zM331.1 237.8h1v1h-1zM335.6 226.7h1v1h-1zM340.0 221.5h1v1h-1zM339.0 212.4h1v1h-1zM336.8 210.9h1v1h-1zM337.2 212.6h1v1h-1zM343.1 225.2h1v1h-1zM337.9 224.4h1v1h-1zM333.4 221.1h1v1h-1zM342.8 211.2h1v1h-1zM334.0 222.4h1v1h-1zM336.3 216.5h1v1h-1zM336.4 229.4h1v1h-1zM343.0 215.0h1v1h-1zM340.6 239.3h1v1h-1zM338.8 213.6h1v1h-1zM337.3 220.5h1v1h-1zM338.2 213.4h1v1h-1zM340.9 207.7h1v1h-1zM338.8 208.8h1v1h-1zM338.0 221.2h1v1h-1zM337.5 218.3h1v1h-1zM331.2 217.3h1v1h-1zM340.7 225.6h1v1h-1zM335.8 217.8h1v1h-1zM339.6 229.5h1v1h-1zM339.1 223.1h1v1h-1zM339.7 237.5h1v1h-1zM339.6 216.7h1v1h-1zM334.3 215.4h1v1h-1zM341.0 220.2h1v1h-1zM337.5 217.7h1v1h-1zM341.2 217.3h1v1h-1zM332.4 235.0h1v1h-1zM339.4 222.3h1v1h-1zM334.6 220.2h1v1h-1zM335.8 228.6h1v1h-1zM341.9 216.4h1v1h-1zM341.7 221.1h1v1h-1zM340.6 212.2h1v1h-1zM340.8 221.3h1v1h-1zM338.5 226.4h1v1h-1zM335.5 229.8h1v1h-1zM337.8 216.6h1v1h-1zM342.5 230.8h1v1h-1zM343.0 209.1h1v1h-1zM340.7 230.0h1v1h-1zM343.3 224.5h1v1h-1zM339.4 234.1h1v1h-1zM340.5 211.5h1v1h-1zM336.5 200.0h1v1h-1zM342.5 211.8h1v1h-1zM335.2 214.0h1v1h-1zM337.1 215.0h1v1h-1zM336.4 219.9h1v1h-1zM343.0 225.5h1v1h-1zM365.6 261.0h1v1h-1zM357.6 246.1h1v1h-1zM357.7 249.0h1v1h-1zM381.8 251.4h1v1h-1zM384.4 238.0h1v1h-1zM354.6 251.3h1v1h-1zM376.9 244.3h1v1h-1zM361.8 245.1h1v1h-1zM377.3 240.6h1v1h-1zM363.7 240.9h1v1h-1zM382.1 240.1h1v1h-1zM367.5 251.8h1v1h-1zM365.7 244.7h1v1h-1zM387.7 228.6h1v1h-1zM362.5 243.9h1v1h-1zM365.3 238.5h1v1h-1zM353.2 249.8h1v1h-1zM371.2 240.7h1v1h-1zM379.9 242.7h1v1h-1zM378.0 241.0h1v1h-1zM371.1 239.4h1v1h-1zM350.6 241.5h1v1h-1zM377.6 237.8h1v1h-1zM379.9 229.2h1v1h-1zM370.0 242.6h1v1h-1zM352.4 246.4h1v1h-1zM365.9 252.4h1v1h-1zM351.6 247.8h1v1h-1zM374.6 239.7h1v1h-1zM360.9 255.4h1v1h-1zM357.7 246.7h1v1h-1zM352.3 245.3h1v1h-1zM384.0 241.2h1v1h-1zM377.2 238.6h1v1h-1zM374.2 258.2h1v1h-1zM359.8 247.9h1v1h-1zM368.3 240.8h1v1h-1zM363.0 249.5h1v1h-1zM353.3 246.6h1v1h-1zM349.9 248.0h1v1h-1zM367.0 254.6h1v1h-1zM362.5 243.1h1v1h-1zM371.4 254.0h1v1h-1zM363.2 256.8h1v1h-1zM359.9 241.2h1v1h-1zM351.5 247.9h1v1h-1zM359.4 248.2h1v1h-1zM367.2 236.6h1v1h-1zM361.2 254.0h1v1h-1zM355.5 240.3h1v1h-1zM357.2 231.7h1v1h-1zM368.3 244.0h1v1h-1zM347.3 253.3h1v1h-1zM380.0 237.1h1v1h-1zM354.2 250.5h1v1h-1zM349.9 249.5h1v1h-1zM353.6 254.9h1v1h-1zM359.5 249.0h1v1h-1zM377.4 252.7h1v1h-1zM384.3 235.7h1v1h-1zM369.1 241.3h1v1h-1zM372.3 247.3h1v1h-1zM362.6 253.4h1v1h-1zM379.6 241.7h1v1h-1zM348.0 250.5h1v1h-1zM384.7 244.7h1v1h-1zM358.4 247.8h1v1h-1zM360.2 258.5h1v1h-1zM363.4 242.4h1v1h-1zM352.3 251.0h1v1h-1zM352.0 248.6h1v1h-1zM357.1 256.3h1v1h-1zM363.1 246.9h1v1h-1zM354.0 250.2h1v1h-1zM378.8 237.7h1v1h-1zM359.7 261.1h1v1h-1zM363.9 243.6h1v1h-1zM350.0 261.2h1v1h-1zM367.4 237.3h1v1h-1zM377.7 242.4h1v1h-1zM383.7 242.7h1v1h-1zM352.3 244.8h1v1h-1zM353.1 254.4h1v1h-1zM371.0 247.1h1v1h-1zM372.0 234.1h1v1h-1zM365.6 257.5h1v1h-1zM349.9 255.8h1v1h-1zM370.7 241.7h1v1h-1zM366.0 240.5h1v1h-1zM350.7 245.6h1v1h-1zM365.1 255.3h1v1h-1zM372.8 236.6h1v1h-1zM351.8 252.1h1v1h-1zM351.9 250.6h1v1h-1zM365.6 249.4h1v1h-1zM388.0 239.2h1v1h-1zM386.0 243.1h1v1h-1zM387.8 235.6h1v1h-1zM374.5 237.2h1v1h-1zM346.5 259.6h1v1h-1zM384.2 240.5h1v1h-1zM362.6 245.8h1v1h-1zM384.0 238.8h1v1h-1zM347.9 255.5h1v1h-1zM379.3 235.9h1v1h-1zM384.9 242.4h1v1h-1zM362.0 247.9h1v1h-1zM383.9 234.5h1v1h-1zM356.5 255.4h1v1h-1zM374.1 228.3h1v1h-1zM351.7 257.2h1v1h-1zM382.8 241.0h1v1h-1zM378.9 241.8h1v1h-1zM375.3 227.0h1v1h-1zM360.2 246.0h1v1h-1zM380.7 234.1h1v1h-1zM382.4 242.3h1v1h-1zM367.4 241.5h1v1h-1zM379.6 243.9h1v1h-1zM365.7 238.0h1v1h-1zM380.6 234.8h1v1h-1zM366.0 252.8h1v1h-1zM360.3 252.2h1v1h-1zM358.6 239.1h1v1h-1zM354.8 255.3h1v1h-1zM386.1 251.7h1v1h-1zM351.6 251.1h1v1h-1zM387.5 240.3h1v1h-1zM384.9 232.4h1v1h-1zM354.4 266.0h1v1h-1zM382.0 245.0h1v1h-1zM371.6 247.4h1v1h-1zM383.5 245.0h1v1h-1zM360.8 248.7h1v1h-1zM377.1 240.5h1v1h-1zM379.6 240.5h1v1h-1zM356.4 235.5h1v1h-1zM369.5 242.7h1v1h-1zM359.3 237.7h1v1h-1zM355.2 245.9h1v1h-1zM375.8 244.7h1v1h-1zM377.2 236.1h1v1h-1zM375.7 249.0h1v1h-1zM354.5 255.2h1v1h-1zM350.9 256.7h1v1h-1zM357.5 246.8h1v1h-1zM380.9 243.1h1v1h-1zM353.3 243.1h1v1h-1zM378.1 238.4h1v1h-1zM356.0 253.3h1v1h-1zM379.3 244.4h1v1h-1zM351.6 259.4h1v1h-1zM374.6 241.0h1v1h-1zM358.0 250.4h1v1h-1zM350.1 251.5h1v1h-1zM365.8 248.1h1v1h-1zM367.7 247.0h1v1h-1zM377.8 241.0h1v1h-1zM356.2 254.6h1v1h-1zM364.7 249.5h1v1h-1zM352.0 238.7h1v1h-1zM384.5 244.1h1v1h-1zM356.1 249.4h1v1h-1zM361.5 239.7h1v1h-1zM355.3 249.7h1v1h-1zM352.4 254.2h1v1h-1zM367.9 245.1h1v1h-1zM355.0 245.1h1v1h-1zM366.1 254.4h1v1h-1zM354.6 250.3h1v1h-1zM366.1 244.5h1v1h-1zM366.4 238.7h1v1h-1zM371.3 247.7h1v1h-1zM374.4 238.2h1v1h-1zM366.5 253.2h1v1h-1zM347.2 251.6h1v1h-1zM386.6 240.5h1v1h-1zM363.7 235.1h1v1h-1zM353.4 256.2h1v1h-1zM380.4 241.9h1v1h-1zM374.9 243.8h1v1h-1zM350.9 242.8h1v1h-1zM368.0 234.9h1v1h-1zM361.4 257.1h1v1h-1zM351.2 243.4h1v1h-1zM368.8 259.4h1v1h-1zM359.6 249.8h1v1h-1zM383.0 237.9h1v1h-1zM353.7 251.5h1v1h-1zM368.8 236.9h1v1h-1zM368.9 244.3h1v1h-1zM360.2 256.4h1v1h-1zM367.4 250.6h1v1h-1zM387.2 233.1h1v1h-1zM379.9 240.5h1v1h-1zM375.7 249.9h1v1h-1zM367.0 252.0h1v1h-1zM354.5 246.9h1v1h-1zM367.2 248.4h1v1h-1zM351.9 249.5h1v1h-1zM378.3 254.4h1v1h-1zM362.2 255.0h1v1h-1zM358.2 241.6h1v1h-1zM357.5 245.7h1v1h-1zM359.3 250.7h1v1h-1zM357.4 254.8h1v1h-1zM363.9 241.2h1v1h-1zM373.3 238.0h1v1h-1zM382.1 243.6h1v1h-1zM351.1 244.1h1v1h-1zM365.0 239.4h1v1h-1zM385.4 236.0h1v1h-1zM355.6 256.4h1v1h-1zM366.0 246.5h1v1h-1zM364.4 243.6h1v1h-1zM381.8 232.6h1v1h-1zM375.3 241.8h1v1h-1zM385.5 230.2h1v1h-1zM348.8 242.7h1v1h-1zM352.5 256.7h1v1h-1zM358.6 250.8h1v1h-1zM368.5 246.5h1v1h-1zM364.1 250.9h1v1h-1zM358.4 241.6h1v1h-1zM364.3 237.9h1v1h-1zM379.3 230.9h1v1h-1zM348.5 254.4h1v1h-1zM382.1 251.6h1v1h-1zM362.7 255.4h1v1h-1zM354.2 254.9h1v1h-1zM370.5 242.1h1v1h-1zM381.0 239.3h1v1h-1zM363.2 246.2h1v1h-1zM378.3 237.8h1v1h-1zM378.9 229.2h1v1h-1zM364.7 233.2h1v1h-1zM367.5 240.6h1v1h-1zM355.4 242.9h1v1h-1zM384.6 236.0h1v1h-1zM353.7 247.2h1v1h-1zM352.1 247.8h1v1h-1zM372.9 247.1h1v1h-1zM372.8 254.6h1v1h-1zM367.4 242.4h1v1h-1zM360.1 237.8h1v1h-1zM375.2 240.9h1v1h-1zM382.4 241.1h1v1h-1zM359.1 247.8h1v1h-1zM365.6 250.4h1v1h-1zM363.5 254.8h1v1h-1zM350.2 265.6h1v1h-1zM365.0 244.5h1v1h-1zM366.7 243.7h1v1h-1zM384.4 243.8h1v1h-1zM366.1 254.7h1v1h-1zM386.1 239.8h1v1h-1zM375.9 241.2h1v1h-1zM377.0 247.5h1v1h-1zM357.5 240.3h1v1h-1zM363.9 238.6h1v1h-1zM373.7 253.2h1v1h-1zM374.5 242.8h1v1h-1zM363.9 241.5h1v1h-1zM378.4 238.4h1v1h-1zM376.1 246.4h1v1h-1zM362.1 238.0h1v1h-1zM361.8 235.9h1v1h-1zM356.9 243.1h1v1h-1zM373.5 239.9h1v1h-1zM366.2 244.4h1v1h-1zM361.7 244.7h1v1h-1zM368.1 242.3h1v1h-1zM376.0 244.3h1v1h-1zM367.2 250.6h1v1h-1zM353.8 250.9h1v1h-1zM387.3 243.8h1v1h-1zM371.2 240.7h1v1h-1zM380.6 241.8h1v1h-1zM363.8 241.8h1v1h-1zM375.4 251.9h1v1h-1zM384.6 237.1h1v1h-1zM362.9 244.9h1v1h-1zM354.6 247.6h1v1h-1zM350.1 260.9h1v1h-1zM365.1 244.6h1v1h-1zM374.9 238.8h1v1h-1zM374.2 243.5h1v1h-1zM385.6 239.8h1v1h-1zM348.9 249.5h1v1h-1zM376.7 242.7h1v1h-1zM380.9 252.5h1v1h-1zM361.5 244.1h1v1h-1zM376.6 246.9h1v1h-1zM356.6 251.5h1v1h-1zM357.8 258.3h1v1h-1zM356.0 265.0h1v1h-1zM375.6 249.2h1v1h-1zM374.6 231.9h1v1h-1zM369.0 245.3h1v1h-1zM349.7 252.7h1v1h-1zM381.0 241.3h1v1h-1zM349.4 262.8h1v1h-1zM380.4 243.2h1v1h-1zM355.3 255.3h1v1h-1zM357.3 253.1h1v1h-1zM359.8 242.7h1v1h-1zM376.4 243.2h1v1h-1zM369.9 247.9h1v1h-1zM365.9 243.4h1v1h-1zM377.8 244.0h1v1h-1zM377.0 234.6h1v1h-1zM350.2 251.2h1v1h-1zM374.6 243.7h1v1h-1zM384.9 236.4h1v1h-1zM374.4 247.2h1v1h-1zM352.9 252.3h1v1h-1zM370.0 247.0h1v1h-1zM377.8 248.5h1v1h-1zM379.9 231.9h1v1h-1zM384.4 242.5h1v1h-1zM387.9 235.7h1v1h-1zM385.0 241.1h1v1h-1zM384.0 246.8h1v1h-1zM356.8 245.4h1v1h-1zM365.8 241.4h1v1h-1zM384.0 241.9h1v1h-1zM380.2 239.5h1v1h-1zM378.0 242.8h1v1h-1zM378.4 230.3h1v1h-1zM367.6 245.2h1v1h-1zM371.6 246.2h1v1h-1zM353.2 248.8h1v1h-1zM375.9 264.6h1v1h-1zM363.6 244.1h1v1h-1zM360.3 247.1h1v1h-1zM349.2 258.0h1v1h-1zM374.3 249.0h1v1h-1zM378.2 223.7h1v1h-1zM348.9 238.7h1v1h-1zM354.1 251.9h1v1h-1zM381.3 240.9h1v1h-1zM355.8 241.9h1v1h-1zM361.3 249.9h1v1h-1zM371.7 245.4h1v1h-1zM360.2 250.6h1v1h-1zM371.7 247.2h1v1h-1zM364.4 246.2h1v1h-1zM358.3 235.9h1v1h-1zM361.5 238.6h1v1h-1zM371.4 239.1h1v1h-1zM374.8 240.4h1v1h-1zM354.5 251.1h1v1h-1zM369.2 233.6h1v1h-1zM358.6 256.6h1v1h-1zM349.3 253.3h1v1h-1zM358.7 249.4h1v1h-1zM375.0 231.1h1v1h-1zM369.4 233.3h1v1h-1zM375.6 248.9h1v1h-1zM380.2 245.9h1v1h-1zM347.8 249.8h1v1h-1zM365.7 248.7h1v1h-1zM380.8 252.1h1v1h-1zM375.3 238.1h1v1h-1zM373.7 239.3h1v1h-1zM369.0 248.4h1v1h-1zM357.4 233.9h1v1h-1zM365.3 249.5h1v1h-1zM357.8 257.5h1v1h-1zM366.4 245.1h1v1h-1zM353.8 254.8h1v1h-1zM349.9 259.5h1v1h-1zM371.5 245.9h1v1h-1zM370.3 244.5h1v1h-1zM385.2 225.5h1v1h-1zM360.8 234.9h1v1h-1zM373.7 244.2h1v1h-1zM360.8 249.9h1v1h-1zM355.3 250.8h1v1h-1zM364.5 249.5h1v1h-1zM349.3 247.6h1v1h-1zM367.4 244.0h1v1h-1zM369.7 240.0h1v1h-1zM372.3 235.5h1v1h-1zM359.7 246.3h1v1h-1zM364.8 235.4h1v1h-1zM376.5 242.8h1v1h-1zM354.2 257.9h1v1h-1zM350.0 254.8h1v1h-1zM369.7 255.5h1v1h-1zM348.9 260.1h1v1h-1zM377.7 249.0h1v1h-1zM381.0 237.8h1v1h-1zM355.3 247.1h1v1h-1zM373.4 246.8h1v1h-1zM371.6 244.7h1v1h-1zM354.2 243.4h1v1h-1zM378.3 240.8h1v1h-1zM360.4 244.4h1v1h-1zM354.5 250.1h1v1h-1zM369.5 249.3h1v1h-1zM359.0 250.7h1v1h-1zM375.4 239.8h1v1h-1zM353.7 250.4h1v1h-1zM353.3 251.8h1v1h-1zM364.9 247.2h1v1h-1zM351.1 241.2h1v1h-1zM361.6 245.3h1v1h-1zM364.8 245.3h1v1h-1zM352.4 250.7h1v1h-1zM352.1 240.7h1v1h-1zM369.2 247.7h1v1h-1zM366.3 242.7h1v1h-1zM378.7 240.1h1v1h-1zM371.1 236.7h1v1h-1zM358.4 244.7h1v1h-1zM356.3 244.9h1v1h-1zM361.8 244.8h1v1h-1zM355.4 256.7h1v1h-1zM347.9 253.2h1v1h-1zM353.6 259.9h1v1h-1zM371.5 251.9h1v1h-1zM369.5 244.9h1v1h-1zM376.8 227.7h1v1h-1zM347.2 251.2h1v1h-1zM366.0 239.6h1v1h-1zM369.4 231.9h1v1h-1zM370.1 243.3h1v1h-1zM363.6 257.0h1v1h-1zM375.5 248.6h1v1h-1zM382.9 235.3h1v1h-1zM360.8 245.6h1v1h-1zM387.9 229.0h1v1h-1zM389.9 246.2h1v1h-1zM361.9 255.7h1v1h-1zM364.6 263.2h1v1h-1zM356.4 252.8h1v1h-1zM380.7 234.5h1v1h-1zM365.5 255.1h1v1h-1zM378.0 249.9h1v1h-1zM382.1 242.7h1v1h-1zM376.0 237.5h1v1h-1zM347.1 261.7h1v1h-1zM352.7 250.7h1v1h-1zM363.2 254.0h1v1h-1zM372.2 234.2h1v1h-1zM360.8 246.4h1v1h-1zM380.8 243.7h1v1h-1zM363.5 237.3h1v1h-1zM357.1 231.3h1v1h-1zM361.7 237.6h1v1h-1zM372.0 243.6h1v1h-1zM380.5 249.1h1v1h-1zM382.8 232.8h1v1h-1zM377.8 229.1h1v1h-1zM384.8 235.7h1v1h-1zM384.7 241.1h1v1h-1zM378.3 235.7h1v1h-1zM361.7 248.9h1v1h-1zM383.0 234.0h1v1h-1zM376.9 246.0h1v1h-1zM359.6 255.2h1v1h-1zM364.3 246.1h1v1h-1zM355.6 243.7h1v1h-1zM365.5 240.1h1v1h-1zM376.8 235.8h1v1h-1zM358.6 245.4h1v1h-1zM354.3 242.3h1v1h-1zM384.0 226.6h1v1h-1zM363.0 247.4h1v1h-1zM355.7 253.4h1v1h-1zM370.2 239.1h1v1h-1zM379.1 240.2h1v1h-1zM370.3 242.1h1v1h-1zM360.8 252.7h1v1h-1zM366.1 247.6h1v1h-1zM376.1 242.0h1v1h-1zM385.8 245.0h1v1h-1zM369.1 245.9h1v1h-1zM357.8 248.4h1v1h-1zM378.1 241.4h1v1h-1zM361.3 245.7h1v1h-1zM368.6 248.5h1v1h-1zM369.0 243.6h1v1h-1zM349.0 251.3h1v1h-1zM367.8 254.8h1v1h-1zM361.5 248.6h1v1h-1zM359.5 239.3h1v1h-1zM382.3 238.3h1v1h-1zM349.1 245.8h1v1h-1zM372.3 249.0h1v1h-1zM355.9 234.1h1v1h-1zM360.2 246.6h1v1h-1zM377.1 244.9h1v1h-1zM372.9 249.4h1v1h-1zM368.8 237.6h1v1h-1zM361.9 253.6h1v1h-1zM383.3 237.9h1v1h-1zM355.0 261.2h1v1h-1zM376.3 251.4h1v1h-1zM382.3 235.0h1v1h-1zM379.7 253.9h1v1h-1zM352.5 253.6h1v1h-1zM380.2 233.4h1v1h-1zM368.4 252.4h1v1h-1zM349.2 234.3h1v1h-1zM363.9 247.5h1v1h-1zM363.7 244.7h1v1h-1zM366.1 235.5h1v1h-1zM361.6 254.6h1v1h-1zM353.0 249.0h1v1h-1zM383.1 233.5h1v1h-1zM383.1 231.2h1v1h-1zM358.7 250.1h1v1h-1zM350.7 241.2h1v1h-1zM383.8 242.3h1v1h-1zM382.7 224.6h1v1h-1zM349.9 249.8h1v1h-1zM379.6 247.8h1v1h-1zM376.9 232.6h1v1h-1zM351.9 249.6h1v1h-1zM378.1 237.3h1v1h-1zM357.3 238.0h1v1h-1zM359.1 245.6h1v1h-1zM381.7 245.4h1v1h-1zM357.1 249.8h1v1h-1zM352.3 249.0h1v1h-1zM354.0 245.7h1v1h-1zM368.0 251.1h1v1h-1zM381.9 242.3h1v1h-1zM381.6 245.6h1v1h-1zM350.5 247.7h1v1h-1zM361.3 255.1h1v1h-1zM383.3 233.1h1v1h-1zM349.2 248.6h1v1h-1zM380.6 242.1h1v1h-1zM384.7 238.1h1v1h-1zM375.7 241.6h1v1h-1zM365.8 246.0h1v1h-1zM374.6 237.2h1v1h-1zM353.9 254.6h1v1h-1zM369.2 257.7h1v1h-1zM348.9 261.5h1v1h-1zM366.7 248.8h1v1h-1zM359.3 243.4h1v1h-1zM372.2 237.5h1v1h-1zM349.1 250.6h1v1h-1zM358.2 246.8h1v1h-1zM385.6 239.8h1v1h-1zM350.9 239.0h1v1h-1zM357.8 253.2h1v1h-1zM372.2 249.5h1v1h-1zM373.3 246.1h1v1h-1zM373.4 242.4h1v1h-1zM366.0 238.9h1v1h-1zM375.3 241.9h1v1h-1zM365.3 257.4h1v1h-1zM372.4 237.4h1v1h-1zM361.0 242.2h1v1h-1zM365.9 237.2h1v1h-1zM357.6 240.3h1v1h-1zM374.0 247.4h1v1h-1zM349.8 241.8h1v1h-1zM361.0 250.3h1v1h-1zM372.7 242.7h1v1h-1zM374.4 244.0h1v1h-1zM374.8 251.7h1v1h-1zM373.8 241.2h1v1h-1zM366.1 250.1h1v1h-1zM358.9 242.1h1v1h-1zM370.9 249.6h1v1h-1zM373.7 247.0h1v1h-1zM357.8 247.4h1v1h-1zM383.7 246.3h1v1h-1zM349.4 236.6h1v1h-1zM363.7 252.1h1v1h-1zM360.0 262.2h1v1h-1zM371.4 243.1h1v1h-1zM378.9 236.2h1v1h-1zM359.8 248.8h1v1h-1zM366.0 252.4h1v1h-1zM360.5 251.4h1v1h-1zM358.2 262.2h1v1h-1zM364.5 244.0h1v1h-1zM384.4 236.7h1v1h-1zM379.4 242.6h1v1h-1zM377.2 247.7h1v1h-1zM383.9 229.5h1v1h-1zM371.3 252.3h1v1h-1zM370.9 245.6h1v1h-1zM369.7 241.9h1v1h-1zM375.3 250.6h1v1h-1zM381.9 248.2h1v1h-1zM374.0 246.7h1v1h-1zM349.6 254.7h1v1h-1zM380.2 236.3h1v1h-1zM371.8 242.2h1v1h-1zM362.5 242.9h1v1h-1zM359.9 250.4h1v1h-1zM373.1 239.2h1v1h-1zM370.2 246.2h1v1h-1zM352.9 253.7h1v1h-1zM352.9 258.1h1v1h-1zM354.2 245.5h1v1h-1zM355.8 240.3h1v1h-1zM383.8 247.0h1v1h-1zM371.9 242.6h1v1h-1zM359.6 248.6h1v1h-1zM352.2 247.6h1v1h-1zM370.0 251.7h1v1h-1zM363.1 253.6h1v1h-1zM360.4 245.6h1v1h-1zM352.9 246.1h1v1h-1zM377.6 228.4h1v1h-1zM368.2 233.7h1v1h-1zM377.3 233.1h1v1h-1zM376.0 245.4h1v1h-1zM382.1 237.8h1v1h-1zM384.6 230.7h1v1h-1zM361.0 252.6h1v1h-1zM385.3 229.9h1v1h-1zM387.4 238.5h1v1h-1zM388.0 232.2h1v1h-1zM389.3 241.5h1v1h-1zM390.8 237.4h1v1h-1zM389.3 245.9h1v1h-1zM382.6 233.4h1v1h-1zM386.2 235.7h1v1h-1zM392.3 224.5h1v1h-1zM392.2 235.9h1v1h-1zM388.8 225.1h1v1h-1zM395.4 232.4h1v1h-1zM388.7 233.5h1v1h-1zM398.6 235.0h1v1h-1zM381.9 226.6h1v1h-1zM386.7 241.3h1v1h-1zM390.5 239.4h1v1h-1zM393.2 235.0h1v1h-1zM383.6 236.7h1v1h-1zM388.0 241.2h1v1h-1zM385.9 241.7h1v1h-1zM383.3 233.1h1v1h-1zM383.6 232.3h1v1h-1zM382.4 235.6h1v1h-1zM391.7 225.8h1v1h-1zM381.2 230.8h1v1h-1zM386.2 238.6h1v1h-1zM386.1 238.3h1v1h-1zM387.9 223.3h1v1h-1zM385.2 232.5h1v1h-1zM391.7 242.4h1v1h-1zM385.0 234.1h1v1h-1zM393.7 235.1h1v1h-1zM398.1 231.8h1v1h-1zM388.9 223.1h1v1h-1zM389.2 234.4h1v1h-1zM384.2 241.1h1v1h-1zM385.5 233.1h1v1h-1zM386.1 244.9h1v1h-1zM391.4 234.2h1v1h-1zM394.4 230.9h1v1h-1zM389.1 233.4h1v1h-1zM382.6 240.9h1v1h-1zM389.9 225.9h1v1h-1zM391.4 241.2h1v1h-1zM390.4 236.3h1v1h-1zM391.5 237.6h1v1h-1zM391.1 241.2h1v1h-1zM380.9 241.0h1v1h-1zM381.5 250.5h1v1h-1zM388.2 237.0h1v1h-1zM382.3 235.5h1v1h-1zM387.5 234.4h1v1h-1zM388.3 239.2h1v1h-1zM380.2 239.6h1v1h-1zM385.5 232.0h1v1h-1zM381.8 241.6h1v1h-1zM385.2 234.6h1v1h-1zM386.4 236.4h1v1h-1zM384.2 236.6h1v1h-1zM385.8 240.3h1v1h-1zM388.1 233.8h1v1h-1zM388.8 237.1h1v1h-1zM383.2 238.1h1v1h-1zM392.8 231.8h1v1h-1zM386.8 238.4h1v1h-1zM379.8 232.4h1v1h-1zM388.1 244.7h1v1h-1zM380.4 245.9h1v1h-1zM389.4 234.6h1v1h-1zM388.8 228.6h1v1h-1zM383.3 239.8h1v1h-1zM390.8 232.0h1v1h-1zM382.7 233.0h1v1h-1zM393.7 236.9h1v1h-1zM393.8 242.7h1v1h-1zM392.2 235.8h1v1h-1zM386.8 243.9h1v1h-1zM382.3 229.0h1v1h-1zM392.0 220.7h1v1h-1zM389.1 238.2h1v1h-1zM377.9 236.7h1v1h-1zM384.8 237.8h1v1h-1zM383.6 234.8h1v1h-1zM393.4 240.2h1v1h-1zM379.6 238.4h1v1h-1zM389.9 238.5h1v1h-1zM392.7 242.6h1v1h-1zM381.8 238.0h1v1h-1zM391.1 237.4h1v1h-1zM382.2 241.1h1v1h-1zM388.0 251.3h1v1h-1zM384.7 241.3h1v1h-1zM383.4 236.4h1v1h-1zM388.1 236.0h1v1h-1zM396.6 227.6h1v1h-1zM385.4 233.6h1v1h-1zM388.2 240.0h1v1h-1zM390.6 236.6h1v1h-1zM386.3 240.3h1v1h-1zM389.7 229.5h1v1h-1zM390.4 235.5h1v1h-1zM393.1 239.5h1v1h-1zM386.0 225.5h1v1h-1zM381.9 242.8h1v1h-1zM392.2 240.7h1v1h-1zM385.2 228.9h1v1h-1zM383.7 231.4h1v1h-1zM382.9 238.2h1v1h-1zM381.0 228.8h1v1h-1zM384.4 241.5h1v1h-1zM385.1 237.7h1v1h-1zM386.9 234.9h1v1h-1zM387.9 234.3h1v1h-1zM390.2 243.4h1v1h-1zM383.9 237.4h1v1h-1zM377.8 236.4h1v1h-1zM384.7 231.4h1v1h-1zM389.8 234.2h1v1h-1zM392.4 240.5h1v1h-1zM389.3 226.2h1v1h-1zM382.2 240.5h1v1h-1zM387.8 239.7h1v1h-1zM394.3 231.7h1v1h-1zM391.8 233.2h1v1h-1zM386.1 230.4h1v1h-1zM379.7 243.1h1v1h-1zM386.7 222.5h1v1h-1zM389.4 240.1h1v1h-1zM395.0 229.3h1v1h-1zM390.5 225.1h1v1h-1zM386.4 244.2h1v1h-1zM390.5 239.2h1v1h-1zM391.2 235.9h1v1h-1zM388.4 240.8h1v1h-1zM384.1 228.3h1v1h-1zM393.9 226.8h1v1h-1zM385.8 240.1h1v1h-1zM384.3 237.5h1v1h-1zM390.9 227.4h1v1h-1zM384.0 228.7h1v1h-1zM386.1 239.8h1v1h-1zM387.1 233.1h1v1h-1zM389.2 235.3h1v1h-1zM388.8 244.5h1v1h-1zM389.0 233.8h1v1h-1zM391.4 233.1h1v1h-1zM390.6 240.4h1v1h-1zM387.7 243.4h1v1h-1zM381.7 228.0h1v1h-1zM394.0 230.2h1v1h-1zM384.1 227.6h1v1h-1zM392.2 227.8h1v1h-1zM377.5 235.8h1v1h-1zM389.6 234.6h1v1h-1zM388.3 242.9h1v1h-1zM383.0 233.9h1v1h-1zM384.3 235.5h1v1h-1zM382.3 239.2h1v1h-1zM387.1 226.9h1v1h-1zM389.2 237.8h1v1h-1zM380.2 236.5h1v1h-1zM385.9 244.4h1v1h-1zM387.4 240.1h1v1h-1zM388.6 232.6h1v1h-1zM389.7 229.6h1v1h-1zM391.4 236.5h1v1h-1zM385.0 234.8h1v1h-1zM383.8 240.0h1v1h-1zM378.1 237.6h1v1h-1zM380.6 243.2h1v1h-1zM385.2 244.3h1v1h-1zM390.0 241.5h1v1h-1zM386.9 225.2h1v1h-1zM393.3 238.4h1v1h-1zM392.9 247.3h1v1h-1zM384.4 245.7h1v1h-1zM393.0 249.4h1v1h-1zM384.3 234.6h1v1h-1zM393.1 230.6h1v1h-1zM386.3 229.8h1v1h-1zM387.7 243.3h1v1h-1zM390.8 228.2h1v1h-1zM386.7 233.6h1v1h-1zM383.8 236.6h1v1h-1zM381.2 233.8h1v1h-1zM386.8 235.3h1v1h-1zM385.9 239.7h1v1h-1zM384.1 237.6h1v1h-1zM388.0 239.1h1v1h-1zM378.7 236.1h1v1h-1zM389.1 249.2h1v1h-1zM382.6 225.5h1v1h-1zM392.0 229.4h1v1h-1zM389.3 233.7h1v1h-1zM384.4 231.7h1v1h-1zM388.6 239.3h1v1h-1zM385.7 233.2h1v1h-1zM393.1 242.0h1v1h-1zM387.4 234.2h1v1h-1zM387.1 235.9h1v1h-1zM375.7 232.3h1v1h-1zM390.0 241.4h1v1h-1zM381.0 238.7h1v1h-1zM381.5 230.7h1v1h-1zM395.7 244.9h1v1h-1zM387.4 232.9h1v1h-1zM394.3 236.1h1v1h-1zM387.6 230.2h1v1h-1zM392.1 232.1h1v1h-1zM385.8 235.4h1v1h-1zM383.1 236.0h1v1h-1zM383.6 237.5h1v1h-1zM389.2 231.2h1v1h-1zM389.5 237.9h1v1h-1zM389.5 229.8h1v1h-1zM382.2 244.6h1v1h-1zM391.1 234.9h1v1h-1zM389.3 239.2h1v1h-1zM393.2 242.7h1v1h-1zM386.2 230.8h1v1h-1zM382.4 226.9h1v1h-1zM389.5 235.4h1v1h-1zM381.4 237.5h1v1h-1zM382.4 237.9h1v1h-1zM383.0 237.0h1v1h-1zM383.4 233.1h1v1h-1zM385.8 241.0h1v1h-1zM387.4 232.4h1v1h-1zM384.1 236.2h1v1h-1zM387.5 235.2h1v1h-1zM381.0 247.1h1v1h-1zM386.3 231.6h1v1h-1zM386.6 229.0h1v1h-1zM388.6 236.9h1v1h-1zM390.2 236.7h1v1h-1zM378.0 243.3h1v1h-1zM390.9 231.0h1v1h-1zM384.2 228.9h1v1h-1zM388.5 230.6h1v1h-1zM385.3 232.4h1v1h-1zM387.4 239.8h1v1h-1zM384.2 238.1h1v1h-1zM386.1 234.6h1v1h-1zM384.8 242.4h1v1h-1zM389.0 226.2h1v1h-1zM381.9 238.7h1v1h-1zM396.0 237.5h1v1h-1zM383.4 227.1h1v1h-1zM390.2 239.0h1v1h-1zM384.7 245.6h1v1h-1zM387.2 232.3h1v1h-1zM389.7 234.8h1v1h-1zM390.4 240.8h1v1h-1zM377.8 240.7h1v1h-1zM395.4 238.9h1v1h-1zM386.2 230.8h1v1h-1zM390.6 242.5h1v1h-1zM390.3 236.4h1v1h-1zM390.2 238.0h1v1h-1zM394.7 235.0h1v1h-1zM381.5 233.0h1v1h-1zM382.2 228.4h1v1h-1zM392.0 223.1h1v1h-1zM390.4 233.8h1v1h-1zM389.9 234.2h1v1h-1zM391.4 240.7h1v1h-1zM394.8 238.8h1v1h-1zM394.1 234.2h1v1h-1zM386.8 242.2h1v1h-1zM391.1 237.5h1v1h-1zM388.2 232.2h1v1h-1zM389.1 239.8h1v1h-1zM384.9 239.5h1v1h-1zM386.3 237.4h1v1h-1zM384.1 230.5h1v1h-1zM384.3 232.3h1v1h-1zM392.7 230.1h1v1h-1zM383.3 233.7h1v1h-1zM389.6 230.8h1v1h-1zM382.5 239.0h1v1h-1zM391.4 237.8h1v1h-1zM394.8 241.7h1v1h-1zM387.5 232.8h1v1h-1zM388.4 243.4h1v1h-1zM383.1 234.0h1v1h-1zM384.6 237.7h1v1h-1zM385.9 236.5h1v1h-1zM389.7 237.1h1v1h-1zM389.9 236.2h1v1h-1zM388.2 240.4h1v1h-1zM376.7 226.2h1v1h-1zM384.9 225.7h1v1h-1zM380.7 232.1h1v1h-1zM386.6 235.0h1v1h-1zM385.6 237.7h1v1h-1zM385.5 230.7h1v1h-1zM384.9 236.8h1v1h-1zM390.2 234.7h1v1h-1zM389.5 239.6h1v1h-1zM385.9 238.7h1v1h-1zM385.6 230.0h1v1h-1zM396.7 236.5h1v1h-1zM392.8 243.1h1v1h-1zM392.0 234.9h1v1h-1zM387.0 234.9h1v1h-1zM389.1 244.8h1v1h-1zM386.3 232.9h1v1h-1zM386.8 237.7h1v1h-1zM388.5 227.9h1v1h-1zM384.0 241.3h1v1h-1zM383.9 235.5h1v1h-1zM386.5 235.3h1v1h-1zM385.0 221.9h1v1h-1zM389.2 240.6h1v1h-1zM381.9 230.9h1v1h-1zM387.5 230.6h1v1h-1zM387.0 230.3h1v1h-1zM387.9 229.1h1v1h-1zM379.4 230.3h1v1h-1zM389.1 241.3h1v1h-1zM386.2 237.1h1v1h-1zM387.5 231.9h1v1h-1zM388.1 238.1h1v1h-1zM388.1 227.1h1v1h-1zM384.8 241.1h1v1h-1zM384.1 240.5h1v1h-1zM390.2 236.6h1v1h-1zM390.4 234.2h1v1h-1zM385.3 228.2h1v1h-1zM381.6 237.2h1v1h-1zM385.3 228.7h1v1h-1zM387.8 231.0h1v1h-1zM387.6 241.6h1v1h-1zM388.1 229.2h1v1h-1zM391.5 235.7h1v1h-1zM388.9 233.5h1v1h-1zM384.1 233.5h1v1h-1zM380.4 233.1h1v1h-1zM385.8 238.5h1v1h-1zM376.2 240.5h1v1h-1zM390.4 236.3h1v1h-1zM387.9 241.6h1v1h-1zM388.2 228.6h1v1h-1zM384.6 233.5h1v1h-1zM380.5 233.6h1v1h-1zM386.6 236.4h1v1h-1zM391.7 234.3h1v1h-1zM392.4 233.9h1v1h-1zM385.6 238.4h1v1h-1zM393.2 231.7h1v1h-1zM386.3 235.0h1v1h-1zM385.7 241.0h1v1h-1zM390.8 238.9h1v1h-1zM384.3 236.2h1v1h-1zM377.3 233.3h1v1h-1zM392.2 228.2h1v1h-1zM386.0 239.3h1v1h-1zM377.8 237.3h1v1h-1zM387.4 237.6h1v1h-1zM390.4 200.4h1v1h-1zM373.1 230.5h1v1h-1zM376.2 200.3h1v1h-1zM362.5 223.3h1v1h-1zM381.6 202.7h1v1h-1zM370.6 214.9h1v1h-1zM355.4 204.0h1v1h-1zM362.9 212.4h1v1h-1zM395.6 210.1h1v1h-1zM392.5 200.6h1v1h-1zM370.8 204.7h1v1h-1zM350.1 209.0h1v1h-1zM382.5 218.8h1v1h-1zM361.7 222.6h1v1h-1zM382.9 226.8h1v1h-1zM382.2 202.8h1v1h-1zM386.9 229.6h1v1h-1zM391.8 220.4h1v1h-1zM353.4 226.9h1v1h-1zM372.2 222.6h1v1h-1zM394.2 206.6h1v1h-1zM348.2 229.0h1v1h-1zM392.4 202.7h1v1h-1zM370.3 226.6h1v1h-1zM378.3 216.2h1v1h-1zM397.9 200.9h1v1h-1zM366.0 204.9h1v1h-1zM396.1 218.1h1v1h-1zM360.4 226.9h1v1h-1zM393.6 214.9h1v1h-1zM395.5 206.7h1v1h-1zM382.2 230.8h1v1h-1zM358.8 221.8h1v1h-1zM389.3 226.8h1v1h-1zM360.6 211.9h1v1h-1zM352.8 215.7h1v1h-1zM391.0 209.2h1v1h-1zM391.9 208.2h1v1h-1zM371.0 220.5h1v1h-1zM388.4 229.2h1v1h-1zM365.2 212.1h1v1h-1zM385.7 224.7h1v1h-1zM387.3 208.3h1v1h-1zM391.0 223.7h1v1h-1zM377.2 210.4h1v1h-1zM383.9 202.1h1v1h-1zM384.7 213.0h1v1h-1zM385.8 218.2h1v1h-1zM365.3 209.8h1v1h-1zM372.6 204.2h1v1h-1zM384.1 223.4h1v1h-1zM383.1 229.3h1v1h-1zM388.5 216.7h1v1h-1zM382.8 215.8h1v1h-1zM386.3 212.9h1v1h-1zM384.9 230.2h1v1h-1zM395.0 229.2h1v1h-1zM395.2 224.7h1v1h-1zM395.4 223.4h1v1h-1zM386.6 213.5h1v1h-1zM390.4 230.3h1v1h-1zM395.0 230.4h1v1h-1zM387.1 224.4h1v1h-1zM396.0 225.2h1v1h-1zM393.7 228.3h1v1h-1zM388.9 228.4h1v1h-1zM385.7 227.3h1v1h-1zM386.9 214.5h1v1h-1zM393.2 226.7h1v1h-1zM390.2 219.9h1v1h-1zM384.2 227.7h1v1h-1zM390.6 224.1h1v1h-1zM393.1 210.6h1v1h-1zM392.7 227.9h1v1h-1zM382.2 211.0h1v1h-1zM393.8 215.5h1v1h-1zM388.5 229.5h1v1h-1zM383.1 220.4h1v1h-1zM381.0 228.3h1v1h-1zM393.8 219.2h1v1h-1zM392.7 213.2h1v1h-1zM392.9 227.0h1v1h-1zM391.7 210.7h1v1h-1zM384.8 223.9h1v1h-1zM393.3 220.3h1v1h-1zM391.0 219.6h1v1h-1zM389.3 216.0h1v1h-1zM383.2 228.3h1v1h-1zM388.9 216.7h1v1h-1zM384.7 217.1h1v1h-1zM388.3 213.3h1v1h-1zM387.2 217.4h1v1h-1zM386.2 217.7h1v1h-1zM380.7 228.6h1v1h-1zM384.8 225.7h1v1h-1zM395.1 218.0h1v1h-1zM385.6 224.2h1v1h-1zM395.1 221.2h1v1h-1zM390.3 212.3h1v1h-1zM385.0 219.5h1v1h-1zM390.4 218.0h1v1h-1zM391.8 227.6h1v1h-1zM384.0 221.1h1v1h-1zM381.6 216.7h1v1h-1zM389.2 227.4h1v1h-1z" fill="#303030" opacity="0.58" filter="url(#soft)"/>
</g>
<rect x="317.5" y="171.3" width="92.60000000000002" height="93.0" fill="none" stroke="#222" stroke-width="1"/>
<line x1="345.5" y1="171.3" x2="345.5" y2="264.3" stroke="#222" stroke-width="1"/>
<line x1="317.5" y1="231.3" x2="410.1" y2="231.3" stroke="#222" stroke-width="1"/>
<text x="331.1" y="182.0" font-size="9.2" font-weight="bold" text-anchor="middle" textLength="20.6" lengthAdjust="spacingAndGlyphs">AGN</text>
<text x="331.1" y="190.4" font-size="9.2" font-weight="bold" text-anchor="middle" textLength="21" lengthAdjust="spacingAndGlyphs">+IL-3</text>
<text x="376.2" y="181.7" font-size="9.7" text-anchor="end" >1.1%</text>
<text x="406.7" y="181.7" font-size="9.7" text-anchor="end" >4.0%</text>
<text x="376.2" y="192" font-size="9.7" text-anchor="end" >64.8%</text>
<text x="406.7" y="192" font-size="9.7" text-anchor="end" >30.0%</text>
<line x1="349.2" y1="183" x2="407.2" y2="183" stroke="#000" stroke-width="0.9"/>
<line x1="378.8" y1="175" x2="378.8" y2="192.5" stroke="#000" stroke-width="0.9"/>
<line x1="451.5" y1="171" x2="451.5" y2="262" stroke="#000" stroke-width="1"/>
<line x1="451.5" y1="262" x2="517" y2="262" stroke="#000" stroke-width="1"/>
<line x1="449.0" y1="171.9" x2="451.5" y2="171.9" stroke="#000" stroke-width="1"/>
<text x="447.0" y="176.5" font-size="10.8" text-anchor="end" >0.5</text>
<line x1="449.0" y1="190.3" x2="451.5" y2="190.3" stroke="#000" stroke-width="1"/>
<text x="447.0" y="194.9" font-size="10.8" text-anchor="end" >0.4</text>
<line x1="449.0" y1="208.4" x2="451.5" y2="208.4" stroke="#000" stroke-width="1"/>
<text x="447.0" y="213.0" font-size="10.8" text-anchor="end" >0.3</text>
<line x1="449.0" y1="226.2" x2="451.5" y2="226.2" stroke="#000" stroke-width="1"/>
<text x="447.0" y="230.79999999999998" font-size="10.8" text-anchor="end" >0.2</text>
<line x1="449.0" y1="244.1" x2="451.5" y2="244.1" stroke="#000" stroke-width="1"/>
<text x="447.0" y="248.7" font-size="10.8" text-anchor="end" >0.1</text>
<line x1="449.0" y1="262" x2="451.5" y2="262" stroke="#000" stroke-width="1"/>
<text x="447.0" y="266.6" font-size="10.8" text-anchor="end" >0.0</text>
<text x="485.3" y="177.2" font-size="12.6" text-anchor="middle" >IL-4/IFN-<tspan style="font-family:Liberation Serif">γ</tspan></text>
<text transform="translate(426.8,216.7) rotate(-90)" font-size="11.6" text-anchor="middle">IL-4/IFN-<tspan style="font-family:Liberation Serif">γ</tspan></text>
<rect x="454.2" y="234.5" width="11.400000000000034" height="27.5" fill="#7a7a7a" stroke="#222" stroke-width="1"/>
<line x1="476.9" y1="236.4" x2="476.9" y2="243" stroke="#333" stroke-width="1.2"/>
<line x1="473.9" y1="236.4" x2="479.9" y2="236.4" stroke="#333" stroke-width="1.2"/>
<rect x="471.2" y="243" width="11.400000000000034" height="19" fill="#7a7a7a" stroke="#222" stroke-width="1"/>
<line x1="493.75" y1="188.2" x2="493.75" y2="193.5" stroke="#333" stroke-width="1.2"/>
<line x1="490.75" y1="188.2" x2="496.75" y2="188.2" stroke="#333" stroke-width="1.2"/>
<rect x="488.1" y="193.5" width="11.299999999999955" height="68.5" fill="#7a7a7a" stroke="#222" stroke-width="1"/>
<line x1="510.75" y1="244" x2="510.75" y2="249.8" stroke="#333" stroke-width="1.2"/>
<line x1="507.75" y1="244" x2="513.75" y2="244" stroke="#333" stroke-width="1.2"/>
<rect x="505.1" y="249.8" width="11.299999999999955" height="12.199999999999989" fill="#7a7a7a" stroke="#222" stroke-width="1"/>
<text x="450" y="278" font-size="12.5" text-anchor="end" >IL-3</text>
<text x="450" y="289" font-size="12.5" text-anchor="end" >AGN</text>
<text x="459.9" y="278" font-size="12.5" text-anchor="middle" >–</text>
<text x="459.9" y="289" font-size="12.5" text-anchor="middle" >–</text>
<text x="476.9" y="278" font-size="12.5" text-anchor="middle" >–</text>
<text x="476.9" y="289" font-size="12.5" text-anchor="middle" >+</text>
<text x="493.75" y="278" font-size="12.5" text-anchor="middle" >+</text>
<text x="493.75" y="289" font-size="12.5" text-anchor="middle" >–</text>
<text x="510.75" y="278" font-size="12.5" text-anchor="middle" >+</text>
<text x="510.75" y="289" font-size="12.5" text-anchor="middle" >+</text>
<text x="0.2" y="327.2" font-size="20.5" text-anchor="start" font-weight="bold" >C</text>
<line x1="21.8" y1="336" x2="21.8" y2="695.5" stroke="#333" stroke-width="1.1"/>
<polygon points="21.8,331.3 20.1,337.3 23.5,337.3" fill="#111"/>
<line x1="184.5" y1="336" x2="184.5" y2="695.5" stroke="#333" stroke-width="1.1"/>
<polygon points="184.5,331.3 182.8,337.3 186.2,337.3" fill="#111"/>
<line x1="348.4" y1="336" x2="348.4" y2="695.5" stroke="#333" stroke-width="1.1"/>
<polygon points="348.4,331.3 346.7,337.3 350.09999999999997,337.3" fill="#111"/>
<text transform="translate(13.6,511) rotate(-90)" font-size="12.7" text-anchor="middle">IL-4<tspan dy="-4.5" font-size="8">+</tspan><tspan dy="4.5"> cells (%)</tspan></text>
<text transform="translate(174.9,507.5) rotate(-90)" font-size="12.7" text-anchor="middle">IFN-<tspan style="font-family:Liberation Serif">γ</tspan><tspan dy="-4.5" font-size="8">+</tspan><tspan dy="4.5"> cells (%)</tspan></text>
<text transform="translate(339.5,513.9) rotate(-90)" font-size="12.5" text-anchor="middle">IL-4/IFN-<tspan style="font-family:Liberation Serif">γ</tspan></text>
<line x1="41.6" y1="334.0" x2="41.6" y2="424.4" stroke="#000" stroke-width="1"/>
<line x1="39.6" y1="424.4" x2="114.2" y2="424.4" stroke="#000" stroke-width="1"/>
<line x1="39.6" y1="334.5" x2="41.6" y2="334.5" stroke="#000" stroke-width="1"/>
<line x1="39.6" y1="379.45" x2="41.6" y2="379.45" stroke="#000" stroke-width="1"/>
<line x1="77.8" y1="424.4" x2="77.8" y2="426.7" stroke="#000" stroke-width="0.9"/>
<text x="37.2" y="338.7" font-size="11" text-anchor="end" >14</text>
<text x="37.2" y="383.45" font-size="11" text-anchor="end" >7</text>
<text x="37.2" y="428.4" font-size="11" text-anchor="end" >0</text>
<line x1="59.8" y1="342.1" x2="94.9" y2="342.1" stroke="#444" stroke-width="1.1"/>
<path d="M78.50 336.10L78.50 333.85M78.50 336.10L80.64 335.40M78.50 336.10L79.82 337.92M78.50 336.10L77.18 337.92M78.50 336.10L76.36 335.40" stroke="#000" stroke-width="1.1" stroke-linecap="round" fill="none"/>
<text x="101.3" y="341.0" font-size="11.5" text-anchor="start" ><tspan font-style="italic">P</tspan> = .020</text>
<text x="59.4" y="436.79999999999995" font-size="11.5" text-anchor="middle" textLength="31.8" lengthAdjust="spacingAndGlyphs">buffer</text>
<text x="95.6" y="436.79999999999995" font-size="11.5" text-anchor="middle" textLength="21.2" lengthAdjust="spacingAndGlyphs">IL-3</text>
<line x1="59.6" y1="388.8" x2="95.8" y2="354" stroke="#000" stroke-width="1"/>
<line x1="59.6" y1="397.5" x2="95.8" y2="362.9" stroke="#000" stroke-width="1"/>
<line x1="59.6" y1="399.8" x2="95.8" y2="378.2" stroke="#000" stroke-width="1"/>
<line x1="59.6" y1="408.8" x2="95.8" y2="404.4" stroke="#000" stroke-width="1"/>
<circle cx="59.6" cy="388.8" r="2.2" fill="#fff" stroke="#000" stroke-width="0.9"/>
<polygon points="95.8,351.0 93.0,356.2 98.6,356.2" fill="#000"/>
<circle cx="59.6" cy="397.5" r="2.2" fill="#fff" stroke="#000" stroke-width="0.9"/>
<polygon points="95.8,359.9 93.0,365.09999999999997 98.6,365.09999999999997" fill="#000"/>
<circle cx="59.6" cy="399.8" r="2.2" fill="#fff" stroke="#000" stroke-width="0.9"/>
<polygon points="95.8,375.2 93.0,380.4 98.6,380.4" fill="#000"/>
<circle cx="59.6" cy="408.8" r="2.2" fill="#fff" stroke="#000" stroke-width="0.9"/>
<polygon points="95.8,401.4 93.0,406.59999999999997 98.6,406.59999999999997" fill="#000"/>
<line x1="207.4" y1="334.0" x2="207.4" y2="424.4" stroke="#000" stroke-width="1"/>
<line x1="205.4" y1="424.4" x2="279.4" y2="424.4" stroke="#000" stroke-width="1"/>
<line x1="205.4" y1="334.5" x2="207.4" y2="334.5" stroke="#000" stroke-width="1"/>
<line x1="205.4" y1="379.45" x2="207.4" y2="379.45" stroke="#000" stroke-width="1"/>
<line x1="243.5" y1="424.4" x2="243.5" y2="426.7" stroke="#000" stroke-width="0.9"/>
<text x="203.5" y="338.7" font-size="11" text-anchor="end" >36</text>
<text x="203.5" y="383.45" font-size="11" text-anchor="end" >18</text>
<text x="203.5" y="428.4" font-size="11" text-anchor="end" >0</text>
<line x1="225.2" y1="342.1" x2="260.0" y2="342.1" stroke="#444" stroke-width="1.1"/>
<path d="M237.00 336.10L237.00 333.85M237.00 336.10L239.14 335.40M237.00 336.10L238.32 337.92M237.00 336.10L235.68 337.92M237.00 336.10L234.86 335.40" stroke="#000" stroke-width="1.1" stroke-linecap="round" fill="none"/>
<path d="M242.60 336.10L242.60 333.85M242.60 336.10L244.74 335.40M242.60 336.10L243.92 337.92M242.60 336.10L241.28 337.92M242.60 336.10L240.46 335.40" stroke="#000" stroke-width="1.1" stroke-linecap="round" fill="none"/>
<path d="M248.20 336.10L248.20 333.85M248.20 336.10L250.34 335.40M248.20 336.10L249.52 337.92M248.20 336.10L246.88 337.92M248.20 336.10L246.06 335.40" stroke="#000" stroke-width="1.1" stroke-linecap="round" fill="none"/>
<text x="265.5" y="341.0" font-size="11.5" text-anchor="start" ><tspan font-style="italic">P</tspan> = .001</text>
<text x="225.35" y="436.79999999999995" font-size="11.5" text-anchor="middle" textLength="31.8" lengthAdjust="spacingAndGlyphs">buffer</text>
<text x="259.75" y="436.79999999999995" font-size="11.5" text-anchor="middle" textLength="21.2" lengthAdjust="spacingAndGlyphs">IL-3</text>
<line x1="225.3" y1="356.8" x2="261.5" y2="365.8" stroke="#000" stroke-width="1"/>
<line x1="225.3" y1="361.4" x2="261.5" y2="374.4" stroke="#000" stroke-width="1"/>
<line x1="225.3" y1="385.2" x2="261.5" y2="395.4" stroke="#000" stroke-width="1"/>
<line x1="225.3" y1="396.9" x2="261.5" y2="405.8" stroke="#000" stroke-width="1"/>
<circle cx="225.3" cy="356.8" r="2.2" fill="#fff" stroke="#000" stroke-width="0.9"/>
<polygon points="261.5,362.8 258.7,368.0 264.3,368.0" fill="#000"/>
<circle cx="225.3" cy="361.4" r="2.2" fill="#fff" stroke="#000" stroke-width="0.9"/>
<polygon points="261.5,371.4 258.7,376.59999999999997 264.3,376.59999999999997" fill="#000"/>
<circle cx="225.3" cy="385.2" r="2.2" fill="#fff" stroke="#000" stroke-width="0.9"/>
<polygon points="261.5,392.4 258.7,397.59999999999997 264.3,397.59999999999997" fill="#000"/>
<circle cx="225.3" cy="396.9" r="2.2" fill="#fff" stroke="#000" stroke-width="0.9"/>
<polygon points="261.5,402.8 258.7,408.0 264.3,408.0" fill="#000"/>
<line x1="371.0" y1="334.0" x2="371.0" y2="424.4" stroke="#000" stroke-width="1"/>
<line x1="369.0" y1="424.4" x2="444.0" y2="424.4" stroke="#000" stroke-width="1"/>
<line x1="369.0" y1="334.5" x2="371.0" y2="334.5" stroke="#000" stroke-width="1"/>
<line x1="369.0" y1="379.45" x2="371.0" y2="379.45" stroke="#000" stroke-width="1"/>
<line x1="407.8" y1="424.4" x2="407.8" y2="426.7" stroke="#000" stroke-width="0.9"/>
<text x="367.9" y="338.7" font-size="11" text-anchor="end" >1.2</text>
<text x="367.9" y="383.45" font-size="11" text-anchor="end" >0.6</text>
<text x="367.9" y="428.4" font-size="11" text-anchor="end" >0.0</text>
<line x1="386.9" y1="342.1" x2="421.8" y2="342.1" stroke="#444" stroke-width="1.1"/>
<path d="M404.90 336.10L404.90 333.85M404.90 336.10L407.04 335.40M404.90 336.10L406.22 337.92M404.90 336.10L403.58 337.92M404.90 336.10L402.76 335.40" stroke="#000" stroke-width="1.1" stroke-linecap="round" fill="none"/>
<text x="430.0" y="341.0" font-size="11.5" text-anchor="start" ><tspan font-style="italic">P</tspan> = .020</text>
<text x="388.9" y="436.79999999999995" font-size="11.5" text-anchor="middle" textLength="31.8" lengthAdjust="spacingAndGlyphs">buffer</text>
<text x="425.0" y="436.79999999999995" font-size="11.5" text-anchor="middle" textLength="21.2" lengthAdjust="spacingAndGlyphs">IL-3</text>
<line x1="389.5" y1="398.1" x2="425.6" y2="354" stroke="#000" stroke-width="1"/>
<line x1="389.5" y1="407.9" x2="425.6" y2="391.7" stroke="#000" stroke-width="1"/>
<line x1="389.5" y1="412.5" x2="425.6" y2="394" stroke="#000" stroke-width="1"/>
<line x1="389.5" y1="413.3" x2="425.6" y2="397.5" stroke="#000" stroke-width="1"/>
<circle cx="389.5" cy="398.1" r="2.2" fill="#fff" stroke="#000" stroke-width="0.9"/>
<polygon points="425.6,351.0 422.8,356.2 428.40000000000003,356.2" fill="#000"/>
<circle cx="389.5" cy="407.9" r="2.2" fill="#fff" stroke="#000" stroke-width="0.9"/>
<polygon points="425.6,388.7 422.8,393.9 428.40000000000003,393.9" fill="#000"/>
<circle cx="389.5" cy="412.5" r="2.2" fill="#fff" stroke="#000" stroke-width="0.9"/>
<polygon points="425.6,391.0 422.8,396.2 428.40000000000003,396.2" fill="#000"/>
<circle cx="389.5" cy="413.3" r="2.2" fill="#fff" stroke="#000" stroke-width="0.9"/>
<polygon points="425.6,394.5 422.8,399.7 428.40000000000003,399.7" fill="#000"/>
<text x="77.6" y="326.8" font-size="12.8" text-anchor="middle" >IL-4</text>
<text x="243.3" y="326.8" font-size="12.8" text-anchor="middle" >IFN-<tspan style="font-family:Liberation Serif">γ</tspan></text>
<text x="405.6" y="326.8" font-size="12.8" text-anchor="middle" >IL-4/IFN-<tspan style="font-family:Liberation Serif">γ</tspan></text>
<line x1="41.6" y1="462.3" x2="41.6" y2="553.0" stroke="#000" stroke-width="1"/>
<line x1="39.6" y1="553.0" x2="114.2" y2="553.0" stroke="#000" stroke-width="1"/>
<line x1="39.6" y1="462.8" x2="41.6" y2="462.8" stroke="#000" stroke-width="1"/>
<line x1="39.6" y1="507.9" x2="41.6" y2="507.9" stroke="#000" stroke-width="1"/>
<line x1="77.8" y1="553.0" x2="77.8" y2="555.3" stroke="#000" stroke-width="0.9"/>
<text x="37.2" y="467.0" font-size="11" text-anchor="end" >14</text>
<text x="37.2" y="511.9" font-size="11" text-anchor="end" >7</text>
<text x="37.2" y="557.0" font-size="11" text-anchor="end" >0</text>
<line x1="60.5" y1="469.8" x2="95.6" y2="469.8" stroke="#444" stroke-width="1.1"/>
<path d="M79.20 463.80L79.20 461.55M79.20 463.80L81.34 463.10M79.20 463.80L80.52 465.62M79.20 463.80L77.88 465.62M79.20 463.80L77.06 463.10" stroke="#000" stroke-width="1.1" stroke-linecap="round" fill="none"/>
<text x="100.4" y="469.3" font-size="11.5" text-anchor="start" ><tspan font-style="italic">P</tspan> = .016</text>
<text x="59.6" y="565.4" font-size="11.5" text-anchor="middle" textLength="21.2" lengthAdjust="spacingAndGlyphs">IL-3</text>
<text x="93.45" y="565.4" font-size="11.5" text-anchor="middle" textLength="21.2" lengthAdjust="spacingAndGlyphs">IL-3</text>
<text x="93.45" y="576.2" font-size="11.5" text-anchor="middle" textLength="32" lengthAdjust="spacingAndGlyphs">+AGN</text>
<line x1="59.6" y1="482.8" x2="95.8" y2="516" stroke="#000" stroke-width="1"/>
<line x1="59.6" y1="491.7" x2="95.8" y2="534.4" stroke="#000" stroke-width="1"/>
<line x1="59.6" y1="506.7" x2="95.8" y2="540.8" stroke="#000" stroke-width="1"/>
<line x1="59.6" y1="532.5" x2="95.8" y2="537.9" stroke="#000" stroke-width="1"/>
<polygon points="59.6,479.8 56.800000000000004,485.0 62.4,485.0" fill="#000"/>
<rect x="93.89999999999999" y="514.1" width="3.8" height="3.8" fill="#fff" stroke="#000" stroke-width="0.9"/>
<polygon points="59.6,488.7 56.800000000000004,493.9 62.4,493.9" fill="#000"/>
<rect x="93.89999999999999" y="532.5" width="3.8" height="3.8" fill="#fff" stroke="#000" stroke-width="0.9"/>
<polygon points="59.6,503.7 56.800000000000004,508.9 62.4,508.9" fill="#000"/>
<rect x="93.89999999999999" y="538.9" width="3.8" height="3.8" fill="#fff" stroke="#000" stroke-width="0.9"/>
<polygon points="59.6,529.5 56.800000000000004,534.7 62.4,534.7" fill="#000"/>
<rect x="93.89999999999999" y="536.0" width="3.8" height="3.8" fill="#fff" stroke="#000" stroke-width="0.9"/>
<line x1="207.4" y1="462.3" x2="207.4" y2="553.0" stroke="#000" stroke-width="1"/>
<line x1="205.4" y1="553.0" x2="279.4" y2="553.0" stroke="#000" stroke-width="1"/>
<line x1="205.4" y1="462.8" x2="207.4" y2="462.8" stroke="#000" stroke-width="1"/>
<line x1="205.4" y1="507.9" x2="207.4" y2="507.9" stroke="#000" stroke-width="1"/>
<line x1="243.5" y1="553.0" x2="243.5" y2="555.3" stroke="#000" stroke-width="0.9"/>
<text x="203.5" y="467.0" font-size="11" text-anchor="end" >36</text>
<text x="203.5" y="511.9" font-size="11" text-anchor="end" >18</text>
<text x="203.5" y="557.0" font-size="11" text-anchor="end" >0</text>
<line x1="225.1" y1="469.8" x2="260.4" y2="469.8" stroke="#444" stroke-width="1.1"/>
<path d="M243.50 463.80L243.50 461.55M243.50 463.80L245.64 463.10M243.50 463.80L244.82 465.62M243.50 463.80L242.18 465.62M243.50 463.80L241.36 463.10" stroke="#000" stroke-width="1.1" stroke-linecap="round" fill="none"/>
<text x="266.0" y="469.3" font-size="11.5" text-anchor="start" ><tspan font-style="italic">P</tspan> = .019</text>
<text x="224.9" y="565.4" font-size="11.5" text-anchor="middle" textLength="21.2" lengthAdjust="spacingAndGlyphs">IL-3</text>
<text x="260.2" y="565.4" font-size="11.5" text-anchor="middle" textLength="21.2" lengthAdjust="spacingAndGlyphs">IL-3</text>
<text x="261.4" y="576.2" font-size="11.5" text-anchor="middle" textLength="32" lengthAdjust="spacingAndGlyphs">+AGN</text>
<line x1="225.3" y1="494.1" x2="261.5" y2="485.8" stroke="#000" stroke-width="1"/>
<line x1="225.3" y1="502.8" x2="261.5" y2="475.4" stroke="#000" stroke-width="1"/>
<line x1="225.3" y1="523.6" x2="261.5" y2="510.2" stroke="#000" stroke-width="1"/>
<line x1="225.3" y1="534.8" x2="261.5" y2="503.3" stroke="#000" stroke-width="1"/>
<polygon points="225.3,491.1 222.5,496.3 228.10000000000002,496.3" fill="#000"/>
<rect x="259.6" y="483.90000000000003" width="3.8" height="3.8" fill="#fff" stroke="#000" stroke-width="0.9"/>
<polygon points="225.3,499.8 222.5,505.0 228.10000000000002,505.0" fill="#000"/>
<rect x="259.6" y="473.5" width="3.8" height="3.8" fill="#fff" stroke="#000" stroke-width="0.9"/>
<polygon points="225.3,520.6 222.5,525.8000000000001 228.10000000000002,525.8000000000001" fill="#000"/>
<rect x="259.6" y="508.3" width="3.8" height="3.8" fill="#fff" stroke="#000" stroke-width="0.9"/>
<polygon points="225.3,531.8 222.5,537.0 228.10000000000002,537.0" fill="#000"/>
<rect x="259.6" y="501.40000000000003" width="3.8" height="3.8" fill="#fff" stroke="#000" stroke-width="0.9"/>
<line x1="371.0" y1="462.3" x2="371.0" y2="553.0" stroke="#000" stroke-width="1"/>
<line x1="369.0" y1="553.0" x2="444.0" y2="553.0" stroke="#000" stroke-width="1"/>
<line x1="369.0" y1="462.8" x2="371.0" y2="462.8" stroke="#000" stroke-width="1"/>
<line x1="369.0" y1="507.9" x2="371.0" y2="507.9" stroke="#000" stroke-width="1"/>
<line x1="407.8" y1="553.0" x2="407.8" y2="555.3" stroke="#000" stroke-width="0.9"/>
<text x="367.9" y="467.0" font-size="11" text-anchor="end" >1.2</text>
<text x="367.9" y="511.9" font-size="11" text-anchor="end" >0.6</text>
<text x="367.9" y="557.0" font-size="11" text-anchor="end" >0.0</text>
<line x1="390.1" y1="469.8" x2="425.4" y2="469.8" stroke="#444" stroke-width="1.1"/>
<path d="M406.20 463.80L406.20 461.55M406.20 463.80L408.34 463.10M406.20 463.80L407.52 465.62M406.20 463.80L404.88 465.62M406.20 463.80L404.06 463.10" stroke="#000" stroke-width="1.1" stroke-linecap="round" fill="none"/>
<path d="M411.80 463.80L411.80 461.55M411.80 463.80L413.94 463.10M411.80 463.80L413.12 465.62M411.80 463.80L410.48 465.62M411.80 463.80L409.66 463.10" stroke="#000" stroke-width="1.1" stroke-linecap="round" fill="none"/>
<text x="431.0" y="469.3" font-size="11.5" text-anchor="start" ><tspan font-style="italic">P</tspan> = .009</text>
<text x="389.6" y="565.4" font-size="11.5" text-anchor="middle" textLength="21.2" lengthAdjust="spacingAndGlyphs">IL-3</text>
<text x="423.5" y="565.4" font-size="11.5" text-anchor="middle" textLength="21.2" lengthAdjust="spacingAndGlyphs">IL-3</text>
<text x="424.5" y="576.2" font-size="11.5" text-anchor="middle" textLength="32" lengthAdjust="spacingAndGlyphs">+AGN</text>
<line x1="389.5" y1="482.7" x2="425.6" y2="528.1" stroke="#000" stroke-width="1"/>
<line x1="389.5" y1="521.8" x2="425.6" y2="541.7" stroke="#000" stroke-width="1"/>
<line x1="389.5" y1="523.6" x2="425.6" y2="544.9" stroke="#000" stroke-width="1"/>
<line x1="389.5" y1="526.6" x2="425.6" y2="548.3" stroke="#000" stroke-width="1"/>
<polygon points="389.5,479.7 386.7,484.9 392.3,484.9" fill="#000"/>
<rect x="423.70000000000005" y="526.2" width="3.8" height="3.8" fill="#fff" stroke="#000" stroke-width="0.9"/>
<polygon points="389.5,518.8 386.7,524.0 392.3,524.0" fill="#000"/>
<rect x="423.70000000000005" y="539.8000000000001" width="3.8" height="3.8" fill="#fff" stroke="#000" stroke-width="0.9"/>
<polygon points="389.5,520.6 386.7,525.8000000000001 392.3,525.8000000000001" fill="#000"/>
<rect x="423.70000000000005" y="543.0" width="3.8" height="3.8" fill="#fff" stroke="#000" stroke-width="0.9"/>
<polygon points="389.5,523.6 386.7,528.8000000000001 392.3,528.8000000000001" fill="#000"/>
<rect x="423.70000000000005" y="546.4" width="3.8" height="3.8" fill="#fff" stroke="#000" stroke-width="0.9"/>
<line x1="41.6" y1="602.3" x2="41.6" y2="693.1" stroke="#000" stroke-width="1"/>
<line x1="39.6" y1="693.1" x2="114.2" y2="693.1" stroke="#000" stroke-width="1"/>
<line x1="39.6" y1="602.8" x2="41.6" y2="602.8" stroke="#000" stroke-width="1"/>
<line x1="39.6" y1="647.95" x2="41.6" y2="647.95" stroke="#000" stroke-width="1"/>
<line x1="77.8" y1="693.1" x2="77.8" y2="695.4" stroke="#000" stroke-width="0.9"/>
<text x="37.2" y="607.0" font-size="11" text-anchor="end" >14</text>
<text x="37.2" y="651.95" font-size="11" text-anchor="end" >7</text>
<text x="37.2" y="697.1" font-size="11" text-anchor="end" >0</text>
<line x1="59.6" y1="612.6" x2="94.8" y2="612.6" stroke="#444" stroke-width="1.1"/>
<text x="77.2" y="609.2" font-size="11" text-anchor="middle" >ns</text>
<text x="100.4" y="611.6999999999999" font-size="11" text-anchor="start" >p &gt; 0.05</text>
<text x="59.65" y="705.5" font-size="11.5" text-anchor="middle" textLength="31.8" lengthAdjust="spacingAndGlyphs">buffer</text>
<text x="94.75" y="705.5" font-size="11.5" text-anchor="middle" textLength="28" lengthAdjust="spacingAndGlyphs">AGN</text>
<line x1="59.6" y1="657.9" x2="95.8" y2="657.9" stroke="#000" stroke-width="1"/>
<line x1="59.6" y1="666.3" x2="95.8" y2="677.5" stroke="#000" stroke-width="1"/>
<line x1="59.6" y1="668.6" x2="95.8" y2="683.8" stroke="#000" stroke-width="1"/>
<line x1="59.6" y1="677.5" x2="95.8" y2="676" stroke="#000" stroke-width="1"/>
<circle cx="59.6" cy="657.9" r="2.2" fill="#fff" stroke="#000" stroke-width="0.9"/>
<rect x="93.5" y="655.6" width="4.6" height="4.6" fill="#000"/>
<circle cx="59.6" cy="666.3" r="2.2" fill="#fff" stroke="#000" stroke-width="0.9"/>
<rect x="93.5" y="675.2" width="4.6" height="4.6" fill="#000"/>
<circle cx="59.6" cy="668.6" r="2.2" fill="#fff" stroke="#000" stroke-width="0.9"/>
<rect x="93.5" y="681.5" width="4.6" height="4.6" fill="#000"/>
<circle cx="59.6" cy="677.5" r="2.2" fill="#fff" stroke="#000" stroke-width="0.9"/>
<rect x="93.5" y="673.7" width="4.6" height="4.6" fill="#000"/>
<line x1="207.4" y1="602.3" x2="207.4" y2="693.1" stroke="#000" stroke-width="1"/>
<line x1="205.4" y1="693.1" x2="279.4" y2="693.1" stroke="#000" stroke-width="1"/>
<line x1="205.4" y1="602.8" x2="207.4" y2="602.8" stroke="#000" stroke-width="1"/>
<line x1="205.4" y1="647.95" x2="207.4" y2="647.95" stroke="#000" stroke-width="1"/>
<line x1="243.5" y1="693.1" x2="243.5" y2="695.4" stroke="#000" stroke-width="0.9"/>
<text x="203.5" y="607.0" font-size="11" text-anchor="end" >36</text>
<text x="203.5" y="651.95" font-size="11" text-anchor="end" >18</text>
<text x="203.5" y="697.1" font-size="11" text-anchor="end" >0</text>
<line x1="226.2" y1="612.6" x2="261.7" y2="612.6" stroke="#444" stroke-width="1.1"/>
<text x="244.3" y="609.2" font-size="11" text-anchor="middle" >ns</text>
<text x="266.0" y="611.6999999999999" font-size="11" text-anchor="start" >p &gt; 0.05</text>
<text x="225.45" y="705.5" font-size="11.5" text-anchor="middle" textLength="31.8" lengthAdjust="spacingAndGlyphs">buffer</text>
<text x="261.4" y="705.5" font-size="11.5" text-anchor="middle" textLength="28" lengthAdjust="spacingAndGlyphs">AGN</text>
<line x1="225.3" y1="625.6" x2="261.5" y2="630.6" stroke="#000" stroke-width="1"/>
<line x1="225.3" y1="630.2" x2="261.5" y2="639.8" stroke="#000" stroke-width="1"/>
<line x1="225.3" y1="654" x2="261.5" y2="654.2" stroke="#000" stroke-width="1"/>
<line x1="225.3" y1="665.5" x2="261.5" y2="648.5" stroke="#000" stroke-width="1"/>
<circle cx="225.3" cy="625.6" r="2.2" fill="#fff" stroke="#000" stroke-width="0.9"/>
<rect x="259.2" y="628.3000000000001" width="4.6" height="4.6" fill="#000"/>
<circle cx="225.3" cy="630.2" r="2.2" fill="#fff" stroke="#000" stroke-width="0.9"/>
<rect x="259.2" y="637.5" width="4.6" height="4.6" fill="#000"/>
<circle cx="225.3" cy="654" r="2.2" fill="#fff" stroke="#000" stroke-width="0.9"/>
<rect x="259.2" y="651.9000000000001" width="4.6" height="4.6" fill="#000"/>
<circle cx="225.3" cy="665.5" r="2.2" fill="#fff" stroke="#000" stroke-width="0.9"/>
<rect x="259.2" y="646.2" width="4.6" height="4.6" fill="#000"/>
<line x1="371.0" y1="602.3" x2="371.0" y2="693.1" stroke="#000" stroke-width="1"/>
<line x1="369.0" y1="693.1" x2="444.0" y2="693.1" stroke="#000" stroke-width="1"/>
<line x1="369.0" y1="602.8" x2="371.0" y2="602.8" stroke="#000" stroke-width="1"/>
<line x1="369.0" y1="647.95" x2="371.0" y2="647.95" stroke="#000" stroke-width="1"/>
<line x1="407.8" y1="693.1" x2="407.8" y2="695.4" stroke="#000" stroke-width="0.9"/>
<text x="367.9" y="607.0" font-size="11" text-anchor="end" >1.2</text>
<text x="367.9" y="651.95" font-size="11" text-anchor="end" >0.6</text>
<text x="367.9" y="697.1" font-size="11" text-anchor="end" >0.0</text>
<line x1="390.1" y1="612.6" x2="425.4" y2="612.6" stroke="#444" stroke-width="1.1"/>
<text x="407.0" y="609.2" font-size="11" text-anchor="middle" >ns</text>
<text x="431.0" y="611.6999999999999" font-size="11" text-anchor="start" >p &gt; 0.05</text>
<text x="389.65" y="705.5" font-size="11.5" text-anchor="middle" textLength="31.8" lengthAdjust="spacingAndGlyphs">buffer</text>
<text x="426.4" y="705.5" font-size="11.5" text-anchor="middle" textLength="28" lengthAdjust="spacingAndGlyphs">AGN</text>
<line x1="389.5" y1="666.7" x2="425.6" y2="666.7" stroke="#000" stroke-width="1"/>
<line x1="389.5" y1="676.3" x2="425.6" y2="682.1" stroke="#000" stroke-width="1"/>
<line x1="389.5" y1="681.4" x2="425.6" y2="684" stroke="#000" stroke-width="1"/>
<line x1="389.5" y1="681.6" x2="425.6" y2="685.8" stroke="#000" stroke-width="1"/>
<circle cx="389.5" cy="666.7" r="2.2" fill="#fff" stroke="#000" stroke-width="0.9"/>
<rect x="423.3" y="664.4000000000001" width="4.6" height="4.6" fill="#000"/>
<circle cx="389.5" cy="676.3" r="2.2" fill="#fff" stroke="#000" stroke-width="0.9"/>
<rect x="423.3" y="679.8000000000001" width="4.6" height="4.6" fill="#000"/>
<circle cx="389.5" cy="681.4" r="2.2" fill="#fff" stroke="#000" stroke-width="0.9"/>
<rect x="423.3" y="681.7" width="4.6" height="4.6" fill="#000"/>
<circle cx="389.5" cy="681.6" r="2.2" fill="#fff" stroke="#000" stroke-width="0.9"/>
<rect x="423.3" y="683.5" width="4.6" height="4.6" fill="#000"/>
</svg></div></body></html>
